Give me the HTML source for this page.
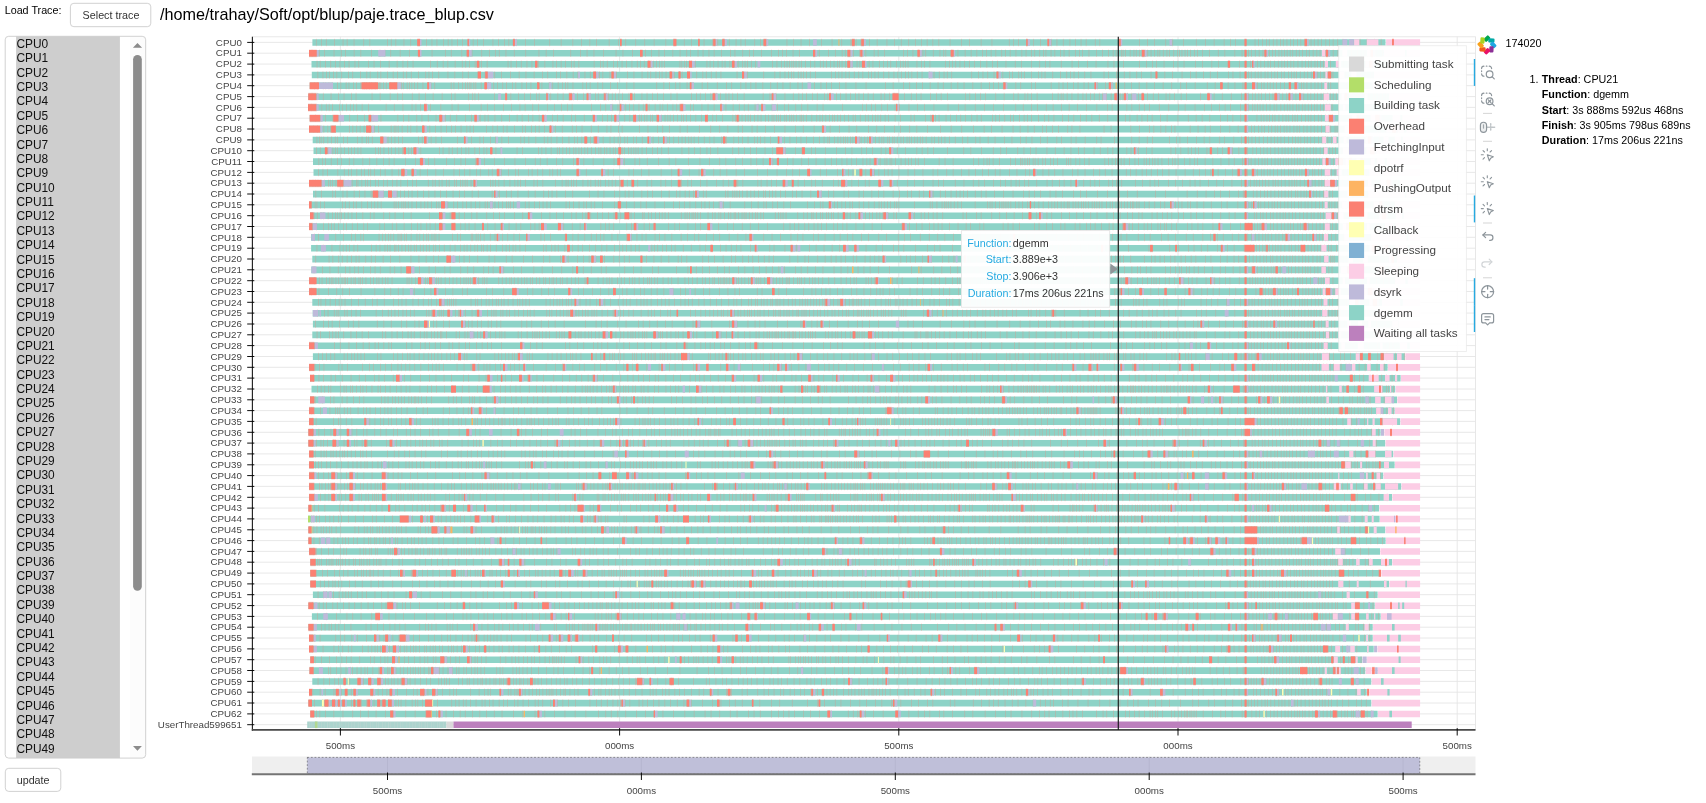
<!DOCTYPE html>
<html><head><meta charset="utf-8"><title>trace</title>
<style>html,body{margin:0;padding:0;background:#fff;width:1706px;height:803px;overflow:hidden}</style></head>
<body>
<svg width="1706" height="803" viewBox="0 0 1706 803" style="position:absolute;left:0;top:0;will-change:transform;font-family:'Liberation Sans',sans-serif">
<g stroke="#e5e5e5" stroke-width="0.9" fill="none">
<path d="M252.5 42.4H1475.5M252.5 53.2H1475.5M252.5 64.1H1475.5M252.5 74.9H1475.5M252.5 85.7H1475.5M252.5 96.6H1475.5M252.5 107.4H1475.5M252.5 118.2H1475.5M252.5 129H1475.5M252.5 139.9H1475.5M252.5 150.7H1475.5M252.5 161.5H1475.5M252.5 172.4H1475.5M252.5 183.2H1475.5M252.5 194H1475.5M252.5 204.8H1475.5M252.5 215.7H1475.5M252.5 226.5H1475.5M252.5 237.3H1475.5M252.5 248.2H1475.5M252.5 259H1475.5M252.5 269.8H1475.5M252.5 280.7H1475.5M252.5 291.5H1475.5M252.5 302.3H1475.5M252.5 313.1H1475.5M252.5 324H1475.5M252.5 334.8H1475.5M252.5 345.6H1475.5M252.5 356.5H1475.5M252.5 367.3H1475.5M252.5 378.1H1475.5M252.5 389H1475.5M252.5 399.8H1475.5M252.5 410.6H1475.5M252.5 421.4H1475.5M252.5 432.3H1475.5M252.5 443.1H1475.5M252.5 453.9H1475.5M252.5 464.8H1475.5M252.5 475.6H1475.5M252.5 486.4H1475.5M252.5 497.3H1475.5M252.5 508.1H1475.5M252.5 518.9H1475.5M252.5 529.8H1475.5M252.5 540.6H1475.5M252.5 551.4H1475.5M252.5 562.2H1475.5M252.5 573.1H1475.5M252.5 583.9H1475.5M252.5 594.7H1475.5M252.5 605.6H1475.5M252.5 616.4H1475.5M252.5 627.2H1475.5M252.5 638H1475.5M252.5 648.9H1475.5M252.5 659.7H1475.5M252.5 670.5H1475.5M252.5 681.4H1475.5M252.5 692.2H1475.5M252.5 703H1475.5M252.5 713.9H1475.5M252.5 724.7H1475.5M340.4 36.8V730M619.6 36.8V730M898.8 36.8V730M1178 36.8V730M1457.2 36.8V730"/>
<rect x="252.5" y="36.8" width="1223" height="693.2"/>
</g>
<path d="M312.4 42.5H1385.5M309 53.3H1383.9M311.5 64.2H1397.3M311.8 75H1374.2M309.7 85.8H1373.2M308.3 96.7H1389M308 107.5H1382.9M309.7 118.3H1392.7M309 129.1H1397.8M312.7 140H1394.9M313.5 150.8H1375.9M313 161.6H1377.4M313.5 172.5H1369.6M309 183.3H1399.9M313 194.1H1368.4M309 204.9H1395.1M310 215.8H1395.8M309.1 226.6H1385M311.1 237.4H1371.2M311.1 248.3H1395.3M312.3 259.1H1397.1M311.3 269.9H1391.4M309.1 280.8H1395.2M309.1 291.6H1370.9M312.3 302.4H1382.1M312.7 313.2H1379.4M312.9 324.1H1398.7M312.3 334.9H1377.1M309 345.7H1399.9M312.9 356.6H1404.9M309.1 367.4H1387.6M310 378.2H1400.6M311.5 389.1H1395.2M310 399.9H1397M309.1 410.7H1394.6M309.1 421.6H1400.2M308.4 432.4H1380.6M308.4 443.2H1385.2M309.1 454H1393.2M309.1 464.9H1394.6M309.1 475.7H1383.2M309.1 486.5H1401.2M309.1 497.4H1392M308.4 508.2H1379M308 519H1379.6M308.4 529.9H1385.2M308.4 540.7H1385.6M309.1 551.5H1380M310.3 562.3H1392M310.3 573.2H1381M310.3 584H1389M312.9 594.8H1377.6M308.4 605.7H1374.7M311.9 616.5H1380.6M308.4 627.3H1372.7M309 638.1H1372.7M309 649H1373.7M310.3 659.8H1362.1M309.5 670.6H1365.3M312.3 681.5H1371.3M309 692.3H1366.7M308.4 703.1H1371.3M310.3 714H1377.6" stroke="#8dd3c7" stroke-width="6.6" fill="none"/>
<g transform="scale(.1)" fill="none" stroke="#fb8072" stroke-opacity=".36" stroke-width="76">
<path d="M3159 425H13854" stroke-dasharray="7 46 7 40 7 77 7 77 7 34 7 62 7 90 7 54 7 170 7 30 7 39 7 74 7 61 7 75 7 69 7 47 7 43 7 58 7 40 7 31 7 47 7 43 7 63 7 31 7 35 7 54 7 88 7 48 7 55 7 35 7 67 7 84 7 86 7 144 7 107 7 110 7 80 7 76 7 61 7 118 7 86 7 66 7 93 7 83 7 87 7 110 7 75 7 95 7 65 7 63 7 49 7 78 7 46 7 47 7 53 7 61 7 42 7 36 7 88 7 51 7 53 7 197 7 59 7 68 7 77 7 112 7 100 7 90 7 84 7 46 7 41 7 80 7 68 7 91 7 69 7 60 7 68 7 61 7 53 7 49 7 50 7 53 7 105 7 106 7 75 7 109 7 101 7 166 7 36 7 43 7 73 7 63 7 64 7 101 7 48 7 56 7 60 7 48 7 49 7 44 7 84 7 39 7 194 7 188 7 74 7 61 7 107 7 63 7 101 7 120 7 87 7 78 7 93 7 56 7 44 7 87 7 94 7 27 7 34 7 31 7 22 7 33 7 30 7 30 7 19 7 30 7 29 7 23 7 34 7 25 7 32 7 25 7 24 7 25 7 31 7 29 7 35 7 30 7 29 7 39 7 45 7 164 7 63 7 70 7 57 7 99999"/>
<path d="M3117 533H13838" stroke-dasharray="7 67 7 42 7 90 7 65 7 36 7 79 7 60 7 100 7 77 7 43 7 51 7 87 7 87 7 105 7 106 7 127 7 51 7 99 7 95 7 90 7 70 7 53 7 31 7 60 7 76 7 108 7 125 7 65 7 66 7 166 7 92 7 57 7 62 7 89 7 118 7 62 7 90 7 120 7 53 7 69 7 48 7 77 7 65 7 60 7 31 7 68 7 43 7 52 7 45 7 65 7 83 7 39 7 71 7 59 7 34 7 74 7 93 7 64 7 32 7 32 7 59 7 57 7 148 7 36 7 86 7 61 7 61 7 24 7 77 7 52 7 56 7 76 7 33 7 55 7 185 7 31 7 49 7 51 7 35 7 21 7 68 7 60 7 31 7 14 7 53 7 54 7 65 7 53 7 50 7 49 7 33 7 40 7 40 7 52 7 32 7 38 7 51 7 52 7 35 7 49 7 24 7 43 7 30 7 18 7 44 7 31 7 48 7 30 7 44 7 58 7 32 7 22 7 58 7 68 7 55 7 52 7 39 7 23 7 17 7 24 7 7 7 16 7 41 7 31 7 16 7 24 7 15 7 29 7 19 7 26 7 27 7 27 7 13 7 27 7 30 7 19 7 35 7 30 7 12 7 19 7 24 7 17 7 24 7 33 7 23 7 43 7 62 7 81 7 59 7 93 7 65 7 23 7 26 7 24 7 31 7 32 7 31 7 21 7 29 7 26 7 20 7 29 7 22 7 19 7 20 7 23 7 19 7 28 7 23 7 27 7 31 7 21 7 32 7 30 7 25 7 32 7 19 7 18 7 34 7 40 7 65 7 57 7 55 7 35 7 24 7 22 7 22 7 47 7 58 7 99999"/>
<path d="M3167 642H13972" stroke-dasharray="7 24 7 48 7 44 7 40 7 38 7 40 7 37 7 52 7 31 7 89 7 50 7 56 7 81 7 73 7 51 7 41 7 46 7 168 7 60 7 52 7 40 7 66 7 64 7 28 7 31 7 49 7 55 7 51 7 202 7 23 7 48 7 40 7 50 7 43 7 56 7 59 7 74 7 27 7 41 7 37 7 54 7 18 7 40 7 146 7 57 7 19 7 34 7 56 7 31 7 40 7 37 7 48 7 46 7 27 7 29 7 33 7 25 7 11 7 24 7 23 7 19 7 17 7 149 7 12 7 18 7 16 7 18 7 22 7 28 7 107 7 24 7 30 7 36 7 34 7 22 7 41 7 30 7 39 7 36 7 19 7 19 7 32 7 33 7 161 7 39 7 38 7 25 7 17 7 18 7 16 7 12 7 16 7 23 7 19 7 32 7 42 7 37 7 47 7 23 7 27 7 30 7 30 7 29 7 12 7 18 7 29 7 24 7 30 7 39 7 21 7 49 7 30 7 31 7 60 7 30 7 34 7 26 7 51 7 33 7 19 7 18 7 17 7 82 7 39 7 24 7 46 7 148 7 35 7 20 7 27 7 35 7 40 7 43 7 41 7 54 7 56 7 48 7 46 7 76 7 86 7 54 7 94 7 76 7 50 7 38 7 106 7 101 7 59 7 83 7 77 7 112 7 53 7 90 7 151 7 65 7 51 7 34 7 68 7 88 7 37 7 54 7 106 7 63 7 88 7 59 7 98 7 98 7 102 7 26 7 30 7 28 7 28 7 30 7 17 7 33 7 31 7 29 7 21 7 21 7 27 7 23 7 34 7 34 7 26 7 23 7 21 7 31 7 17 7 26 7 20 7 24 7 34 7 60 7 53 7 42 7 44 7 52 7 186 7 47 7 91 7 99999"/>
<path d="M3175 750H13742" stroke-dasharray="7 44 7 28 7 23 7 32 7 28 7 42 7 62 7 34 7 71 7 56 7 26 7 69 7 24 7 58 7 51 7 38 7 49 7 28 7 38 7 67 7 64 7 25 7 30 7 54 7 85 7 62 7 72 7 48 7 88 7 66 7 90 7 62 7 82 7 79 7 61 7 75 7 77 7 45 7 81 7 31 7 58 7 56 7 40 7 64 7 46 7 85 7 27 7 64 7 59 7 103 7 57 7 74 7 51 7 22 7 45 7 30 7 17 7 33 7 35 7 32 7 44 7 22 7 139 7 54 7 27 7 43 7 42 7 41 7 154 7 48 7 43 7 155 7 104 7 45 7 42 7 30 7 22 7 16 7 37 7 21 7 18 7 23 7 30 7 46 7 153 7 32 7 27 7 24 7 32 7 26 7 44 7 38 7 34 7 49 7 25 7 26 7 26 7 48 7 44 7 44 7 32 7 29 7 35 7 21 7 27 7 47 7 41 7 66 7 40 7 45 7 41 7 25 7 38 7 193 7 59 7 39 7 41 7 56 7 81 7 59 7 25 7 54 7 22 7 21 7 63 7 63 7 27 7 25 7 70 7 72 7 54 7 29 7 30 7 37 7 56 7 55 7 124 7 36 7 75 7 70 7 50 7 61 7 40 7 89 7 43 7 81 7 70 7 88 7 77 7 50 7 66 7 61 7 66 7 101 7 39 7 64 7 76 7 22 7 32 7 23 7 22 7 33 7 22 7 29 7 26 7 21 7 33 7 19 7 34 7 26 7 18 7 18 7 29 7 33 7 28 7 28 7 21 7 30 7 21 7 28 7 25 7 20 7 23 7 116 7 49 7 91 7 45 7 54 7 99999"/>
<path d="M3140 858H13732" stroke-dasharray="7 23 7 52 7 18 7 25 7 26 7 45 7 27 7 46 7 21 7 39 7 22 7 36 7 28 7 14 7 26 7 15 7 27 7 34 7 8 7 21 7 19 7 37 7 34 7 15 7 37 7 12 7 32 7 17 7 16 7 19 7 26 7 45 7 48 7 19 7 30 7 157 7 21 7 37 7 35 7 24 7 11 7 11 7 10 7 22 7 13 7 46 7 38 7 22 7 45 7 31 7 45 7 31 7 53 7 26 7 54 7 39 7 37 7 59 7 37 7 65 7 29 7 47 7 38 7 20 7 18 7 44 7 92 7 28 7 31 7 70 7 42 7 71 7 63 7 86 7 64 7 221 7 64 7 49 7 56 7 35 7 64 7 53 7 84 7 49 7 88 7 84 7 47 7 84 7 44 7 42 7 44 7 62 7 72 7 58 7 50 7 65 7 71 7 36 7 115 7 58 7 49 7 44 7 70 7 59 7 93 7 94 7 187 7 70 7 97 7 55 7 60 7 53 7 70 7 72 7 45 7 72 7 60 7 55 7 81 7 76 7 78 7 32 7 41 7 42 7 119 7 42 7 100 7 34 7 149 7 71 7 34 7 38 7 51 7 40 7 53 7 35 7 84 7 74 7 64 7 55 7 53 7 61 7 69 7 70 7 68 7 81 7 79 7 83 7 51 7 79 7 114 7 72 7 51 7 65 7 61 7 73 7 140 7 33 7 17 7 28 7 19 7 24 7 25 7 35 7 33 7 30 7 18 7 29 7 22 7 34 7 17 7 24 7 34 7 32 7 24 7 30 7 32 7 19 7 18 7 73 7 68 7 22 7 58 7 70 7 80 7 99999"/>
<path d="M3117 966H13890" stroke-dasharray="7 43 7 55 7 71 7 68 7 48 7 69 7 37 7 153 7 74 7 93 7 69 7 39 7 92 7 61 7 59 7 68 7 83 7 85 7 30 7 127 7 33 7 18 7 29 7 152 7 108 7 42 7 70 7 52 7 52 7 55 7 19 7 68 7 34 7 64 7 46 7 52 7 38 7 33 7 52 7 63 7 42 7 22 7 49 7 18 7 13 7 32 7 24 7 28 7 29 7 58 7 47 7 69 7 44 7 49 7 40 7 54 7 68 7 54 7 138 7 44 7 29 7 45 7 47 7 49 7 35 7 46 7 23 7 31 7 41 7 59 7 183 7 61 7 54 7 82 7 76 7 49 7 30 7 34 7 53 7 39 7 66 7 26 7 22 7 50 7 35 7 47 7 36 7 43 7 29 7 40 7 38 7 44 7 71 7 30 7 41 7 39 7 97 7 60 7 46 7 38 7 87 7 54 7 39 7 57 7 172 7 37 7 51 7 40 7 43 7 97 7 77 7 89 7 37 7 61 7 22 7 31 7 48 7 146 7 50 7 23 7 13 7 33 7 41 7 54 7 42 7 26 7 36 7 30 7 43 7 25 7 35 7 38 7 46 7 30 7 21 7 38 7 31 7 64 7 33 7 46 7 49 7 47 7 67 7 31 7 40 7 59 7 47 7 132 7 77 7 46 7 74 7 83 7 95 7 65 7 32 7 20 7 29 7 18 7 35 7 32 7 28 7 23 7 25 7 29 7 33 7 19 7 26 7 26 7 30 7 35 7 33 7 23 7 29 7 22 7 30 7 20 7 29 7 22 7 22 7 24 7 45 7 30 7 29 7 25 7 28 7 25 7 103 7 31 7 13 7 28 7 27 7 28 7 99999"/>
<path d="M3114 1075H13829" stroke-dasharray="7 39 7 48 7 37 7 22 7 28 7 60 7 23 7 33 7 32 7 24 7 27 7 47 7 56 7 170 7 74 7 80 7 84 7 32 7 40 7 93 7 95 7 105 7 54 7 105 7 111 7 55 7 63 7 83 7 75 7 77 7 45 7 69 7 51 7 83 7 64 7 62 7 52 7 40 7 185 7 84 7 46 7 63 7 45 7 71 7 32 7 34 7 45 7 36 7 52 7 53 7 42 7 21 7 38 7 49 7 31 7 21 7 35 7 60 7 24 7 77 7 54 7 54 7 64 7 40 7 65 7 54 7 43 7 33 7 61 7 24 7 51 7 74 7 48 7 62 7 32 7 67 7 53 7 54 7 86 7 52 7 186 7 193 7 34 7 45 7 30 7 57 7 52 7 67 7 39 7 86 7 77 7 66 7 86 7 134 7 99 7 58 7 94 7 85 7 83 7 94 7 115 7 68 7 76 7 54 7 79 7 62 7 75 7 71 7 75 7 85 7 96 7 98 7 41 7 140 7 43 7 67 7 45 7 44 7 90 7 88 7 89 7 61 7 92 7 89 7 62 7 73 7 49 7 48 7 93 7 70 7 34 7 18 7 20 7 17 7 23 7 26 7 30 7 34 7 20 7 33 7 27 7 23 7 20 7 23 7 27 7 19 7 26 7 21 7 25 7 27 7 23 7 17 7 27 7 23 7 25 7 19 7 21 7 61 7 106 7 99 7 41 7 48 7 94 7 99999"/>
<path d="M3150 1183H13927" stroke-dasharray="7 58 7 30 7 66 7 70 7 85 7 72 7 62 7 78 7 72 7 162 7 49 7 47 7 72 7 45 7 56 7 71 7 38 7 42 7 41 7 58 7 81 7 54 7 78 7 41 7 25 7 61 7 61 7 72 7 68 7 43 7 57 7 36 7 56 7 56 7 64 7 42 7 50 7 76 7 33 7 81 7 77 7 93 7 40 7 34 7 32 7 26 7 54 7 44 7 27 7 14 7 35 7 10 7 24 7 19 7 29 7 14 7 33 7 41 7 29 7 21 7 16 7 28 7 31 7 34 7 14 7 20 7 35 7 46 7 50 7 53 7 45 7 30 7 54 7 96 7 19 7 28 7 24 7 28 7 19 7 18 7 33 7 26 7 24 7 39 7 22 7 28 7 12 7 20 7 11 7 14 7 35 7 10 7 26 7 13 7 13 7 19 7 30 7 9 7 9 7 25 7 47 7 42 7 25 7 19 7 26 7 28 7 26 7 12 7 25 7 22 7 31 7 35 7 38 7 16 7 41 7 44 7 22 7 37 7 23 7 16 7 21 7 37 7 26 7 60 7 45 7 99 7 26 7 107 7 44 7 42 7 27 7 63 7 37 7 53 7 36 7 40 7 56 7 46 7 35 7 107 7 24 7 32 7 44 7 52 7 21 7 55 7 38 7 25 7 35 7 64 7 52 7 35 7 45 7 77 7 54 7 47 7 58 7 52 7 49 7 67 7 78 7 93 7 71 7 37 7 65 7 41 7 50 7 38 7 77 7 59 7 101 7 96 7 72 7 53 7 70 7 100 7 64 7 45 7 72 7 155 7 35 7 21 7 23 7 18 7 22 7 19 7 33 7 32 7 25 7 20 7 30 7 19 7 18 7 31 7 34 7 21 7 20 7 28 7 31 7 23 7 34 7 25 7 31 7 85 7 77 7 102 7 103 7 114 7 99999"/>
<path d="M3134 1291H13977" stroke-dasharray="7 30 7 22 7 28 7 33 7 21 7 40 7 133 7 28 7 32 7 27 7 33 7 46 7 42 7 36 7 118 7 23 7 11 7 15 7 33 7 49 7 24 7 54 7 57 7 58 7 49 7 49 7 49 7 40 7 34 7 49 7 51 7 25 7 29 7 121 7 57 7 37 7 53 7 31 7 68 7 71 7 25 7 51 7 36 7 28 7 47 7 53 7 43 7 60 7 93 7 35 7 49 7 85 7 63 7 80 7 33 7 70 7 28 7 166 7 78 7 88 7 46 7 59 7 100 7 65 7 115 7 106 7 83 7 74 7 96 7 36 7 89 7 44 7 78 7 80 7 99 7 99 7 70 7 102 7 73 7 73 7 88 7 87 7 70 7 110 7 76 7 72 7 90 7 55 7 85 7 64 7 101 7 120 7 101 7 99 7 109 7 101 7 65 7 100 7 103 7 64 7 71 7 56 7 74 7 36 7 50 7 54 7 86 7 35 7 73 7 234 7 63 7 191 7 81 7 93 7 35 7 63 7 43 7 50 7 27 7 145 7 72 7 64 7 44 7 95 7 87 7 76 7 81 7 38 7 24 7 34 7 25 7 21 7 31 7 26 7 27 7 19 7 21 7 29 7 21 7 23 7 33 7 24 7 20 7 34 7 25 7 32 7 26 7 29 7 31 7 31 7 21 7 18 7 36 7 13 7 17 7 33 7 50 7 30 7 39 7 24 7 161 7 21 7 44 7 53 7 21 7 13 7 99999"/>
<path d="M3166 1400H13948" stroke-dasharray="7 17 7 11 7 19 7 34 7 31 7 29 7 17 7 51 7 34 7 92 7 39 7 38 7 12 7 31 7 151 7 27 7 28 7 30 7 30 7 156 7 29 7 37 7 38 7 41 7 49 7 151 7 62 7 66 7 77 7 30 7 62 7 43 7 56 7 59 7 117 7 27 7 39 7 63 7 77 7 29 7 26 7 51 7 50 7 56 7 50 7 22 7 36 7 26 7 45 7 25 7 30 7 52 7 62 7 34 7 33 7 15 7 37 7 19 7 55 7 22 7 51 7 71 7 23 7 48 7 40 7 29 7 20 7 35 7 41 7 28 7 25 7 28 7 17 7 23 7 36 7 51 7 49 7 35 7 67 7 42 7 68 7 40 7 34 7 47 7 56 7 25 7 24 7 35 7 48 7 63 7 64 7 48 7 58 7 38 7 50 7 62 7 54 7 37 7 31 7 11 7 41 7 28 7 22 7 21 7 11 7 16 7 21 7 16 7 26 7 27 7 9 7 29 7 20 7 38 7 28 7 30 7 20 7 13 7 32 7 11 7 25 7 8 7 23 7 30 7 18 7 29 7 15 7 15 7 26 7 18 7 23 7 18 7 27 7 50 7 18 7 37 7 21 7 27 7 38 7 51 7 67 7 45 7 72 7 36 7 74 7 62 7 86 7 69 7 79 7 49 7 51 7 78 7 61 7 89 7 41 7 88 7 42 7 84 7 109 7 36 7 126 7 167 7 67 7 74 7 46 7 161 7 64 7 28 7 70 7 81 7 70 7 50 7 92 7 39 7 88 7 71 7 60 7 29 7 28 7 30 7 35 7 33 7 30 7 29 7 24 7 25 7 30 7 33 7 33 7 20 7 21 7 20 7 31 7 19 7 28 7 30 7 33 7 29 7 26 7 18 7 29 7 39 7 39 7 66 7 56 7 59 7 49 7 46 7 69 7 52 7 99999"/>
<path d="M3161 1508H13759" stroke-dasharray="7 31 7 48 7 24 7 33 7 21 7 12 7 28 7 29 7 31 7 24 7 21 7 29 7 23 7 139 7 24 7 11 7 28 7 39 7 23 7 30 7 29 7 31 7 54 7 20 7 32 7 48 7 178 7 30 7 53 7 25 7 43 7 35 7 38 7 22 7 53 7 40 7 37 7 22 7 37 7 40 7 43 7 154 7 46 7 154 7 27 7 34 7 45 7 54 7 16 7 26 7 29 7 26 7 33 7 15 7 23 7 18 7 27 7 22 7 31 7 34 7 25 7 14 7 30 7 15 7 25 7 25 7 14 7 27 7 10 7 10 7 15 7 36 7 18 7 20 7 14 7 15 7 32 7 39 7 52 7 44 7 34 7 58 7 130 7 62 7 50 7 50 7 60 7 29 7 66 7 142 7 53 7 52 7 53 7 50 7 80 7 67 7 125 7 92 7 57 7 87 7 36 7 90 7 103 7 86 7 56 7 91 7 41 7 52 7 80 7 40 7 107 7 76 7 106 7 46 7 50 7 49 7 133 7 156 7 64 7 100 7 110 7 68 7 51 7 105 7 55 7 57 7 50 7 102 7 76 7 82 7 61 7 70 7 49 7 91 7 55 7 69 7 43 7 133 7 35 7 66 7 74 7 49 7 182 7 41 7 44 7 66 7 27 7 30 7 26 7 77 7 42 7 52 7 42 7 91 7 57 7 78 7 48 7 28 7 34 7 27 7 26 7 29 7 35 7 26 7 31 7 23 7 24 7 25 7 26 7 18 7 30 7 22 7 25 7 25 7 28 7 17 7 34 7 25 7 20 7 30 7 19 7 26 7 30 7 12 7 11 7 154 7 117 7 99999"/>
<path d="M3185 1616H13774" stroke-dasharray="7 29 7 25 7 49 7 57 7 31 7 71 7 39 7 83 7 62 7 64 7 58 7 51 7 43 7 106 7 95 7 50 7 66 7 54 7 112 7 72 7 57 7 40 7 94 7 82 7 91 7 92 7 99 7 99 7 90 7 43 7 62 7 87 7 55 7 101 7 96 7 86 7 100 7 95 7 95 7 100 7 41 7 68 7 105 7 100 7 60 7 118 7 109 7 87 7 97 7 54 7 92 7 61 7 77 7 51 7 57 7 90 7 52 7 82 7 47 7 80 7 59 7 70 7 84 7 56 7 44 7 47 7 43 7 41 7 39 7 59 7 32 7 25 7 33 7 22 7 25 7 41 7 13 7 24 7 11 7 29 7 49 7 35 7 26 7 21 7 34 7 21 7 57 7 138 7 52 7 74 7 197 7 45 7 44 7 25 7 15 7 32 7 58 7 102 7 42 7 42 7 11 7 21 7 20 7 11 7 30 7 13 7 23 7 39 7 22 7 41 7 24 7 33 7 81 7 16 7 15 7 43 7 33 7 38 7 40 7 151 7 28 7 31 7 26 7 15 7 28 7 23 7 48 7 46 7 29 7 49 7 15 7 24 7 23 7 18 7 24 7 32 7 57 7 33 7 20 7 24 7 55 7 49 7 39 7 21 7 71 7 70 7 74 7 73 7 46 7 77 7 49 7 22 7 32 7 26 7 30 7 22 7 19 7 31 7 30 7 24 7 17 7 20 7 22 7 18 7 25 7 19 7 23 7 19 7 26 7 26 7 28 7 28 7 20 7 26 7 22 7 33 7 29 7 25 7 23 7 16 7 25 7 29 7 11 7 30 7 39 7 51 7 26 7 50 7 21 7 27 7 99999"/>
<path d="M3180 1725H13696" stroke-dasharray="7 39 7 40 7 95 7 57 7 35 7 24 7 46 7 39 7 25 7 30 7 17 7 29 7 54 7 40 7 62 7 60 7 42 7 81 7 70 7 67 7 76 7 69 7 98 7 47 7 43 7 49 7 57 7 32 7 78 7 28 7 83 7 64 7 65 7 24 7 91 7 30 7 49 7 43 7 64 7 22 7 38 7 24 7 172 7 73 7 212 7 46 7 148 7 38 7 72 7 69 7 115 7 99 7 67 7 94 7 91 7 46 7 87 7 57 7 60 7 86 7 78 7 120 7 94 7 89 7 88 7 55 7 60 7 93 7 101 7 54 7 103 7 106 7 36 7 58 7 57 7 77 7 39 7 51 7 28 7 32 7 62 7 84 7 60 7 75 7 94 7 41 7 82 7 57 7 77 7 67 7 60 7 62 7 53 7 60 7 41 7 88 7 67 7 78 7 36 7 43 7 75 7 52 7 52 7 75 7 89 7 47 7 64 7 76 7 57 7 48 7 61 7 60 7 68 7 35 7 50 7 53 7 35 7 42 7 56 7 41 7 59 7 64 7 84 7 74 7 56 7 51 7 49 7 65 7 68 7 60 7 42 7 97 7 34 7 26 7 18 7 32 7 19 7 27 7 19 7 28 7 33 7 32 7 24 7 32 7 18 7 20 7 18 7 25 7 19 7 27 7 27 7 29 7 18 7 31 7 23 7 28 7 22 7 26 7 30 7 36 7 32 7 33 7 30 7 18 7 126 7 99999"/>
<path d="M3126 1833H13998" stroke-dasharray="7 17 7 19 7 24 7 27 7 34 7 10 7 14 7 29 7 36 7 31 7 34 7 33 7 35 7 9 7 32 7 31 7 14 7 22 7 43 7 21 7 42 7 32 7 44 7 39 7 32 7 58 7 43 7 34 7 111 7 39 7 17 7 32 7 22 7 38 7 19 7 46 7 15 7 32 7 16 7 16 7 13 7 32 7 19 7 24 7 130 7 18 7 17 7 28 7 46 7 51 7 42 7 24 7 20 7 43 7 76 7 26 7 49 7 118 7 61 7 32 7 14 7 28 7 14 7 22 7 56 7 43 7 22 7 37 7 23 7 18 7 42 7 25 7 26 7 29 7 32 7 33 7 29 7 34 7 57 7 86 7 40 7 85 7 41 7 51 7 91 7 58 7 30 7 83 7 57 7 89 7 59 7 49 7 84 7 43 7 143 7 26 7 52 7 37 7 43 7 143 7 60 7 55 7 67 7 31 7 60 7 104 7 42 7 77 7 45 7 60 7 60 7 32 7 98 7 90 7 72 7 98 7 61 7 80 7 91 7 49 7 41 7 111 7 80 7 86 7 49 7 48 7 85 7 63 7 41 7 50 7 43 7 25 7 44 7 37 7 73 7 96 7 45 7 67 7 38 7 61 7 48 7 66 7 58 7 39 7 40 7 85 7 29 7 33 7 47 7 129 7 63 7 70 7 41 7 28 7 93 7 63 7 63 7 70 7 43 7 43 7 79 7 74 7 61 7 77 7 88 7 84 7 29 7 19 7 21 7 21 7 23 7 28 7 35 7 18 7 19 7 27 7 29 7 32 7 22 7 17 7 18 7 26 7 35 7 33 7 30 7 24 7 31 7 22 7 18 7 26 7 27 7 48 7 55 7 42 7 99 7 40 7 39 7 56 7 59 7 67 7 81 7 99999"/>
<path d="M3155 1941H13683" stroke-dasharray="7 48 7 107 7 22 7 66 7 34 7 64 7 45 7 49 7 55 7 52 7 57 7 130 7 25 7 36 7 32 7 28 7 50 7 52 7 45 7 54 7 50 7 53 7 57 7 57 7 42 7 71 7 54 7 132 7 64 7 67 7 39 7 60 7 96 7 62 7 79 7 42 7 27 7 41 7 79 7 66 7 159 7 80 7 52 7 97 7 48 7 46 7 31 7 41 7 74 7 52 7 41 7 84 7 68 7 67 7 27 7 45 7 34 7 34 7 35 7 50 7 23 7 185 7 18 7 41 7 14 7 14 7 20 7 21 7 39 7 31 7 27 7 36 7 41 7 15 7 33 7 24 7 25 7 39 7 42 7 64 7 35 7 47 7 81 7 98 7 65 7 45 7 96 7 36 7 100 7 37 7 77 7 58 7 48 7 86 7 57 7 72 7 35 7 69 7 38 7 86 7 65 7 46 7 48 7 45 7 31 7 26 7 34 7 71 7 53 7 41 7 79 7 82 7 88 7 98 7 49 7 47 7 51 7 90 7 52 7 60 7 100 7 65 7 53 7 102 7 95 7 112 7 71 7 92 7 177 7 92 7 209 7 94 7 81 7 78 7 54 7 80 7 84 7 41 7 93 7 30 7 27 7 34 7 25 7 26 7 32 7 28 7 27 7 26 7 29 7 20 7 33 7 18 7 24 7 24 7 19 7 27 7 30 7 20 7 27 7 29 7 23 7 27 7 20 7 105 7 106 7 61 7 99999"/>
<path d="M3111 2050H13950" stroke-dasharray="7 30 7 11 7 27 7 33 7 173 7 25 7 30 7 35 7 21 7 48 7 51 7 32 7 26 7 24 7 26 7 123 7 12 7 17 7 27 7 13 7 12 7 18 7 30 7 37 7 39 7 31 7 24 7 31 7 42 7 17 7 35 7 40 7 52 7 32 7 45 7 28 7 40 7 39 7 35 7 46 7 18 7 19 7 16 7 17 7 29 7 31 7 36 7 14 7 11 7 22 7 111 7 31 7 48 7 41 7 30 7 32 7 29 7 148 7 29 7 33 7 47 7 41 7 19 7 40 7 29 7 71 7 114 7 55 7 49 7 71 7 59 7 47 7 80 7 88 7 82 7 53 7 43 7 49 7 51 7 50 7 28 7 36 7 37 7 48 7 36 7 60 7 139 7 61 7 59 7 50 7 17 7 58 7 39 7 58 7 58 7 165 7 63 7 50 7 20 7 48 7 52 7 25 7 36 7 29 7 38 7 20 7 58 7 39 7 44 7 47 7 41 7 17 7 21 7 26 7 22 7 34 7 15 7 14 7 151 7 148 7 14 7 40 7 44 7 16 7 11 7 14 7 20 7 26 7 29 7 31 7 128 7 117 7 18 7 13 7 29 7 31 7 18 7 12 7 14 7 15 7 20 7 39 7 28 7 30 7 40 7 22 7 37 7 35 7 36 7 45 7 28 7 22 7 19 7 31 7 23 7 24 7 11 7 33 7 21 7 17 7 27 7 13 7 15 7 20 7 29 7 15 7 18 7 17 7 20 7 40 7 28 7 17 7 27 7 27 7 14 7 23 7 21 7 24 7 13 7 8 7 23 7 15 7 47 7 40 7 49 7 50 7 36 7 65 7 28 7 24 7 27 7 52 7 21 7 57 7 61 7 67 7 94 7 51 7 100 7 95 7 30 7 29 7 23 7 18 7 32 7 29 7 30 7 19 7 21 7 26 7 33 7 25 7 27 7 23 7 34 7 20 7 32 7 23 7 31 7 32 7 31 7 21 7 28 7 26 7 20 7 24 7 23 7 12 7 14 7 11 7 12 7 20 7 10 7 15 7 108 7 31 7 19 7 31 7 11 7 35 7 15 7 34 7 30 7 36 7 99999"/>
<path d="M3138 2158H13957" stroke-dasharray="7 24 7 31 7 20 7 37 7 37 7 21 7 13 7 19 7 10 7 24 7 27 7 31 7 39 7 56 7 67 7 31 7 90 7 53 7 46 7 78 7 69 7 176 7 95 7 98 7 83 7 46 7 66 7 45 7 91 7 59 7 56 7 42 7 94 7 74 7 72 7 103 7 76 7 59 7 64 7 74 7 37 7 55 7 29 7 41 7 61 7 43 7 54 7 47 7 18 7 35 7 29 7 34 7 19 7 27 7 73 7 10 7 36 7 24 7 31 7 36 7 18 7 22 7 29 7 119 7 31 7 14 7 15 7 20 7 11 7 11 7 14 7 19 7 70 7 36 7 20 7 31 7 13 7 28 7 36 7 15 7 26 7 9 7 20 7 29 7 14 7 12 7 25 7 23 7 25 7 11 7 29 7 18 7 112 7 26 7 16 7 15 7 23 7 110 7 53 7 28 7 38 7 7 7 27 7 31 7 17 7 30 7 13 7 23 7 14 7 39 7 39 7 36 7 25 7 49 7 50 7 31 7 36 7 23 7 35 7 23 7 23 7 17 7 20 7 52 7 21 7 170 7 61 7 29 7 32 7 38 7 32 7 50 7 196 7 29 7 90 7 41 7 99 7 73 7 62 7 68 7 76 7 66 7 60 7 98 7 41 7 92 7 72 7 65 7 62 7 64 7 56 7 92 7 57 7 61 7 67 7 44 7 55 7 26 7 92 7 44 7 47 7 40 7 39 7 61 7 42 7 67 7 50 7 65 7 77 7 78 7 77 7 52 7 99 7 79 7 18 7 31 7 18 7 26 7 34 7 20 7 31 7 24 7 24 7 19 7 26 7 29 7 24 7 34 7 31 7 27 7 34 7 22 7 33 7 18 7 22 7 26 7 30 7 66 7 30 7 24 7 66 7 53 7 39 7 44 7 59 7 27 7 99999"/>
<path d="M3123 2266H13850" stroke-dasharray="7 31 7 62 7 46 7 21 7 21 7 36 7 41 7 26 7 49 7 45 7 56 7 32 7 115 7 38 7 72 7 38 7 67 7 67 7 51 7 29 7 51 7 26 7 45 7 44 7 138 7 52 7 37 7 32 7 53 7 65 7 48 7 66 7 70 7 56 7 64 7 40 7 92 7 35 7 35 7 183 7 49 7 78 7 72 7 200 7 39 7 30 7 39 7 123 7 42 7 45 7 66 7 48 7 180 7 58 7 39 7 78 7 70 7 42 7 89 7 75 7 84 7 52 7 82 7 73 7 77 7 81 7 156 7 56 7 39 7 34 7 53 7 33 7 46 7 32 7 28 7 44 7 65 7 29 7 48 7 34 7 83 7 73 7 75 7 89 7 195 7 68 7 64 7 48 7 67 7 38 7 35 7 32 7 66 7 80 7 74 7 37 7 86 7 33 7 186 7 42 7 43 7 58 7 144 7 37 7 67 7 55 7 75 7 34 7 95 7 41 7 59 7 32 7 40 7 55 7 71 7 32 7 46 7 35 7 59 7 28 7 51 7 50 7 29 7 29 7 59 7 17 7 33 7 15 7 45 7 40 7 103 7 38 7 53 7 42 7 94 7 64 7 98 7 92 7 42 7 26 7 24 7 23 7 19 7 20 7 23 7 30 7 32 7 23 7 28 7 34 7 28 7 26 7 17 7 25 7 35 7 20 7 18 7 18 7 25 7 29 7 32 7 31 7 30 7 27 7 22 7 17 7 29 7 26 7 62 7 41 7 33 7 29 7 71 7 28 7 58 7 47 7 99999"/>
<path d="M3143 2374H13712" stroke-dasharray="7 32 7 165 7 70 7 72 7 34 7 47 7 19 7 149 7 28 7 23 7 22 7 17 7 22 7 36 7 13 7 10 7 21 7 12 7 40 7 51 7 22 7 31 7 24 7 11 7 27 7 15 7 11 7 24 7 127 7 42 7 25 7 100 7 8 7 27 7 13 7 17 7 29 7 54 7 41 7 32 7 29 7 45 7 55 7 47 7 66 7 136 7 28 7 53 7 140 7 70 7 46 7 59 7 58 7 47 7 30 7 29 7 73 7 52 7 81 7 40 7 49 7 44 7 33 7 83 7 39 7 46 7 62 7 86 7 56 7 62 7 37 7 71 7 62 7 56 7 87 7 80 7 74 7 171 7 76 7 77 7 98 7 61 7 45 7 100 7 39 7 61 7 84 7 53 7 65 7 48 7 80 7 64 7 94 7 72 7 109 7 56 7 52 7 91 7 83 7 78 7 64 7 80 7 87 7 85 7 73 7 46 7 68 7 66 7 92 7 156 7 73 7 126 7 83 7 113 7 82 7 49 7 80 7 66 7 60 7 58 7 79 7 51 7 107 7 54 7 51 7 105 7 61 7 66 7 101 7 63 7 89 7 68 7 63 7 52 7 83 7 58 7 83 7 32 7 32 7 27 7 31 7 21 7 19 7 29 7 34 7 24 7 31 7 17 7 25 7 21 7 30 7 30 7 33 7 32 7 28 7 31 7 22 7 24 7 21 7 21 7 20 7 26 7 38 7 68 7 92 7 93 7 40 7 99999"/>
<path d="M3166 2483H13953" stroke-dasharray="7 56 7 80 7 73 7 25 7 24 7 24 7 39 7 31 7 130 7 40 7 31 7 43 7 17 7 20 7 37 7 8 7 19 7 27 7 27 7 24 7 18 7 26 7 17 7 29 7 23 7 25 7 21 7 35 7 16 7 31 7 40 7 52 7 42 7 46 7 31 7 22 7 30 7 34 7 20 7 32 7 12 7 31 7 28 7 49 7 55 7 30 7 28 7 27 7 21 7 34 7 48 7 172 7 21 7 49 7 26 7 25 7 59 7 24 7 39 7 49 7 35 7 64 7 55 7 55 7 43 7 69 7 46 7 23 7 31 7 38 7 36 7 31 7 120 7 20 7 25 7 41 7 34 7 41 7 30 7 74 7 73 7 80 7 48 7 54 7 81 7 50 7 45 7 46 7 37 7 87 7 188 7 35 7 102 7 111 7 119 7 61 7 72 7 74 7 67 7 77 7 67 7 100 7 94 7 56 7 105 7 43 7 45 7 109 7 114 7 62 7 49 7 118 7 110 7 66 7 107 7 42 7 74 7 68 7 109 7 65 7 37 7 63 7 51 7 78 7 37 7 54 7 43 7 62 7 92 7 72 7 81 7 105 7 83 7 108 7 196 7 201 7 81 7 94 7 47 7 65 7 58 7 91 7 92 7 60 7 93 7 57 7 24 7 21 7 23 7 26 7 18 7 33 7 28 7 21 7 18 7 22 7 32 7 35 7 18 7 30 7 24 7 19 7 29 7 28 7 25 7 28 7 23 7 24 7 29 7 33 7 20 7 48 7 74 7 71 7 53 7 42 7 31 7 70 7 44 7 73 7 48 7 99999"/>
<path d="M3154 2591H13971" stroke-dasharray="7 126 7 31 7 52 7 28 7 42 7 38 7 37 7 23 7 60 7 48 7 36 7 69 7 68 7 85 7 104 7 73 7 65 7 69 7 40 7 84 7 51 7 53 7 40 7 48 7 75 7 106 7 51 7 107 7 52 7 105 7 83 7 103 7 58 7 99 7 70 7 86 7 53 7 50 7 59 7 81 7 86 7 47 7 43 7 43 7 165 7 68 7 65 7 70 7 86 7 25 7 48 7 152 7 52 7 53 7 78 7 76 7 33 7 66 7 52 7 34 7 52 7 49 7 41 7 36 7 158 7 73 7 64 7 30 7 84 7 67 7 53 7 42 7 43 7 39 7 69 7 28 7 76 7 44 7 39 7 35 7 212 7 48 7 32 7 46 7 64 7 81 7 102 7 58 7 44 7 104 7 44 7 56 7 66 7 42 7 83 7 103 7 106 7 82 7 44 7 50 7 83 7 57 7 40 7 47 7 66 7 86 7 161 7 75 7 39 7 37 7 37 7 26 7 66 7 131 7 64 7 27 7 43 7 39 7 54 7 35 7 54 7 38 7 49 7 40 7 89 7 48 7 89 7 59 7 62 7 40 7 100 7 30 7 25 7 30 7 31 7 21 7 31 7 17 7 34 7 27 7 27 7 23 7 25 7 17 7 21 7 31 7 28 7 26 7 23 7 35 7 34 7 23 7 34 7 27 7 23 7 9 7 13 7 39 7 16 7 21 7 17 7 125 7 58 7 47 7 34 7 40 7 40 7 26 7 28 7 99999"/>
<path d="M3137 2699H13913" stroke-dasharray="7 77 7 68 7 76 7 67 7 36 7 41 7 28 7 44 7 66 7 37 7 45 7 92 7 39 7 56 7 65 7 105 7 89 7 58 7 86 7 46 7 99 7 63 7 53 7 93 7 42 7 38 7 99 7 91 7 71 7 118 7 76 7 98 7 84 7 104 7 97 7 73 7 93 7 42 7 179 7 79 7 71 7 105 7 52 7 176 7 107 7 76 7 54 7 63 7 76 7 63 7 39 7 86 7 56 7 76 7 55 7 61 7 56 7 57 7 51 7 102 7 49 7 59 7 71 7 67 7 104 7 63 7 61 7 95 7 52 7 55 7 75 7 103 7 213 7 91 7 119 7 74 7 80 7 65 7 87 7 61 7 53 7 116 7 81 7 87 7 56 7 50 7 35 7 78 7 46 7 72 7 50 7 112 7 72 7 78 7 74 7 82 7 46 7 57 7 47 7 72 7 68 7 49 7 23 7 51 7 40 7 139 7 44 7 41 7 31 7 16 7 41 7 22 7 42 7 34 7 57 7 69 7 73 7 45 7 70 7 61 7 55 7 50 7 25 7 17 7 30 7 25 7 28 7 26 7 20 7 26 7 24 7 33 7 35 7 23 7 33 7 27 7 31 7 22 7 17 7 21 7 33 7 25 7 34 7 30 7 24 7 25 7 116 7 55 7 54 7 27 7 42 7 60 7 45 7 47 7 64 7 99999"/>
<path d="M3141 2808H13952" stroke-dasharray="7 41 7 21 7 36 7 22 7 13 7 10 7 23 7 21 7 26 7 14 7 8 7 11 7 30 7 21 7 9 7 27 7 9 7 12 7 28 7 38 7 23 7 27 7 14 7 26 7 25 7 18 7 34 7 143 7 13 7 21 7 29 7 94 7 15 7 14 7 20 7 9 7 16 7 13 7 19 7 34 7 35 7 30 7 31 7 31 7 26 7 15 7 14 7 17 7 14 7 30 7 14 7 36 7 10 7 17 7 111 7 28 7 32 7 30 7 10 7 20 7 31 7 30 7 21 7 17 7 26 7 17 7 31 7 26 7 31 7 15 7 32 7 17 7 10 7 20 7 31 7 14 7 40 7 36 7 32 7 24 7 60 7 123 7 44 7 31 7 16 7 20 7 47 7 32 7 25 7 44 7 20 7 19 7 36 7 35 7 33 7 13 7 15 7 25 7 21 7 48 7 44 7 29 7 56 7 62 7 29 7 32 7 40 7 48 7 19 7 36 7 26 7 9 7 33 7 17 7 16 7 9 7 14 7 17 7 31 7 25 7 14 7 27 7 24 7 31 7 22 7 23 7 15 7 13 7 14 7 29 7 26 7 14 7 26 7 28 7 25 7 18 7 32 7 10 7 9 7 32 7 35 7 14 7 12 7 24 7 39 7 24 7 19 7 27 7 36 7 53 7 53 7 56 7 45 7 36 7 28 7 17 7 89 7 18 7 20 7 29 7 133 7 28 7 41 7 43 7 148 7 49 7 73 7 31 7 37 7 56 7 62 7 40 7 19 7 30 7 17 7 36 7 16 7 30 7 32 7 19 7 26 7 13 7 122 7 43 7 28 7 28 7 38 7 13 7 28 7 33 7 36 7 21 7 28 7 49 7 29 7 57 7 41 7 164 7 51 7 19 7 12 7 14 7 38 7 9 7 37 7 20 7 14 7 28 7 141 7 21 7 26 7 32 7 58 7 41 7 45 7 31 7 18 7 15 7 28 7 49 7 33 7 45 7 52 7 28 7 41 7 28 7 41 7 84 7 80 7 43 7 49 7 39 7 86 7 100 7 19 7 21 7 18 7 23 7 18 7 24 7 25 7 18 7 23 7 31 7 28 7 25 7 26 7 35 7 34 7 20 7 18 7 34 7 34 7 30 7 34 7 20 7 19 7 25 7 19 7 27 7 94 7 97 7 86 7 63 7 63 7 63 7 45 7 99999"/>
<path d="M3111 2916H13708" stroke-dasharray="7 68 7 87 7 77 7 53 7 61 7 108 7 131 7 92 7 53 7 68 7 41 7 105 7 97 7 56 7 44 7 89 7 65 7 90 7 40 7 184 7 56 7 104 7 113 7 110 7 47 7 82 7 59 7 53 7 136 7 92 7 41 7 84 7 73 7 77 7 39 7 84 7 37 7 66 7 57 7 29 7 63 7 52 7 60 7 85 7 67 7 44 7 89 7 78 7 54 7 89 7 79 7 63 7 37 7 172 7 41 7 161 7 71 7 162 7 77 7 32 7 51 7 36 7 34 7 69 7 45 7 80 7 46 7 64 7 61 7 53 7 26 7 23 7 60 7 41 7 148 7 63 7 47 7 86 7 70 7 33 7 56 7 83 7 76 7 36 7 43 7 75 7 60 7 67 7 87 7 46 7 73 7 69 7 114 7 71 7 91 7 50 7 73 7 100 7 106 7 95 7 96 7 38 7 85 7 61 7 46 7 95 7 68 7 71 7 84 7 92 7 80 7 72 7 48 7 52 7 54 7 94 7 57 7 87 7 101 7 33 7 24 7 17 7 24 7 18 7 25 7 23 7 25 7 23 7 18 7 19 7 32 7 27 7 23 7 33 7 24 7 21 7 27 7 18 7 22 7 22 7 26 7 24 7 27 7 30 7 42 7 87 7 82 7 76 7 99999"/>
<path d="M3182 3024H13821" stroke-dasharray="7 17 7 41 7 37 7 46 7 30 7 20 7 25 7 58 7 63 7 60 7 67 7 38 7 64 7 84 7 43 7 29 7 34 7 62 7 46 7 43 7 45 7 22 7 43 7 48 7 16 7 24 7 16 7 12 7 15 7 16 7 144 7 39 7 14 7 30 7 40 7 22 7 28 7 30 7 15 7 24 7 18 7 34 7 42 7 38 7 16 7 22 7 25 7 26 7 161 7 34 7 27 7 28 7 21 7 21 7 29 7 16 7 25 7 21 7 48 7 53 7 33 7 57 7 77 7 50 7 70 7 42 7 28 7 28 7 60 7 34 7 23 7 24 7 34 7 57 7 35 7 28 7 31 7 48 7 56 7 35 7 29 7 29 7 59 7 46 7 54 7 57 7 43 7 64 7 44 7 23 7 41 7 60 7 26 7 31 7 12 7 32 7 20 7 25 7 30 7 8 7 30 7 11 7 14 7 32 7 37 7 33 7 23 7 39 7 17 7 23 7 18 7 23 7 23 7 20 7 22 7 27 7 11 7 25 7 16 7 29 7 36 7 14 7 23 7 19 7 29 7 23 7 8 7 24 7 12 7 18 7 29 7 41 7 55 7 46 7 40 7 21 7 12 7 40 7 10 7 23 7 24 7 34 7 42 7 37 7 64 7 57 7 34 7 48 7 63 7 24 7 25 7 56 7 43 7 22 7 28 7 59 7 25 7 42 7 65 7 56 7 35 7 67 7 47 7 17 7 35 7 21 7 21 7 38 7 15 7 23 7 29 7 49 7 50 7 43 7 44 7 55 7 48 7 52 7 49 7 23 7 34 7 48 7 17 7 20 7 54 7 52 7 49 7 117 7 18 7 23 7 39 7 26 7 121 7 33 7 25 7 106 7 28 7 21 7 158 7 46 7 44 7 57 7 80 7 71 7 55 7 35 7 35 7 24 7 20 7 28 7 29 7 29 7 30 7 19 7 24 7 19 7 24 7 26 7 31 7 29 7 33 7 34 7 21 7 20 7 19 7 32 7 32 7 28 7 21 7 29 7 35 7 26 7 46 7 76 7 25 7 76 7 36 7 36 7 46 7 99999"/>
<path d="M3170 3132H13794" stroke-dasharray="7 66 7 27 7 55 7 20 7 12 7 52 7 17 7 36 7 39 7 38 7 149 7 56 7 51 7 26 7 27 7 27 7 39 7 30 7 31 7 31 7 114 7 19 7 22 7 28 7 31 7 14 7 17 7 46 7 57 7 26 7 61 7 59 7 34 7 105 7 37 7 15 7 14 7 41 7 14 7 32 7 21 7 45 7 29 7 42 7 36 7 18 7 33 7 119 7 19 7 18 7 41 7 28 7 25 7 29 7 12 7 11 7 10 7 9 7 14 7 21 7 31 7 23 7 17 7 32 7 15 7 20 7 45 7 50 7 47 7 29 7 29 7 23 7 48 7 37 7 72 7 63 7 26 7 23 7 53 7 66 7 21 7 194 7 42 7 46 7 39 7 37 7 30 7 35 7 28 7 16 7 36 7 18 7 11 7 15 7 30 7 21 7 27 7 24 7 13 7 15 7 23 7 26 7 15 7 33 7 38 7 42 7 16 7 25 7 10 7 26 7 23 7 15 7 30 7 34 7 8 7 28 7 14 7 13 7 29 7 34 7 31 7 20 7 35 7 27 7 35 7 22 7 31 7 30 7 31 7 18 7 39 7 32 7 10 7 18 7 16 7 24 7 12 7 10 7 24 7 30 7 33 7 14 7 13 7 27 7 24 7 87 7 16 7 17 7 169 7 40 7 36 7 40 7 47 7 33 7 54 7 38 7 47 7 35 7 28 7 62 7 49 7 23 7 36 7 36 7 30 7 40 7 32 7 52 7 29 7 115 7 19 7 47 7 27 7 52 7 52 7 35 7 77 7 151 7 73 7 67 7 45 7 79 7 81 7 47 7 50 7 71 7 46 7 60 7 29 7 38 7 63 7 41 7 62 7 46 7 148 7 43 7 40 7 88 7 101 7 76 7 87 7 34 7 20 7 31 7 25 7 32 7 29 7 21 7 32 7 21 7 25 7 17 7 31 7 19 7 19 7 19 7 18 7 33 7 19 7 29 7 28 7 19 7 24 7 18 7 27 7 19 7 22 7 25 7 26 7 23 7 18 7 23 7 26 7 36 7 118 7 27 7 11 7 19 7 25 7 18 7 31 7 99999"/>
<path d="M3150 3241H13986" stroke-dasharray="7 74 7 45 7 28 7 67 7 81 7 42 7 49 7 177 7 59 7 67 7 96 7 45 7 74 7 35 7 53 7 77 7 26 7 59 7 52 7 153 7 26 7 28 7 49 7 32 7 59 7 28 7 45 7 33 7 202 7 44 7 42 7 88 7 65 7 60 7 83 7 207 7 98 7 48 7 49 7 99 7 76 7 116 7 41 7 59 7 68 7 75 7 60 7 121 7 74 7 64 7 110 7 171 7 67 7 102 7 64 7 41 7 45 7 119 7 90 7 129 7 102 7 46 7 118 7 73 7 98 7 88 7 39 7 67 7 82 7 188 7 92 7 46 7 87 7 168 7 105 7 118 7 52 7 46 7 94 7 112 7 120 7 97 7 91 7 80 7 70 7 33 7 90 7 41 7 74 7 93 7 55 7 49 7 92 7 83 7 62 7 101 7 40 7 56 7 36 7 36 7 91 7 73 7 78 7 72 7 77 7 37 7 45 7 48 7 103 7 54 7 69 7 87 7 35 7 23 7 31 7 27 7 33 7 19 7 26 7 30 7 25 7 20 7 19 7 20 7 30 7 19 7 28 7 23 7 28 7 28 7 18 7 31 7 22 7 30 7 35 7 18 7 30 7 19 7 33 7 25 7 47 7 33 7 48 7 52 7 31 7 38 7 50 7 64 7 76 7 54 7 44 7 99999"/>
<path d="M3167 3349H13771" stroke-dasharray="7 29 7 80 7 27 7 25 7 19 7 45 7 65 7 47 7 51 7 55 7 136 7 24 7 55 7 45 7 45 7 50 7 24 7 24 7 53 7 33 7 20 7 39 7 21 7 27 7 19 7 8 7 38 7 91 7 27 7 47 7 22 7 17 7 30 7 28 7 26 7 47 7 38 7 44 7 34 7 13 7 24 7 125 7 27 7 49 7 46 7 18 7 14 7 17 7 24 7 28 7 29 7 59 7 26 7 17 7 16 7 39 7 15 7 35 7 29 7 15 7 33 7 30 7 19 7 35 7 28 7 26 7 24 7 50 7 41 7 41 7 24 7 34 7 23 7 13 7 17 7 28 7 31 7 10 7 18 7 69 7 28 7 19 7 14 7 36 7 33 7 42 7 19 7 39 7 46 7 46 7 25 7 76 7 70 7 75 7 49 7 48 7 52 7 58 7 47 7 54 7 23 7 41 7 26 7 17 7 19 7 22 7 11 7 9 7 26 7 23 7 25 7 11 7 18 7 8 7 13 7 31 7 18 7 29 7 23 7 11 7 13 7 25 7 91 7 24 7 28 7 27 7 17 7 31 7 33 7 39 7 23 7 32 7 13 7 22 7 14 7 40 7 26 7 26 7 23 7 36 7 48 7 33 7 102 7 112 7 12 7 31 7 46 7 12 7 28 7 32 7 37 7 37 7 51 7 60 7 59 7 46 7 20 7 53 7 33 7 37 7 138 7 61 7 79 7 67 7 55 7 63 7 91 7 84 7 53 7 48 7 39 7 66 7 98 7 36 7 69 7 73 7 30 7 59 7 39 7 113 7 36 7 39 7 27 7 40 7 14 7 11 7 30 7 26 7 24 7 23 7 34 7 21 7 25 7 25 7 31 7 24 7 36 7 12 7 97 7 79 7 91 7 42 7 82 7 57 7 8 7 31 7 28 7 31 7 31 7 18 7 34 7 18 7 19 7 24 7 23 7 30 7 24 7 22 7 17 7 23 7 21 7 29 7 19 7 28 7 20 7 24 7 21 7 31 7 34 7 18 7 27 7 26 7 26 7 27 7 21 7 29 7 26 7 17 7 10 7 13 7 25 7 16 7 33 7 40 7 35 7 15 7 99999"/>
<path d="M3141 3457H13999" stroke-dasharray="7 193 7 51 7 80 7 67 7 61 7 53 7 52 7 27 7 47 7 43 7 21 7 143 7 46 7 77 7 41 7 37 7 50 7 45 7 79 7 30 7 56 7 59 7 31 7 64 7 49 7 47 7 34 7 90 7 192 7 84 7 58 7 47 7 226 7 36 7 68 7 57 7 89 7 38 7 33 7 52 7 85 7 62 7 50 7 71 7 68 7 60 7 86 7 45 7 101 7 94 7 73 7 52 7 38 7 41 7 35 7 57 7 31 7 54 7 77 7 59 7 39 7 71 7 44 7 86 7 92 7 98 7 99 7 80 7 106 7 65 7 64 7 38 7 212 7 51 7 48 7 79 7 128 7 46 7 78 7 106 7 47 7 76 7 105 7 59 7 110 7 44 7 99 7 78 7 111 7 118 7 40 7 153 7 95 7 82 7 111 7 41 7 54 7 61 7 73 7 182 7 100 7 47 7 51 7 113 7 47 7 41 7 60 7 47 7 116 7 52 7 43 7 55 7 38 7 72 7 71 7 69 7 82 7 46 7 97 7 20 7 23 7 22 7 29 7 22 7 32 7 29 7 33 7 27 7 28 7 24 7 25 7 24 7 30 7 30 7 24 7 35 7 21 7 19 7 34 7 21 7 27 7 20 7 24 7 28 7 100 7 104 7 79 7 63 7 84 7 66 7 37 7 30 7 99999"/>
<path d="M3182 3566H14049" stroke-dasharray="7 31 7 35 7 35 7 33 7 87 7 26 7 36 7 20 7 26 7 25 7 30 7 122 7 27 7 117 7 37 7 40 7 42 7 20 7 34 7 43 7 41 7 36 7 24 7 26 7 26 7 31 7 44 7 29 7 33 7 33 7 14 7 32 7 18 7 91 7 26 7 141 7 31 7 24 7 32 7 25 7 27 7 15 7 21 7 19 7 18 7 41 7 14 7 23 7 150 7 35 7 42 7 33 7 46 7 33 7 17 7 27 7 41 7 145 7 39 7 38 7 39 7 21 7 10 7 33 7 16 7 26 7 78 7 13 7 16 7 40 7 32 7 24 7 20 7 22 7 8 7 39 7 19 7 12 7 24 7 23 7 36 7 31 7 18 7 17 7 50 7 21 7 158 7 10 7 41 7 31 7 25 7 31 7 17 7 15 7 20 7 43 7 38 7 22 7 50 7 40 7 34 7 22 7 71 7 28 7 35 7 57 7 46 7 30 7 27 7 44 7 71 7 61 7 59 7 33 7 55 7 71 7 76 7 31 7 27 7 69 7 57 7 64 7 80 7 50 7 59 7 73 7 43 7 59 7 53 7 49 7 159 7 38 7 48 7 22 7 50 7 61 7 36 7 28 7 156 7 92 7 27 7 46 7 25 7 39 7 57 7 48 7 45 7 66 7 36 7 33 7 25 7 43 7 29 7 51 7 60 7 40 7 55 7 16 7 20 7 25 7 40 7 26 7 17 7 40 7 15 7 18 7 37 7 18 7 44 7 25 7 51 7 29 7 25 7 189 7 49 7 24 7 41 7 50 7 23 7 22 7 38 7 90 7 58 7 98 7 51 7 66 7 46 7 23 7 24 7 11 7 22 7 26 7 25 7 17 7 26 7 31 7 18 7 23 7 31 7 19 7 35 7 27 7 34 7 21 7 35 7 17 7 21 7 26 7 19 7 32 7 34 7 18 7 31 7 26 7 18 7 33 7 63 7 31 7 55 7 54 7 51 7 75 7 63 7 84 7 78 7 82 7 99999"/>
<path d="M3146 3674H13876" stroke-dasharray="7 39 7 37 7 142 7 25 7 49 7 140 7 63 7 35 7 62 7 43 7 53 7 58 7 26 7 38 7 34 7 42 7 54 7 70 7 31 7 31 7 23 7 38 7 127 7 63 7 63 7 70 7 45 7 23 7 23 7 49 7 45 7 89 7 35 7 40 7 49 7 80 7 119 7 85 7 63 7 98 7 62 7 38 7 98 7 49 7 58 7 87 7 68 7 80 7 45 7 84 7 117 7 96 7 50 7 69 7 102 7 47 7 89 7 114 7 47 7 72 7 57 7 114 7 102 7 52 7 38 7 69 7 91 7 69 7 63 7 35 7 77 7 54 7 38 7 40 7 43 7 73 7 72 7 80 7 86 7 105 7 89 7 61 7 82 7 38 7 46 7 58 7 75 7 69 7 101 7 45 7 53 7 35 7 168 7 40 7 84 7 53 7 64 7 43 7 78 7 82 7 30 7 79 7 96 7 47 7 93 7 101 7 82 7 216 7 56 7 114 7 106 7 76 7 64 7 98 7 76 7 102 7 97 7 102 7 88 7 41 7 86 7 102 7 97 7 22 7 33 7 32 7 22 7 30 7 34 7 32 7 32 7 23 7 32 7 35 7 22 7 30 7 28 7 23 7 34 7 26 7 26 7 35 7 25 7 27 7 25 7 69 7 43 7 24 7 40 7 46 7 53 7 44 7 61 7 65 7 99999"/>
<path d="M3131 3782H14005" stroke-dasharray="7 48 7 37 7 70 7 38 7 60 7 81 7 75 7 55 7 84 7 37 7 47 7 82 7 55 7 42 7 57 7 89 7 84 7 58 7 74 7 69 7 112 7 41 7 100 7 63 7 109 7 70 7 53 7 157 7 85 7 60 7 94 7 80 7 66 7 58 7 48 7 57 7 34 7 47 7 50 7 88 7 72 7 64 7 46 7 48 7 40 7 54 7 51 7 26 7 66 7 68 7 64 7 90 7 46 7 36 7 37 7 56 7 71 7 65 7 55 7 111 7 99 7 90 7 85 7 29 7 69 7 71 7 33 7 49 7 67 7 43 7 42 7 42 7 84 7 101 7 86 7 48 7 80 7 60 7 44 7 70 7 49 7 55 7 34 7 61 7 39 7 31 7 40 7 32 7 45 7 51 7 29 7 23 7 32 7 50 7 58 7 34 7 54 7 37 7 53 7 61 7 45 7 49 7 74 7 72 7 79 7 50 7 28 7 72 7 135 7 65 7 79 7 55 7 32 7 73 7 52 7 39 7 50 7 62 7 48 7 119 7 53 7 30 7 63 7 52 7 39 7 84 7 76 7 83 7 39 7 57 7 62 7 82 7 83 7 58 7 74 7 49 7 97 7 21 7 20 7 35 7 31 7 17 7 23 7 19 7 22 7 31 7 20 7 23 7 23 7 25 7 17 7 32 7 23 7 26 7 30 7 30 7 20 7 23 7 25 7 21 7 27 7 22 7 19 7 24 7 180 7 22 7 43 7 34 7 57 7 24 7 31 7 40 7 42 7 47 7 26 7 99999"/>
<path d="M3173 3891H13951" stroke-dasharray="7 28 7 29 7 29 7 18 7 88 7 30 7 15 7 34 7 15 7 31 7 33 7 19 7 29 7 47 7 54 7 19 7 42 7 39 7 55 7 40 7 44 7 31 7 93 7 68 7 32 7 43 7 75 7 74 7 89 7 60 7 77 7 77 7 35 7 34 7 59 7 39 7 43 7 50 7 35 7 84 7 67 7 51 7 26 7 46 7 45 7 56 7 47 7 68 7 60 7 29 7 13 7 17 7 23 7 32 7 37 7 42 7 27 7 15 7 16 7 11 7 34 7 27 7 16 7 18 7 38 7 21 7 48 7 21 7 34 7 59 7 32 7 67 7 37 7 46 7 24 7 46 7 49 7 60 7 48 7 40 7 57 7 63 7 33 7 58 7 42 7 59 7 23 7 60 7 35 7 25 7 23 7 26 7 31 7 20 7 16 7 34 7 36 7 119 7 32 7 19 7 30 7 15 7 35 7 18 7 21 7 28 7 32 7 16 7 47 7 33 7 34 7 41 7 15 7 45 7 21 7 25 7 46 7 36 7 13 7 26 7 58 7 50 7 53 7 47 7 58 7 29 7 31 7 175 7 52 7 54 7 60 7 52 7 23 7 40 7 46 7 143 7 46 7 21 7 32 7 34 7 48 7 50 7 41 7 36 7 23 7 19 7 17 7 9 7 15 7 11 7 9 7 8 7 12 7 18 7 33 7 20 7 32 7 58 7 28 7 21 7 39 7 23 7 16 7 42 7 23 7 27 7 36 7 24 7 16 7 22 7 34 7 46 7 24 7 14 7 30 7 21 7 13 7 27 7 41 7 22 7 8 7 8 7 13 7 27 7 20 7 25 7 27 7 32 7 36 7 40 7 22 7 17 7 8 7 16 7 31 7 31 7 20 7 19 7 26 7 20 7 26 7 29 7 77 7 84 7 99 7 92 7 85 7 40 7 23 7 21 7 27 7 27 7 34 7 26 7 34 7 31 7 23 7 28 7 20 7 20 7 32 7 25 7 27 7 18 7 34 7 28 7 25 7 35 7 30 7 30 7 35 7 29 7 116 7 45 7 53 7 49 7 25 7 157 7 18 7 36 7 15 7 16 7 19 7 99999"/>
<path d="M3148 3999H13969" stroke-dasharray="7 65 7 76 7 26 7 75 7 42 7 59 7 51 7 37 7 169 7 28 7 24 7 37 7 21 7 26 7 23 7 21 7 38 7 21 7 19 7 9 7 17 7 26 7 42 7 44 7 165 7 38 7 26 7 43 7 73 7 20 7 17 7 46 7 56 7 61 7 39 7 21 7 41 7 54 7 40 7 48 7 51 7 57 7 32 7 46 7 43 7 116 7 58 7 40 7 29 7 43 7 57 7 42 7 34 7 60 7 58 7 21 7 40 7 28 7 29 7 23 7 46 7 56 7 40 7 21 7 31 7 36 7 175 7 42 7 54 7 77 7 41 7 59 7 44 7 61 7 67 7 78 7 77 7 47 7 66 7 37 7 53 7 86 7 70 7 50 7 100 7 68 7 72 7 70 7 33 7 72 7 178 7 67 7 61 7 38 7 26 7 44 7 38 7 29 7 18 7 30 7 52 7 18 7 28 7 47 7 27 7 63 7 34 7 57 7 36 7 29 7 51 7 84 7 81 7 62 7 37 7 86 7 32 7 45 7 43 7 69 7 73 7 36 7 87 7 74 7 69 7 72 7 155 7 75 7 42 7 214 7 62 7 50 7 44 7 76 7 60 7 42 7 39 7 52 7 79 7 58 7 77 7 219 7 97 7 47 7 64 7 65 7 79 7 61 7 77 7 89 7 33 7 30 7 33 7 23 7 18 7 33 7 22 7 21 7 17 7 32 7 28 7 30 7 19 7 22 7 34 7 31 7 33 7 22 7 31 7 24 7 23 7 35 7 64 7 41 7 59 7 17 7 44 7 21 7 21 7 29 7 12 7 10 7 133 7 99999"/>
<path d="M3112 4107H13945" stroke-dasharray="7 24 7 52 7 87 7 47 7 17 7 14 7 37 7 24 7 27 7 66 7 49 7 23 7 27 7 48 7 42 7 37 7 24 7 25 7 45 7 44 7 49 7 87 7 60 7 38 7 149 7 56 7 67 7 56 7 43 7 93 7 74 7 86 7 77 7 88 7 41 7 55 7 58 7 52 7 101 7 91 7 97 7 47 7 71 7 70 7 75 7 41 7 175 7 62 7 95 7 104 7 38 7 108 7 107 7 75 7 65 7 44 7 86 7 102 7 81 7 67 7 60 7 70 7 82 7 39 7 96 7 73 7 40 7 38 7 37 7 99 7 77 7 90 7 91 7 75 7 78 7 47 7 56 7 35 7 63 7 146 7 20 7 38 7 37 7 48 7 23 7 67 7 53 7 153 7 16 7 49 7 43 7 31 7 37 7 53 7 51 7 32 7 20 7 36 7 29 7 26 7 22 7 37 7 47 7 31 7 37 7 21 7 20 7 19 7 17 7 20 7 29 7 21 7 66 7 31 7 21 7 32 7 13 7 16 7 23 7 19 7 15 7 31 7 9 7 40 7 38 7 23 7 24 7 37 7 28 7 23 7 15 7 11 7 8 7 9 7 11 7 26 7 151 7 27 7 30 7 29 7 32 7 39 7 48 7 30 7 21 7 15 7 30 7 44 7 31 7 51 7 24 7 52 7 16 7 17 7 31 7 27 7 33 7 34 7 94 7 67 7 44 7 98 7 69 7 100 7 18 7 33 7 24 7 18 7 34 7 24 7 33 7 23 7 28 7 21 7 25 7 22 7 19 7 23 7 28 7 29 7 23 7 20 7 28 7 29 7 17 7 29 7 22 7 24 7 26 7 18 7 24 7 49 7 20 7 34 7 34 7 10 7 22 7 31 7 20 7 31 7 11 7 19 7 17 7 44 7 31 7 20 7 31 7 19 7 34 7 99999"/>
<path d="M3125 4216H14001" stroke-dasharray="7 26 7 165 7 44 7 17 7 47 7 49 7 124 7 42 7 44 7 48 7 26 7 40 7 25 7 41 7 43 7 37 7 53 7 38 7 32 7 117 7 18 7 22 7 43 7 47 7 39 7 50 7 19 7 37 7 56 7 23 7 16 7 36 7 33 7 34 7 34 7 40 7 20 7 8 7 15 7 42 7 31 7 24 7 43 7 46 7 22 7 11 7 19 7 37 7 40 7 47 7 29 7 28 7 20 7 69 7 20 7 41 7 41 7 54 7 31 7 31 7 67 7 34 7 31 7 24 7 22 7 32 7 28 7 134 7 37 7 28 7 14 7 23 7 18 7 30 7 45 7 51 7 50 7 23 7 32 7 46 7 52 7 50 7 31 7 35 7 79 7 41 7 37 7 51 7 24 7 48 7 50 7 55 7 62 7 62 7 69 7 70 7 79 7 25 7 47 7 69 7 24 7 43 7 46 7 81 7 61 7 52 7 59 7 38 7 47 7 25 7 19 7 20 7 15 7 19 7 91 7 16 7 17 7 11 7 16 7 20 7 30 7 36 7 53 7 18 7 19 7 30 7 32 7 85 7 22 7 25 7 24 7 18 7 26 7 20 7 21 7 32 7 23 7 36 7 113 7 21 7 19 7 40 7 55 7 47 7 21 7 36 7 32 7 192 7 23 7 46 7 72 7 55 7 55 7 55 7 161 7 48 7 28 7 51 7 47 7 23 7 57 7 47 7 62 7 62 7 31 7 56 7 60 7 49 7 54 7 24 7 73 7 60 7 51 7 45 7 129 7 62 7 54 7 81 7 50 7 96 7 68 7 40 7 49 7 35 7 30 7 31 7 24 7 34 7 25 7 30 7 28 7 25 7 30 7 22 7 18 7 31 7 22 7 24 7 33 7 29 7 22 7 22 7 32 7 35 7 20 7 32 7 34 7 26 7 29 7 59 7 81 7 41 7 73 7 84 7 84 7 90 7 99999"/>
<path d="M3120 4324H13806" stroke-dasharray="7 58 7 48 7 59 7 33 7 52 7 57 7 40 7 42 7 60 7 27 7 71 7 53 7 47 7 65 7 36 7 79 7 37 7 37 7 49 7 80 7 29 7 46 7 100 7 95 7 112 7 38 7 38 7 203 7 93 7 98 7 36 7 60 7 84 7 52 7 143 7 79 7 32 7 46 7 57 7 105 7 69 7 61 7 30 7 57 7 52 7 33 7 68 7 60 7 41 7 24 7 42 7 54 7 56 7 25 7 19 7 19 7 28 7 34 7 32 7 38 7 31 7 49 7 27 7 12 7 27 7 10 7 18 7 9 7 113 7 37 7 41 7 32 7 37 7 36 7 39 7 31 7 31 7 30 7 13 7 16 7 37 7 47 7 47 7 46 7 57 7 39 7 42 7 28 7 44 7 49 7 16 7 116 7 14 7 19 7 10 7 31 7 24 7 19 7 18 7 18 7 54 7 24 7 37 7 23 7 64 7 25 7 179 7 44 7 69 7 68 7 22 7 24 7 43 7 21 7 51 7 32 7 26 7 48 7 27 7 27 7 18 7 129 7 16 7 14 7 17 7 11 7 19 7 16 7 119 7 18 7 41 7 46 7 46 7 33 7 59 7 35 7 17 7 34 7 23 7 43 7 32 7 23 7 37 7 42 7 52 7 38 7 42 7 45 7 29 7 36 7 37 7 19 7 44 7 43 7 20 7 18 7 19 7 57 7 47 7 18 7 41 7 25 7 36 7 19 7 25 7 28 7 19 7 160 7 30 7 19 7 9 7 13 7 28 7 28 7 41 7 73 7 79 7 91 7 74 7 54 7 18 7 26 7 36 7 18 7 34 7 24 7 31 7 32 7 29 7 26 7 29 7 29 7 29 7 18 7 30 7 34 7 26 7 26 7 22 7 33 7 30 7 32 7 29 7 33 7 31 7 24 7 30 7 77 7 49 7 41 7 27 7 25 7 47 7 40 7 61 7 99999"/>
<path d="M3118 4432H13852" stroke-dasharray="7 35 7 39 7 18 7 35 7 53 7 36 7 54 7 31 7 59 7 18 7 45 7 23 7 15 7 32 7 146 7 52 7 32 7 33 7 60 7 31 7 38 7 38 7 22 7 30 7 37 7 23 7 48 7 20 7 50 7 136 7 54 7 46 7 24 7 25 7 25 7 72 7 58 7 41 7 78 7 51 7 67 7 54 7 58 7 37 7 61 7 66 7 70 7 63 7 48 7 40 7 67 7 60 7 53 7 25 7 69 7 54 7 59 7 63 7 25 7 39 7 37 7 55 7 70 7 42 7 40 7 34 7 129 7 43 7 47 7 49 7 27 7 42 7 88 7 61 7 49 7 72 7 65 7 38 7 30 7 29 7 26 7 34 7 27 7 14 7 15 7 22 7 12 7 20 7 45 7 39 7 30 7 15 7 43 7 18 7 26 7 66 7 48 7 41 7 30 7 55 7 36 7 59 7 38 7 75 7 45 7 62 7 53 7 50 7 46 7 44 7 55 7 27 7 26 7 39 7 55 7 55 7 48 7 25 7 39 7 78 7 53 7 68 7 39 7 45 7 53 7 41 7 47 7 83 7 104 7 46 7 39 7 55 7 45 7 71 7 179 7 102 7 54 7 97 7 81 7 114 7 99 7 88 7 74 7 91 7 51 7 40 7 62 7 97 7 75 7 59 7 79 7 117 7 74 7 51 7 68 7 80 7 72 7 48 7 77 7 22 7 27 7 31 7 20 7 29 7 33 7 31 7 34 7 24 7 21 7 30 7 33 7 25 7 25 7 18 7 29 7 27 7 29 7 25 7 24 7 27 7 23 7 31 7 34 7 51 7 76 7 86 7 45 7 63 7 59 7 99999"/>
<path d="M3149 4540H13931" stroke-dasharray="7 51 7 23 7 16 7 39 7 15 7 24 7 29 7 22 7 11 7 24 7 29 7 37 7 43 7 16 7 27 7 45 7 153 7 60 7 39 7 52 7 40 7 49 7 59 7 35 7 150 7 53 7 96 7 26 7 55 7 32 7 57 7 33 7 64 7 37 7 39 7 29 7 28 7 162 7 27 7 40 7 27 7 21 7 58 7 34 7 61 7 45 7 27 7 52 7 56 7 98 7 88 7 76 7 99 7 39 7 75 7 108 7 51 7 79 7 70 7 67 7 80 7 102 7 63 7 46 7 53 7 95 7 71 7 66 7 39 7 53 7 50 7 114 7 74 7 79 7 49 7 80 7 72 7 48 7 96 7 77 7 47 7 116 7 51 7 88 7 38 7 47 7 68 7 37 7 144 7 77 7 100 7 47 7 114 7 93 7 97 7 152 7 111 7 80 7 75 7 39 7 44 7 80 7 86 7 51 7 54 7 119 7 57 7 116 7 99 7 40 7 34 7 72 7 84 7 45 7 54 7 49 7 51 7 96 7 87 7 65 7 70 7 55 7 42 7 45 7 21 7 50 7 34 7 57 7 50 7 82 7 88 7 64 7 87 7 54 7 86 7 33 7 29 7 18 7 33 7 33 7 31 7 32 7 21 7 28 7 22 7 20 7 20 7 25 7 33 7 28 7 32 7 35 7 28 7 19 7 21 7 25 7 19 7 28 7 32 7 58 7 70 7 100 7 51 7 71 7 58 7 109 7 99999"/>
<path d="M3151 4649H13945" stroke-dasharray="7 22 7 23 7 47 7 32 7 55 7 39 7 60 7 41 7 34 7 32 7 32 7 16 7 44 7 50 7 30 7 22 7 36 7 33 7 50 7 67 7 25 7 23 7 36 7 33 7 27 7 59 7 43 7 29 7 65 7 53 7 52 7 26 7 41 7 17 7 31 7 30 7 27 7 15 7 40 7 19 7 19 7 42 7 45 7 169 7 53 7 22 7 58 7 54 7 45 7 46 7 51 7 66 7 21 7 52 7 56 7 59 7 40 7 72 7 64 7 49 7 23 7 56 7 41 7 41 7 24 7 26 7 24 7 19 7 46 7 27 7 18 7 23 7 57 7 31 7 38 7 48 7 44 7 149 7 21 7 111 7 25 7 25 7 40 7 39 7 44 7 41 7 37 7 24 7 13 7 23 7 26 7 139 7 22 7 10 7 23 7 23 7 24 7 45 7 25 7 24 7 29 7 22 7 27 7 37 7 30 7 19 7 27 7 29 7 29 7 20 7 35 7 29 7 19 7 18 7 34 7 18 7 19 7 17 7 20 7 17 7 9 7 14 7 30 7 16 7 18 7 31 7 39 7 26 7 28 7 13 7 13 7 119 7 23 7 13 7 92 7 26 7 32 7 10 7 26 7 16 7 29 7 18 7 36 7 19 7 20 7 17 7 126 7 29 7 7 7 12 7 27 7 11 7 18 7 110 7 25 7 37 7 20 7 29 7 24 7 29 7 32 7 11 7 7 7 16 7 31 7 21 7 26 7 19 7 16 7 9 7 29 7 36 7 30 7 27 7 18 7 18 7 57 7 28 7 64 7 64 7 49 7 36 7 71 7 24 7 77 7 30 7 154 7 161 7 69 7 18 7 57 7 62 7 25 7 67 7 21 7 24 7 56 7 53 7 52 7 83 7 38 7 40 7 59 7 48 7 81 7 81 7 27 7 31 7 26 7 20 7 24 7 18 7 28 7 18 7 31 7 35 7 21 7 24 7 26 7 22 7 26 7 19 7 31 7 18 7 32 7 26 7 28 7 29 7 35 7 20 7 29 7 28 7 24 7 35 7 14 7 15 7 38 7 26 7 20 7 35 7 37 7 20 7 33 7 22 7 15 7 99999"/>
<path d="M3136 4757H13832" stroke-dasharray="7 39 7 45 7 41 7 79 7 32 7 49 7 57 7 35 7 59 7 75 7 87 7 59 7 44 7 43 7 31 7 79 7 61 7 93 7 77 7 160 7 66 7 52 7 65 7 84 7 72 7 67 7 89 7 54 7 66 7 60 7 113 7 92 7 184 7 105 7 66 7 59 7 60 7 91 7 79 7 75 7 52 7 92 7 50 7 36 7 62 7 61 7 191 7 102 7 40 7 60 7 62 7 109 7 117 7 111 7 93 7 80 7 58 7 105 7 49 7 73 7 65 7 101 7 58 7 111 7 45 7 97 7 77 7 57 7 104 7 100 7 61 7 97 7 106 7 75 7 49 7 100 7 172 7 77 7 48 7 83 7 36 7 52 7 71 7 79 7 58 7 135 7 64 7 63 7 80 7 94 7 69 7 190 7 63 7 66 7 35 7 73 7 59 7 45 7 61 7 30 7 44 7 70 7 33 7 49 7 64 7 77 7 66 7 36 7 36 7 73 7 71 7 83 7 72 7 85 7 50 7 55 7 69 7 21 7 34 7 33 7 25 7 24 7 24 7 20 7 31 7 19 7 31 7 26 7 17 7 22 7 33 7 23 7 21 7 29 7 22 7 26 7 22 7 20 7 33 7 31 7 22 7 107 7 41 7 25 7 114 7 36 7 42 7 23 7 38 7 99999"/>
<path d="M3143 4865H14011" stroke-dasharray="7 43 7 16 7 29 7 23 7 11 7 37 7 24 7 24 7 27 7 26 7 28 7 36 7 45 7 19 7 33 7 31 7 34 7 20 7 21 7 29 7 139 7 11 7 42 7 35 7 19 7 19 7 25 7 42 7 41 7 57 7 66 7 57 7 29 7 24 7 59 7 46 7 39 7 21 7 27 7 21 7 17 7 40 7 31 7 19 7 15 7 22 7 17 7 25 7 27 7 31 7 21 7 9 7 20 7 18 7 87 7 22 7 35 7 41 7 19 7 102 7 13 7 20 7 151 7 14 7 27 7 23 7 14 7 31 7 24 7 33 7 42 7 23 7 9 7 19 7 11 7 25 7 18 7 19 7 13 7 30 7 25 7 14 7 24 7 31 7 11 7 24 7 15 7 34 7 31 7 26 7 28 7 27 7 21 7 31 7 33 7 20 7 37 7 53 7 168 7 72 7 43 7 53 7 57 7 36 7 68 7 45 7 69 7 36 7 31 7 19 7 26 7 42 7 36 7 14 7 23 7 16 7 21 7 32 7 29 7 20 7 25 7 27 7 23 7 131 7 26 7 16 7 37 7 30 7 29 7 20 7 26 7 24 7 24 7 24 7 11 7 10 7 22 7 12 7 19 7 49 7 23 7 26 7 10 7 11 7 14 7 19 7 22 7 22 7 20 7 30 7 28 7 17 7 11 7 36 7 13 7 15 7 39 7 19 7 27 7 27 7 45 7 46 7 21 7 24 7 37 7 16 7 25 7 44 7 62 7 145 7 48 7 62 7 30 7 51 7 27 7 53 7 27 7 67 7 25 7 19 7 32 7 22 7 49 7 64 7 24 7 61 7 31 7 35 7 61 7 29 7 39 7 37 7 60 7 28 7 68 7 36 7 31 7 35 7 107 7 31 7 59 7 45 7 82 7 108 7 34 7 36 7 37 7 56 7 65 7 84 7 93 7 52 7 100 7 43 7 96 7 67 7 34 7 21 7 28 7 20 7 29 7 25 7 19 7 25 7 26 7 20 7 27 7 26 7 18 7 30 7 34 7 20 7 34 7 22 7 22 7 24 7 33 7 29 7 24 7 20 7 33 7 30 7 89 7 42 7 33 7 43 7 64 7 66 7 84 7 63 7 80 7 99999"/>
<path d="M3140 4974H13919" stroke-dasharray="7 56 7 37 7 31 7 40 7 23 7 19 7 18 7 34 7 39 7 20 7 53 7 18 7 37 7 18 7 35 7 10 7 12 7 17 7 28 7 34 7 43 7 44 7 13 7 20 7 16 7 40 7 23 7 18 7 40 7 22 7 27 7 26 7 17 7 39 7 103 7 28 7 43 7 40 7 24 7 38 7 25 7 25 7 65 7 58 7 83 7 75 7 192 7 65 7 66 7 37 7 56 7 60 7 19 7 134 7 24 7 37 7 23 7 135 7 10 7 35 7 13 7 28 7 22 7 22 7 20 7 35 7 13 7 13 7 28 7 40 7 19 7 17 7 35 7 25 7 18 7 18 7 32 7 19 7 25 7 23 7 13 7 24 7 45 7 18 7 34 7 25 7 43 7 26 7 49 7 24 7 157 7 30 7 25 7 50 7 22 7 28 7 35 7 25 7 10 7 9 7 24 7 19 7 26 7 107 7 16 7 18 7 14 7 25 7 32 7 41 7 99 7 11 7 14 7 10 7 13 7 109 7 40 7 10 7 43 7 28 7 23 7 18 7 20 7 110 7 28 7 11 7 12 7 44 7 31 7 25 7 9 7 13 7 33 7 14 7 9 7 12 7 9 7 26 7 18 7 35 7 30 7 13 7 23 7 23 7 29 7 22 7 28 7 20 7 24 7 52 7 33 7 33 7 24 7 27 7 47 7 28 7 24 7 14 7 20 7 22 7 32 7 29 7 13 7 11 7 12 7 39 7 30 7 16 7 28 7 32 7 29 7 20 7 16 7 135 7 25 7 24 7 36 7 27 7 16 7 44 7 29 7 27 7 15 7 38 7 16 7 27 7 36 7 30 7 53 7 44 7 24 7 26 7 12 7 33 7 22 7 25 7 33 7 35 7 30 7 54 7 37 7 52 7 61 7 47 7 27 7 59 7 52 7 23 7 32 7 45 7 39 7 50 7 28 7 53 7 27 7 68 7 40 7 50 7 85 7 87 7 93 7 93 7 84 7 34 7 29 7 25 7 31 7 24 7 27 7 29 7 18 7 18 7 31 7 27 7 34 7 30 7 33 7 20 7 22 7 28 7 32 7 21 7 31 7 19 7 28 7 26 7 32 7 102 7 121 7 76 7 46 7 74 7 75 7 99999"/>
<path d="M3139 5082H13790" stroke-dasharray="7 37 7 55 7 142 7 27 7 43 7 33 7 52 7 61 7 46 7 54 7 51 7 77 7 46 7 27 7 50 7 71 7 38 7 42 7 28 7 33 7 46 7 51 7 42 7 30 7 50 7 78 7 76 7 41 7 191 7 67 7 62 7 46 7 73 7 60 7 70 7 74 7 127 7 53 7 38 7 39 7 62 7 75 7 28 7 63 7 92 7 65 7 29 7 86 7 53 7 32 7 72 7 40 7 58 7 65 7 80 7 72 7 44 7 75 7 81 7 61 7 72 7 61 7 132 7 31 7 41 7 26 7 50 7 70 7 45 7 28 7 25 7 27 7 27 7 26 7 27 7 23 7 18 7 27 7 13 7 15 7 18 7 29 7 22 7 34 7 33 7 29 7 15 7 28 7 23 7 31 7 8 7 75 7 33 7 24 7 26 7 12 7 11 7 29 7 39 7 34 7 39 7 41 7 24 7 23 7 43 7 28 7 44 7 50 7 53 7 58 7 57 7 56 7 108 7 39 7 35 7 30 7 30 7 32 7 34 7 19 7 144 7 11 7 25 7 20 7 30 7 38 7 29 7 20 7 29 7 31 7 30 7 98 7 22 7 183 7 47 7 109 7 17 7 8 7 18 7 21 7 29 7 103 7 10 7 10 7 31 7 31 7 9 7 11 7 30 7 39 7 19 7 28 7 16 7 24 7 34 7 28 7 13 7 15 7 22 7 17 7 25 7 23 7 32 7 33 7 29 7 16 7 24 7 22 7 34 7 57 7 43 7 66 7 56 7 68 7 96 7 87 7 62 7 41 7 103 7 31 7 18 7 18 7 29 7 24 7 26 7 26 7 27 7 31 7 33 7 27 7 28 7 24 7 33 7 31 7 28 7 35 7 34 7 24 7 20 7 26 7 27 7 18 7 30 7 32 7 47 7 58 7 24 7 38 7 63 7 58 7 49 7 99999"/>
<path d="M3111 5190H13796" stroke-dasharray="7 16 7 19 7 23 7 53 7 38 7 32 7 39 7 23 7 63 7 64 7 74 7 83 7 30 7 77 7 73 7 60 7 83 7 36 7 81 7 55 7 54 7 37 7 24 7 42 7 39 7 33 7 23 7 22 7 33 7 55 7 46 7 25 7 77 7 38 7 57 7 71 7 25 7 51 7 53 7 58 7 44 7 40 7 56 7 63 7 41 7 45 7 24 7 44 7 37 7 130 7 21 7 27 7 14 7 18 7 22 7 37 7 17 7 155 7 18 7 166 7 46 7 60 7 30 7 36 7 27 7 56 7 38 7 51 7 39 7 60 7 45 7 23 7 153 7 49 7 36 7 76 7 50 7 43 7 56 7 50 7 30 7 65 7 34 7 54 7 59 7 52 7 15 7 39 7 51 7 41 7 20 7 52 7 11 7 30 7 9 7 9 7 13 7 14 7 24 7 10 7 20 7 29 7 21 7 27 7 29 7 22 7 12 7 35 7 92 7 28 7 25 7 72 7 14 7 17 7 23 7 35 7 37 7 19 7 43 7 36 7 30 7 40 7 46 7 11 7 20 7 36 7 14 7 39 7 41 7 40 7 28 7 17 7 31 7 86 7 16 7 41 7 25 7 18 7 36 7 22 7 43 7 26 7 34 7 33 7 9 7 19 7 29 7 18 7 28 7 24 7 11 7 10 7 9 7 19 7 31 7 32 7 20 7 12 7 29 7 25 7 22 7 15 7 10 7 28 7 11 7 26 7 8 7 16 7 36 7 45 7 44 7 12 7 13 7 22 7 25 7 42 7 35 7 30 7 28 7 22 7 31 7 9 7 25 7 26 7 30 7 23 7 7 7 15 7 28 7 35 7 18 7 32 7 47 7 22 7 33 7 35 7 48 7 28 7 139 7 72 7 93 7 64 7 48 7 85 7 86 7 48 7 28 7 22 7 28 7 19 7 28 7 24 7 21 7 26 7 21 7 35 7 22 7 24 7 25 7 32 7 17 7 29 7 35 7 17 7 29 7 19 7 23 7 18 7 19 7 26 7 24 7 29 7 17 7 47 7 81 7 29 7 50 7 66 7 34 7 54 7 99999"/>
<path d="M3135 5298H13852" stroke-dasharray="7 24 7 35 7 18 7 19 7 24 7 17 7 37 7 39 7 135 7 31 7 48 7 22 7 27 7 15 7 36 7 18 7 24 7 27 7 24 7 30 7 29 7 18 7 20 7 37 7 114 7 16 7 43 7 22 7 33 7 54 7 57 7 39 7 139 7 21 7 40 7 38 7 47 7 139 7 44 7 26 7 18 7 35 7 31 7 28 7 32 7 26 7 12 7 29 7 11 7 17 7 32 7 16 7 22 7 16 7 34 7 35 7 61 7 29 7 24 7 65 7 58 7 29 7 52 7 52 7 44 7 24 7 52 7 22 7 23 7 45 7 24 7 46 7 24 7 59 7 66 7 57 7 27 7 54 7 54 7 60 7 66 7 64 7 58 7 45 7 65 7 70 7 58 7 62 7 53 7 24 7 51 7 36 7 56 7 67 7 34 7 64 7 79 7 36 7 79 7 48 7 60 7 113 7 92 7 71 7 110 7 84 7 72 7 47 7 43 7 101 7 114 7 64 7 112 7 44 7 93 7 65 7 56 7 44 7 69 7 66 7 57 7 136 7 110 7 166 7 63 7 43 7 102 7 51 7 112 7 76 7 98 7 97 7 119 7 86 7 50 7 96 7 46 7 65 7 72 7 38 7 44 7 92 7 87 7 72 7 36 7 70 7 56 7 61 7 62 7 76 7 101 7 58 7 46 7 49 7 23 7 25 7 20 7 20 7 22 7 33 7 19 7 31 7 29 7 26 7 18 7 30 7 21 7 26 7 32 7 32 7 33 7 18 7 24 7 32 7 31 7 30 7 26 7 32 7 45 7 28 7 36 7 30 7 54 7 49 7 43 7 98 7 99999"/>
<path d="M3136 5407H13856" stroke-dasharray="7 46 7 68 7 65 7 32 7 42 7 22 7 20 7 43 7 32 7 61 7 39 7 15 7 29 7 10 7 30 7 27 7 17 7 34 7 18 7 24 7 17 7 36 7 48 7 34 7 19 7 36 7 28 7 34 7 60 7 54 7 39 7 89 7 41 7 78 7 85 7 35 7 41 7 55 7 63 7 72 7 74 7 51 7 63 7 77 7 105 7 92 7 92 7 47 7 48 7 81 7 81 7 80 7 97 7 102 7 79 7 76 7 108 7 75 7 103 7 61 7 67 7 111 7 81 7 95 7 73 7 78 7 61 7 61 7 103 7 42 7 39 7 33 7 28 7 38 7 41 7 60 7 66 7 51 7 30 7 31 7 55 7 52 7 183 7 42 7 44 7 59 7 34 7 69 7 76 7 74 7 46 7 60 7 23 7 23 7 45 7 129 7 25 7 25 7 33 7 24 7 23 7 23 7 26 7 15 7 17 7 40 7 31 7 49 7 36 7 43 7 29 7 43 7 16 7 37 7 13 7 23 7 31 7 44 7 45 7 28 7 30 7 21 7 17 7 28 7 18 7 28 7 30 7 17 7 25 7 31 7 29 7 9 7 12 7 28 7 24 7 26 7 13 7 16 7 45 7 32 7 31 7 37 7 11 7 19 7 35 7 32 7 23 7 31 7 66 7 31 7 64 7 73 7 145 7 55 7 141 7 36 7 63 7 125 7 73 7 73 7 54 7 41 7 60 7 92 7 65 7 102 7 18 7 20 7 18 7 32 7 30 7 24 7 31 7 25 7 27 7 33 7 30 7 27 7 20 7 20 7 32 7 27 7 25 7 20 7 17 7 28 7 24 7 28 7 21 7 18 7 19 7 20 7 47 7 29 7 41 7 41 7 38 7 29 7 65 7 36 7 62 7 42 7 99999"/>
<path d="M3134 5515H13800" stroke-dasharray="7 21 7 44 7 60 7 45 7 62 7 27 7 18 7 130 7 26 7 18 7 32 7 12 7 32 7 10 7 102 7 19 7 9 7 15 7 8 7 14 7 28 7 23 7 35 7 25 7 25 7 11 7 25 7 28 7 34 7 12 7 18 7 20 7 41 7 12 7 27 7 10 7 98 7 34 7 20 7 19 7 18 7 19 7 38 7 23 7 25 7 22 7 35 7 56 7 52 7 51 7 45 7 31 7 38 7 23 7 46 7 30 7 33 7 46 7 40 7 33 7 19 7 25 7 150 7 22 7 46 7 31 7 48 7 24 7 29 7 58 7 42 7 86 7 123 7 48 7 30 7 66 7 50 7 63 7 28 7 32 7 35 7 70 7 45 7 58 7 25 7 67 7 70 7 55 7 79 7 66 7 40 7 72 7 189 7 83 7 57 7 33 7 69 7 51 7 65 7 48 7 176 7 62 7 33 7 42 7 65 7 36 7 36 7 47 7 38 7 37 7 45 7 38 7 36 7 58 7 67 7 57 7 49 7 80 7 68 7 115 7 81 7 43 7 79 7 72 7 44 7 77 7 85 7 47 7 51 7 44 7 99 7 41 7 52 7 135 7 146 7 97 7 120 7 46 7 90 7 73 7 101 7 61 7 90 7 89 7 53 7 105 7 51 7 81 7 79 7 68 7 63 7 103 7 83 7 60 7 40 7 77 7 91 7 19 7 24 7 23 7 20 7 31 7 30 7 29 7 20 7 34 7 29 7 26 7 32 7 19 7 31 7 22 7 31 7 34 7 29 7 31 7 33 7 21 7 33 7 33 7 35 7 36 7 75 7 55 7 85 7 76 7 99999"/>
<path d="M3153 5623H13919" stroke-dasharray="7 14 7 8 7 14 7 44 7 19 7 14 7 11 7 28 7 13 7 16 7 13 7 20 7 29 7 39 7 11 7 32 7 12 7 19 7 25 7 20 7 33 7 22 7 17 7 12 7 44 7 58 7 58 7 27 7 120 7 39 7 50 7 55 7 50 7 47 7 48 7 66 7 27 7 69 7 60 7 81 7 87 7 67 7 49 7 90 7 100 7 88 7 115 7 47 7 79 7 48 7 185 7 37 7 76 7 51 7 42 7 64 7 64 7 28 7 51 7 129 7 35 7 52 7 40 7 59 7 28 7 68 7 80 7 69 7 41 7 65 7 25 7 44 7 48 7 35 7 36 7 14 7 35 7 32 7 24 7 38 7 17 7 47 7 54 7 44 7 51 7 29 7 37 7 54 7 34 7 46 7 29 7 62 7 61 7 43 7 41 7 22 7 43 7 21 7 22 7 17 7 25 7 39 7 18 7 39 7 19 7 30 7 146 7 9 7 40 7 23 7 27 7 35 7 36 7 102 7 18 7 17 7 17 7 148 7 10 7 18 7 19 7 27 7 26 7 8 7 22 7 14 7 24 7 16 7 11 7 14 7 31 7 11 7 17 7 9 7 35 7 25 7 25 7 28 7 38 7 41 7 37 7 25 7 40 7 13 7 34 7 33 7 35 7 18 7 46 7 29 7 27 7 20 7 43 7 119 7 41 7 45 7 44 7 22 7 25 7 24 7 43 7 28 7 36 7 58 7 60 7 55 7 195 7 74 7 82 7 74 7 35 7 76 7 46 7 82 7 82 7 172 7 72 7 49 7 41 7 58 7 60 7 49 7 32 7 30 7 19 7 18 7 28 7 27 7 30 7 21 7 33 7 26 7 28 7 29 7 24 7 32 7 24 7 20 7 19 7 31 7 21 7 17 7 19 7 34 7 22 7 33 7 19 7 32 7 14 7 16 7 15 7 10 7 26 7 10 7 14 7 24 7 30 7 37 7 72 7 27 7 12 7 106 7 42 7 99999"/>
<path d="M3160 5732H13810" stroke-dasharray="7 53 7 43 7 66 7 40 7 34 7 38 7 59 7 21 7 33 7 13 7 23 7 22 7 8 7 18 7 42 7 44 7 63 7 75 7 47 7 67 7 107 7 41 7 48 7 57 7 62 7 76 7 25 7 27 7 20 7 28 7 26 7 39 7 20 7 18 7 35 7 46 7 14 7 39 7 33 7 41 7 20 7 52 7 44 7 46 7 43 7 53 7 19 7 34 7 30 7 35 7 35 7 45 7 28 7 21 7 22 7 29 7 24 7 18 7 38 7 39 7 45 7 46 7 39 7 15 7 40 7 16 7 19 7 21 7 29 7 17 7 13 7 11 7 36 7 40 7 33 7 49 7 21 7 29 7 25 7 15 7 22 7 14 7 30 7 9 7 124 7 25 7 14 7 24 7 16 7 17 7 33 7 14 7 18 7 22 7 29 7 34 7 44 7 28 7 40 7 26 7 37 7 74 7 89 7 64 7 27 7 54 7 51 7 37 7 70 7 45 7 56 7 26 7 31 7 33 7 58 7 21 7 24 7 65 7 32 7 67 7 43 7 78 7 40 7 46 7 27 7 44 7 37 7 50 7 39 7 37 7 20 7 34 7 39 7 64 7 59 7 34 7 43 7 57 7 53 7 17 7 36 7 21 7 36 7 45 7 29 7 21 7 19 7 24 7 72 7 11 7 16 7 16 7 24 7 38 7 170 7 40 7 68 7 45 7 53 7 57 7 66 7 62 7 69 7 84 7 101 7 97 7 69 7 138 7 79 7 81 7 78 7 82 7 70 7 101 7 58 7 58 7 79 7 61 7 46 7 46 7 89 7 74 7 67 7 45 7 57 7 78 7 32 7 29 7 23 7 18 7 33 7 33 7 30 7 28 7 19 7 30 7 30 7 25 7 29 7 18 7 22 7 25 7 23 7 18 7 21 7 21 7 26 7 30 7 19 7 17 7 24 7 22 7 27 7 42 7 75 7 46 7 38 7 76 7 56 7 50 7 99999"/>
<path d="M3148 5840H13890" stroke-dasharray="7 44 7 37 7 34 7 34 7 16 7 26 7 27 7 71 7 49 7 63 7 81 7 67 7 38 7 91 7 78 7 105 7 63 7 68 7 67 7 50 7 72 7 54 7 66 7 96 7 79 7 72 7 68 7 188 7 103 7 40 7 101 7 39 7 86 7 36 7 71 7 96 7 35 7 64 7 85 7 70 7 66 7 76 7 55 7 18 7 48 7 25 7 44 7 19 7 16 7 33 7 24 7 18 7 17 7 27 7 20 7 35 7 50 7 48 7 47 7 16 7 13 7 32 7 28 7 50 7 46 7 46 7 36 7 33 7 33 7 43 7 36 7 19 7 9 7 21 7 82 7 22 7 21 7 18 7 19 7 28 7 23 7 15 7 29 7 68 7 45 7 20 7 30 7 60 7 44 7 51 7 40 7 36 7 32 7 54 7 48 7 45 7 180 7 29 7 145 7 52 7 49 7 82 7 45 7 30 7 60 7 54 7 62 7 68 7 81 7 82 7 62 7 66 7 46 7 76 7 69 7 219 7 59 7 51 7 106 7 99 7 78 7 47 7 99 7 109 7 107 7 57 7 119 7 66 7 98 7 55 7 103 7 55 7 68 7 89 7 50 7 108 7 61 7 78 7 66 7 81 7 89 7 68 7 92 7 21 7 23 7 21 7 26 7 30 7 20 7 29 7 22 7 34 7 27 7 21 7 32 7 32 7 33 7 23 7 33 7 19 7 30 7 31 7 23 7 22 7 21 7 24 7 27 7 20 7 23 7 67 7 88 7 79 7 117 7 136 7 99999"/>
<path d="M3177 5948H13776" stroke-dasharray="7 49 7 21 7 35 7 23 7 48 7 30 7 23 7 19 7 21 7 56 7 39 7 38 7 76 7 59 7 58 7 53 7 113 7 98 7 39 7 83 7 115 7 77 7 97 7 90 7 44 7 65 7 38 7 55 7 93 7 57 7 105 7 79 7 61 7 84 7 102 7 40 7 79 7 105 7 90 7 65 7 56 7 80 7 79 7 83 7 78 7 77 7 35 7 79 7 71 7 33 7 28 7 37 7 56 7 62 7 56 7 39 7 89 7 49 7 82 7 72 7 27 7 43 7 38 7 41 7 65 7 61 7 56 7 39 7 21 7 33 7 26 7 52 7 43 7 57 7 102 7 41 7 49 7 29 7 47 7 59 7 31 7 19 7 36 7 29 7 33 7 47 7 35 7 14 7 22 7 38 7 43 7 46 7 67 7 54 7 44 7 17 7 22 7 30 7 30 7 29 7 28 7 15 7 47 7 177 7 52 7 61 7 41 7 64 7 24 7 52 7 27 7 36 7 43 7 47 7 43 7 187 7 22 7 56 7 55 7 36 7 56 7 24 7 60 7 30 7 20 7 54 7 48 7 70 7 134 7 45 7 55 7 57 7 50 7 32 7 34 7 45 7 27 7 17 7 23 7 31 7 25 7 37 7 22 7 29 7 29 7 32 7 66 7 21 7 38 7 45 7 45 7 71 7 43 7 83 7 97 7 83 7 24 7 32 7 25 7 24 7 29 7 18 7 17 7 31 7 17 7 18 7 33 7 34 7 18 7 31 7 21 7 24 7 21 7 18 7 27 7 28 7 30 7 34 7 31 7 26 7 29 7 20 7 20 7 30 7 69 7 43 7 63 7 130 7 55 7 99999"/>
<path d="M3122 6057H13746" stroke-dasharray="7 59 7 34 7 24 7 58 7 37 7 57 7 47 7 50 7 57 7 62 7 49 7 74 7 36 7 24 7 72 7 48 7 24 7 43 7 83 7 169 7 64 7 57 7 57 7 47 7 66 7 62 7 45 7 167 7 65 7 40 7 31 7 68 7 88 7 59 7 43 7 49 7 48 7 39 7 50 7 31 7 48 7 43 7 42 7 38 7 34 7 34 7 25 7 13 7 34 7 12 7 29 7 25 7 34 7 23 7 46 7 41 7 25 7 28 7 51 7 58 7 18 7 42 7 26 7 25 7 47 7 37 7 36 7 64 7 72 7 48 7 60 7 47 7 29 7 45 7 48 7 26 7 159 7 26 7 31 7 18 7 17 7 30 7 30 7 38 7 48 7 90 7 17 7 45 7 28 7 37 7 43 7 37 7 34 7 52 7 55 7 33 7 34 7 61 7 84 7 85 7 87 7 76 7 96 7 40 7 96 7 77 7 162 7 92 7 85 7 81 7 53 7 70 7 87 7 62 7 46 7 103 7 41 7 66 7 113 7 81 7 85 7 40 7 101 7 42 7 58 7 90 7 75 7 84 7 31 7 53 7 44 7 48 7 34 7 59 7 86 7 51 7 49 7 53 7 31 7 54 7 63 7 43 7 49 7 55 7 35 7 33 7 78 7 99 7 82 7 67 7 40 7 102 7 26 7 30 7 35 7 23 7 29 7 24 7 28 7 19 7 30 7 32 7 33 7 22 7 25 7 31 7 19 7 34 7 18 7 20 7 32 7 34 7 18 7 21 7 20 7 25 7 32 7 27 7 15 7 49 7 21 7 171 7 48 7 30 7 99999"/>
<path d="M3172 6165H13806" stroke-dasharray="7 84 7 93 7 96 7 51 7 76 7 100 7 64 7 94 7 62 7 68 7 103 7 116 7 74 7 112 7 61 7 89 7 31 7 34 7 67 7 50 7 30 7 49 7 73 7 49 7 45 7 92 7 39 7 54 7 62 7 55 7 57 7 30 7 45 7 43 7 23 7 46 7 200 7 23 7 30 7 36 7 19 7 18 7 40 7 48 7 51 7 54 7 48 7 40 7 73 7 52 7 48 7 72 7 53 7 19 7 42 7 50 7 53 7 56 7 27 7 40 7 34 7 63 7 57 7 36 7 85 7 84 7 51 7 75 7 95 7 90 7 92 7 51 7 85 7 81 7 61 7 76 7 104 7 117 7 50 7 99 7 77 7 73 7 86 7 44 7 61 7 57 7 68 7 51 7 44 7 46 7 44 7 69 7 97 7 78 7 85 7 45 7 90 7 97 7 63 7 52 7 44 7 67 7 103 7 108 7 75 7 62 7 80 7 58 7 87 7 152 7 88 7 58 7 82 7 57 7 97 7 98 7 44 7 104 7 93 7 108 7 94 7 39 7 87 7 65 7 81 7 78 7 34 7 29 7 22 7 33 7 26 7 30 7 27 7 18 7 19 7 30 7 24 7 21 7 28 7 33 7 19 7 19 7 27 7 21 7 33 7 25 7 22 7 21 7 17 7 25 7 27 7 21 7 22 7 53 7 77 7 83 7 85 7 35 7 59 7 99999"/>
<path d="M3136 6273H13726" stroke-dasharray="7 13 7 49 7 28 7 33 7 18 7 30 7 29 7 51 7 56 7 144 7 43 7 58 7 53 7 57 7 43 7 42 7 46 7 139 7 49 7 26 7 25 7 35 7 104 7 22 7 21 7 37 7 128 7 21 7 33 7 37 7 53 7 58 7 38 7 32 7 61 7 29 7 41 7 49 7 49 7 23 7 40 7 31 7 128 7 16 7 90 7 25 7 21 7 13 7 36 7 36 7 13 7 16 7 10 7 13 7 12 7 35 7 23 7 22 7 16 7 13 7 31 7 18 7 20 7 30 7 20 7 19 7 12 7 24 7 9 7 25 7 24 7 23 7 26 7 26 7 20 7 18 7 10 7 30 7 16 7 21 7 29 7 23 7 26 7 12 7 21 7 8 7 37 7 27 7 28 7 35 7 9 7 37 7 37 7 40 7 41 7 37 7 23 7 49 7 58 7 124 7 46 7 72 7 90 7 36 7 65 7 83 7 56 7 31 7 27 7 42 7 28 7 73 7 56 7 57 7 74 7 37 7 87 7 58 7 116 7 101 7 63 7 93 7 86 7 95 7 154 7 101 7 78 7 75 7 104 7 83 7 102 7 74 7 58 7 69 7 56 7 64 7 82 7 72 7 58 7 87 7 84 7 53 7 60 7 59 7 62 7 55 7 58 7 53 7 50 7 61 7 32 7 43 7 81 7 62 7 48 7 55 7 45 7 40 7 35 7 36 7 65 7 39 7 75 7 49 7 100 7 72 7 52 7 56 7 40 7 67 7 19 7 34 7 24 7 26 7 27 7 27 7 31 7 33 7 21 7 34 7 34 7 24 7 33 7 26 7 18 7 27 7 19 7 26 7 34 7 28 7 33 7 32 7 44 7 34 7 36 7 36 7 68 7 19 7 46 7 51 7 99999"/>
<path d="M3141 6382H13726" stroke-dasharray="7 49 7 150 7 39 7 37 7 64 7 49 7 85 7 73 7 44 7 35 7 35 7 40 7 54 7 68 7 64 7 54 7 82 7 52 7 66 7 49 7 25 7 47 7 57 7 50 7 32 7 18 7 37 7 46 7 28 7 24 7 25 7 24 7 33 7 53 7 37 7 138 7 39 7 64 7 44 7 56 7 65 7 51 7 57 7 21 7 30 7 26 7 38 7 66 7 36 7 36 7 71 7 52 7 57 7 47 7 69 7 139 7 43 7 66 7 51 7 87 7 41 7 32 7 61 7 52 7 41 7 95 7 220 7 79 7 51 7 104 7 96 7 63 7 78 7 42 7 48 7 84 7 49 7 68 7 76 7 47 7 97 7 73 7 92 7 87 7 109 7 82 7 85 7 95 7 73 7 92 7 54 7 70 7 69 7 77 7 105 7 44 7 48 7 62 7 66 7 71 7 101 7 114 7 73 7 48 7 72 7 75 7 50 7 44 7 81 7 56 7 101 7 53 7 57 7 77 7 41 7 41 7 69 7 62 7 93 7 31 7 66 7 50 7 62 7 94 7 48 7 52 7 72 7 68 7 39 7 74 7 49 7 48 7 46 7 76 7 71 7 30 7 17 7 31 7 18 7 21 7 29 7 30 7 33 7 20 7 20 7 32 7 24 7 20 7 19 7 19 7 30 7 33 7 18 7 32 7 27 7 18 7 31 7 26 7 19 7 21 7 34 7 62 7 47 7 77 7 47 7 49 7 44 7 99999"/>
<path d="M3124 6490H13736" stroke-dasharray="7 96 7 102 7 39 7 35 7 48 7 29 7 101 7 48 7 30 7 25 7 17 7 23 7 17 7 24 7 9 7 14 7 20 7 30 7 18 7 12 7 31 7 19 7 30 7 21 7 19 7 27 7 45 7 13 7 29 7 23 7 18 7 32 7 23 7 50 7 26 7 11 7 31 7 38 7 47 7 18 7 53 7 32 7 53 7 30 7 41 7 44 7 25 7 61 7 35 7 50 7 58 7 81 7 49 7 53 7 47 7 75 7 60 7 46 7 204 7 42 7 77 7 81 7 57 7 67 7 67 7 161 7 78 7 38 7 66 7 179 7 88 7 56 7 49 7 97 7 38 7 140 7 73 7 47 7 33 7 79 7 29 7 60 7 60 7 32 7 98 7 69 7 68 7 91 7 74 7 52 7 69 7 92 7 43 7 61 7 80 7 58 7 66 7 61 7 66 7 70 7 93 7 55 7 69 7 102 7 57 7 67 7 61 7 164 7 60 7 106 7 88 7 103 7 102 7 47 7 43 7 53 7 70 7 176 7 74 7 79 7 50 7 93 7 68 7 64 7 110 7 62 7 43 7 69 7 74 7 38 7 63 7 30 7 41 7 66 7 63 7 59 7 97 7 66 7 45 7 66 7 43 7 71 7 34 7 19 7 27 7 23 7 29 7 27 7 20 7 33 7 21 7 25 7 33 7 18 7 32 7 33 7 23 7 33 7 22 7 34 7 23 7 25 7 26 7 25 7 28 7 35 7 22 7 106 7 42 7 86 7 101 7 99999"/>
<path d="M3148 6598H13621" stroke-dasharray="7 57 7 72 7 63 7 47 7 41 7 38 7 79 7 101 7 30 7 58 7 35 7 22 7 39 7 11 7 41 7 46 7 35 7 51 7 50 7 40 7 24 7 47 7 20 7 39 7 56 7 30 7 46 7 28 7 99 7 9 7 28 7 16 7 34 7 39 7 135 7 49 7 54 7 29 7 26 7 38 7 35 7 35 7 19 7 47 7 46 7 38 7 22 7 9 7 15 7 18 7 18 7 24 7 110 7 24 7 33 7 50 7 39 7 57 7 29 7 26 7 33 7 77 7 73 7 45 7 41 7 20 7 49 7 76 7 43 7 54 7 38 7 59 7 35 7 37 7 32 7 46 7 17 7 19 7 37 7 40 7 37 7 136 7 18 7 31 7 23 7 37 7 22 7 34 7 44 7 46 7 36 7 58 7 41 7 149 7 11 7 40 7 26 7 10 7 23 7 16 7 22 7 24 7 41 7 12 7 38 7 22 7 40 7 48 7 20 7 30 7 55 7 66 7 66 7 31 7 70 7 30 7 48 7 63 7 24 7 55 7 62 7 82 7 38 7 124 7 80 7 46 7 67 7 88 7 35 7 66 7 45 7 40 7 45 7 75 7 51 7 55 7 94 7 49 7 92 7 118 7 48 7 181 7 68 7 83 7 83 7 175 7 97 7 50 7 104 7 84 7 103 7 77 7 72 7 64 7 66 7 62 7 67 7 78 7 70 7 98 7 84 7 115 7 35 7 23 7 34 7 26 7 25 7 23 7 33 7 34 7 21 7 18 7 34 7 28 7 18 7 34 7 20 7 20 7 30 7 28 7 26 7 29 7 27 7 29 7 75 7 71 7 118 7 99999"/>
<path d="M3128 6706H13652" stroke-dasharray="7 145 7 17 7 49 7 39 7 44 7 36 7 14 7 39 7 33 7 32 7 17 7 48 7 53 7 32 7 39 7 10 7 20 7 18 7 10 7 36 7 28 7 31 7 23 7 19 7 15 7 22 7 17 7 28 7 35 7 9 7 16 7 28 7 32 7 27 7 42 7 37 7 35 7 17 7 42 7 18 7 44 7 28 7 17 7 29 7 27 7 117 7 26 7 21 7 94 7 28 7 21 7 30 7 35 7 35 7 66 7 71 7 67 7 35 7 49 7 103 7 77 7 56 7 95 7 89 7 64 7 55 7 58 7 106 7 64 7 72 7 114 7 119 7 164 7 107 7 52 7 70 7 85 7 85 7 54 7 83 7 78 7 65 7 60 7 108 7 76 7 43 7 79 7 48 7 76 7 88 7 72 7 52 7 52 7 55 7 108 7 101 7 39 7 62 7 39 7 27 7 28 7 58 7 41 7 27 7 81 7 41 7 75 7 43 7 78 7 32 7 92 7 78 7 75 7 80 7 91 7 85 7 38 7 56 7 72 7 62 7 18 7 35 7 53 7 37 7 33 7 32 7 32 7 28 7 38 7 41 7 55 7 29 7 43 7 26 7 27 7 44 7 32 7 38 7 27 7 43 7 63 7 42 7 60 7 35 7 27 7 27 7 24 7 51 7 19 7 47 7 47 7 50 7 32 7 23 7 24 7 19 7 145 7 60 7 57 7 58 7 66 7 54 7 173 7 26 7 19 7 31 7 22 7 24 7 22 7 23 7 28 7 24 7 28 7 24 7 18 7 35 7 30 7 26 7 24 7 32 7 22 7 28 7 23 7 22 7 34 7 24 7 33 7 43 7 23 7 30 7 46 7 26 7 28 7 99999"/>
<path d="M3177 6815H13712" stroke-dasharray="7 51 7 51 7 44 7 31 7 50 7 48 7 131 7 60 7 65 7 39 7 29 7 18 7 29 7 17 7 31 7 24 7 30 7 17 7 23 7 42 7 48 7 51 7 35 7 75 7 20 7 25 7 12 7 24 7 83 7 33 7 38 7 14 7 39 7 33 7 24 7 9 7 28 7 32 7 33 7 13 7 27 7 10 7 19 7 19 7 19 7 41 7 19 7 24 7 9 7 17 7 38 7 16 7 19 7 15 7 24 7 26 7 47 7 39 7 42 7 32 7 35 7 20 7 46 7 37 7 51 7 60 7 45 7 67 7 38 7 57 7 53 7 38 7 57 7 51 7 77 7 58 7 67 7 74 7 50 7 62 7 145 7 119 7 26 7 57 7 57 7 34 7 48 7 57 7 41 7 38 7 32 7 48 7 57 7 58 7 26 7 41 7 27 7 51 7 61 7 51 7 64 7 33 7 28 7 65 7 43 7 32 7 57 7 64 7 72 7 64 7 77 7 51 7 39 7 43 7 53 7 76 7 99 7 86 7 84 7 53 7 66 7 48 7 52 7 56 7 78 7 61 7 35 7 42 7 69 7 38 7 53 7 80 7 55 7 48 7 76 7 57 7 24 7 29 7 55 7 58 7 58 7 64 7 67 7 59 7 109 7 62 7 56 7 31 7 31 7 33 7 52 7 38 7 26 7 53 7 47 7 49 7 20 7 20 7 26 7 29 7 46 7 37 7 59 7 70 7 52 7 101 7 96 7 46 7 65 7 51 7 97 7 71 7 18 7 21 7 20 7 26 7 19 7 29 7 29 7 27 7 25 7 18 7 33 7 28 7 29 7 20 7 28 7 28 7 26 7 31 7 33 7 33 7 30 7 31 7 33 7 23 7 21 7 81 7 115 7 41 7 56 7 99999"/>
<path d="M3124 6923H13666" stroke-dasharray="7 67 7 43 7 81 7 69 7 48 7 35 7 218 7 37 7 35 7 39 7 34 7 57 7 85 7 62 7 29 7 56 7 38 7 88 7 42 7 68 7 29 7 25 7 130 7 81 7 46 7 29 7 17 7 171 7 20 7 32 7 15 7 14 7 23 7 23 7 32 7 27 7 35 7 23 7 25 7 32 7 17 7 13 7 11 7 29 7 34 7 26 7 9 7 37 7 37 7 30 7 123 7 29 7 35 7 14 7 39 7 29 7 19 7 26 7 32 7 41 7 48 7 58 7 56 7 74 7 22 7 24 7 56 7 26 7 26 7 51 7 38 7 44 7 64 7 69 7 39 7 59 7 70 7 79 7 40 7 101 7 44 7 98 7 56 7 37 7 49 7 59 7 24 7 57 7 36 7 54 7 33 7 57 7 59 7 58 7 22 7 25 7 27 7 26 7 61 7 44 7 23 7 25 7 33 7 21 7 18 7 40 7 24 7 11 7 17 7 25 7 25 7 21 7 40 7 68 7 67 7 25 7 53 7 59 7 35 7 56 7 33 7 46 7 33 7 73 7 76 7 50 7 84 7 31 7 65 7 30 7 39 7 31 7 43 7 29 7 33 7 13 7 26 7 44 7 34 7 43 7 20 7 30 7 50 7 42 7 39 7 76 7 67 7 37 7 77 7 73 7 32 7 65 7 121 7 95 7 81 7 175 7 116 7 100 7 114 7 66 7 51 7 41 7 101 7 70 7 39 7 71 7 43 7 68 7 63 7 24 7 32 7 35 7 28 7 34 7 23 7 27 7 27 7 28 7 17 7 27 7 34 7 25 7 24 7 23 7 26 7 34 7 32 7 32 7 19 7 30 7 18 7 22 7 74 7 74 7 74 7 76 7 99999"/>
<path d="M3141 7031H13712" stroke-dasharray="7 72 7 47 7 63 7 36 7 50 7 62 7 50 7 35 7 44 7 42 7 18 7 26 7 30 7 31 7 32 7 21 7 37 7 19 7 18 7 41 7 56 7 28 7 15 7 39 7 95 7 40 7 137 7 33 7 26 7 35 7 22 7 37 7 48 7 53 7 23 7 37 7 29 7 54 7 35 7 35 7 63 7 27 7 44 7 46 7 61 7 24 7 38 7 73 7 61 7 46 7 48 7 63 7 139 7 60 7 39 7 53 7 50 7 42 7 21 7 37 7 41 7 85 7 31 7 41 7 53 7 46 7 52 7 49 7 61 7 60 7 69 7 102 7 92 7 79 7 80 7 49 7 63 7 99 7 63 7 110 7 75 7 118 7 146 7 92 7 65 7 99 7 50 7 88 7 87 7 61 7 82 7 56 7 89 7 87 7 99 7 63 7 83 7 47 7 167 7 39 7 177 7 74 7 71 7 37 7 40 7 61 7 65 7 51 7 71 7 66 7 64 7 44 7 42 7 26 7 83 7 48 7 92 7 94 7 110 7 95 7 93 7 72 7 48 7 40 7 96 7 65 7 55 7 71 7 103 7 115 7 50 7 96 7 51 7 100 7 68 7 79 7 61 7 27 7 24 7 24 7 34 7 25 7 18 7 26 7 32 7 34 7 24 7 23 7 33 7 17 7 28 7 20 7 28 7 34 7 33 7 24 7 31 7 27 7 21 7 21 7 29 7 20 7 51 7 46 7 56 7 69 7 44 7 41 7 99999"/>
<path d="M3160 7140H13776" stroke-dasharray="7 28 7 49 7 77 7 84 7 91 7 69 7 72 7 71 7 86 7 72 7 118 7 87 7 96 7 52 7 46 7 87 7 66 7 61 7 44 7 64 7 68 7 59 7 71 7 71 7 109 7 85 7 115 7 91 7 88 7 99 7 95 7 100 7 118 7 67 7 48 7 59 7 72 7 100 7 85 7 83 7 76 7 99 7 106 7 86 7 102 7 53 7 80 7 98 7 61 7 109 7 47 7 55 7 106 7 62 7 42 7 49 7 48 7 84 7 61 7 85 7 109 7 164 7 43 7 39 7 70 7 72 7 90 7 145 7 98 7 87 7 57 7 45 7 88 7 38 7 78 7 117 7 74 7 116 7 96 7 93 7 49 7 102 7 91 7 71 7 45 7 36 7 59 7 65 7 61 7 26 7 32 7 48 7 136 7 57 7 30 7 60 7 114 7 33 7 44 7 38 7 46 7 49 7 17 7 25 7 14 7 39 7 84 7 26 7 28 7 27 7 22 7 9 7 8 7 16 7 12 7 15 7 15 7 62 7 86 7 77 7 40 7 59 7 93 7 28 7 55 7 35 7 28 7 32 7 23 7 34 7 28 7 25 7 35 7 29 7 24 7 27 7 25 7 18 7 18 7 21 7 18 7 33 7 30 7 30 7 27 7 26 7 32 7 28 7 20 7 35 7 35 7 26 7 17 7 37 7 10 7 19 7 18 7 23 7 26 7 16 7 36 7 99999"/>
</g>
<path d="M1354.1 42.5h5.2M1366.8 42.5h11.6M1386.1 42.5h34M1321.8 53.3h3.6M1342.4 53.3h4.8M1366.9 53.3h3.5M1383.9 53.3h36.3M1324.8 64.2h3.2M1335.8 64.2h5.4M1365.4 64.2h3.4M1387.5 64.2h4.5M1397.3 64.2h22.9M1325.4 75h2.1M1340 75h4.2M1351.4 75h5M1374.2 75h46M1324.3 85.8h2.9M1353.1 85.8h3.6M1373.2 85.8h47M1323.7 96.7h5.6M1341.4 96.7h2.9M1364.9 96.7h2.6M1389 96.7h31.2M1324.8 107.5h6M1343 107.5h2.3M1357.2 107.5h2.3M1382.9 107.5h37.3M1324.9 118.3h3.7M1352.2 118.3h4.2M1370.6 118.3h4.5M1392.7 118.3h27.5M1325.6 129.1h4.1M1344.7 129.1h5.1M1358 129.1h5.3M1386.3 129.1h5.6M1397.8 129.1h22.4M1322.2 140h4.1M1332.9 140h3.6M1343.7 140h2.8M1365.4 140h2.3M1383.6 140h4.8M1394.9 140h25.3M1324.1 150.8h3.6M1343 150.8h5.2M1366.4 150.8h3.5M1375.9 150.8h44.3M1322.4 161.6h3.1M1335.2 161.6h2.9M1345.4 161.6h3M1356.4 161.6h3.9M1370.9 161.6h3.8M1377.4 161.6h42.8M1324.7 172.5h5.5M1336.6 172.5h5.1M1360.6 172.5h3.6M1369.6 172.5h50.6M1324.7 183.3h5.3M1355.1 183.3h5.7M1368 183.3h3.4M1380.6 183.3h5.6M1399.9 183.3h20.3M1324.2 194.1h4.2M1347.4 194.1h3.8M1368.4 194.1h51.8M1324.6 204.9h3.1M1342.3 204.9h5.2M1358.8 204.9h4.6M1373.7 204.9h5.5M1395.1 204.9h25.1M1325.6 215.8h5.8M1338 215.8h5.4M1362.1 215.8h5.3M1379.2 215.8h2.4M1395.8 215.8h24.4M1324.8 226.6h5M1342.8 226.6h3.3M1366.9 226.6h2.7M1385 226.6h35.2M1323.9 237.4h4.2M1344.3 237.4h4.6M1371.2 237.4h49M1321.3 248.3h5.3M1348.3 248.3h2.6M1369.5 248.3h2.1M1382.6 248.3h2.4M1395.3 248.3h24.9M1324.1 259.1h4.5M1348.5 259.1h4.4M1363.1 259.1h4.7M1389 259.1h2.4M1397.1 259.1h23.1M1321.4 269.9h4.5M1341.1 269.9h5.7M1353.1 269.9h2.1M1377.5 269.9h2.3M1391.4 269.9h28.8M1325 280.8h4.7M1342.7 280.8h2.3M1367 280.8h2.8M1395.2 280.8h25M1322.6 291.6h2.9M1335.2 291.6h5.4M1351.3 291.6h4.9M1363.3 291.6h4.2M1370.9 291.6h49.3M1323.5 302.4h4M1349.4 302.4h5.8M1369.3 302.4h3.1M1382.1 302.4h38.1M1322.2 313.2h5.3M1349.1 313.2h5.5M1379.4 313.2h40.8M1325.7 324.1h3M1347.3 324.1h3.5M1358.2 324.1h3.7M1368.3 324.1h2.6M1392.4 324.1h5.7M1398.7 324.1h21.5M1325.9 334.9h3.2M1338.3 334.9h2.3M1355.4 334.9h2.2M1377.1 334.9h43.1M1323.6 345.7h4.1M1341.4 345.7h3.4M1357.9 345.7h5.8M1380.2 345.7h2.4M1399.9 345.7h20.3M1321.9 356.6h7M1355.7 356.6h4M1384 356.6h9.6M1397 356.6h4.6M1405.3 356.6h14.7M1321.5 367.4h7.4M1333.8 367.4h6M1351.8 367.4h3.6M1367.1 367.4h3.6M1380 367.4h3.6M1388 367.4h32.1M1368.7 378.2h10M1385 378.2h4.6M1395 378.2h2.2M1401 378.2h19.1M1325.9 389.1h1.4M1339.2 389.1h2.6M1374.1 389.1h8.2M1390 389.1h1.2M1395.6 389.1h24.5M1326.3 399.9h2.6M1375.1 399.9h5.6M1385 399.9h6.6M1397.4 399.9h22.7M1376.1 410.7h4.6M1388 410.7h3.6M1395 410.7h25.1M1347.2 421.6h3.6M1367.1 421.6h1.2M1372.5 421.6h2.2M1382.6 421.6h14.5M1400.6 421.6h19.5M1372.1 432.4h3.6M1384.4 432.4h35.7M1372.7 443.2h3M1385.6 443.2h34.5M1349.2 454h4.2M1368.5 454h6.8M1385 454h6.6M1393.6 454h26.5M1345.2 464.9h5.6M1360.1 464.9h2M1384 464.9h5M1395 464.9h25.1M1338.2 475.7h1.2M1366.1 475.7h1.6M1376.5 475.7h3.6M1383.6 475.7h36.5M1333.8 486.5h7M1350.2 486.5h2.6M1364.1 486.5h3.6M1375.5 486.5h5.2M1385 486.5h13.1M1401.6 486.5h18.5M1383.6 497.4h5.4M1392.4 497.4h27.7M1379.4 508.2h40.6M1348.2 519h2.6M1364.7 519h3M1371.7 519h2M1380 519h40M1337.2 529.9h2.6M1373.7 529.9h3M1385.6 529.9h34.5M1386 540.7h34.1M1335.2 551.5h5.6M1380.4 551.5h39.6M1338.2 562.3h4.6M1356.1 562.3h3.6M1369.1 562.3h3.6M1381 562.3h8M1392.4 562.3h27.7M1381.4 573.2h38.6M1338.2 584h5.2M1356.7 584h2M1384 584h2.6M1389.4 584h30.7M1346.6 594.8h3.2M1378 594.8h42M1351.2 605.7h3.6M1375.1 605.7h45M1332.8 616.5h5M1351.2 616.5h3.6M1366.1 616.5h2.6M1374.1 616.5h1.2M1381 616.5h39M1345.8 627.3h3M1364.5 627.3h4.2M1373.1 627.3h47M1366.1 638.1h2M1373.1 638.1h47M1335.2 649h5M1350.2 649h4.6M1367.1 649h1.6M1377.5 649h42.6M1333.8 659.8h4M1355.5 659.8h2.2M1367.1 659.8h53M1324.7 670.6h2.2M1335.4 670.6h1.4M1338.8 670.6h2M1365.7 670.6h6M1378 670.6h42M1371.7 681.5h48.4M1357.1 692.3h3.6M1369.5 692.3h50.6M1371.7 703.1h48.4M1378 714h42" stroke="#fccde5" stroke-width="6.6" fill="none"/>
<path d="M1404.9 53.3h1.8M1404.4 64.2h2.1M1389.7 85.8h2M1400.3 118.3h2.1M1403.9 129.1h2.6M1400.9 140h1.9M1384.6 161.6h2.4M1380.7 172.5h1.7M1404.8 194.1h1.6M1401.9 215.8h1.9M1393.2 226.6h2.2M1406.4 237.4h1.8M1407.4 248.3h2.7M1398 269.9h2.1M1405.3 280.8h2.5M1400.1 302.4h2.7M1387.8 313.2h2.6M1407.1 345.7h2.8M1405.5 584h1.2M1398.2 605.7h1.4M1402.2 605.7h2M1392 627.3h2.6M1387 638.1h2.6M1398.2 638.1h2.6M1398.6 659.8h2M1392 670.6h2.6M1381 681.5h2.6M1387.4 692.3h2.2M1389.4 714h2.6" stroke="#8dd3c7" stroke-width="6.6" fill="none"/>
<path d="M417.2 42.5h2.8M1118.8 42.5h2M467.5 42.5h1.4M512.9 42.5h2M620 42.5h1.7M673.4 42.5h3M698.2 42.5h1.5M713.2 42.5h2.4M722.2 42.5h2.5M763.5 42.5h2.7M851.8 42.5h2.9M861.3 42.5h2.6M1026.3 42.5h1.4M1047.4 42.5h1.8M1304.7 42.5h2.3M1244.6 42.5h2M1392 42.5h1.9M309 53.3h7.8M417.9 53.3h2.1M1142 53.3h2.6M466.7 53.3h2.3M640 53.3h2.6M813 53.3h2.3M847.4 53.3h3M860.3 53.3h2.2M917.4 53.3h2.4M950.7 53.3h3M1264.4 53.3h2.1M1244.6 53.3h2M1325.8 53.3h2.3M1370.8 53.3h2.2M476.8 64.2h2.5M535.1 64.2h2.3M647.6 64.2h3M689 64.2h3M731.9 64.2h2.7M847.3 64.2h2.9M861.9 64.2h3M1227.8 64.2h2.3M1252 64.2h1.3M1244.6 64.2h2M1369.2 64.2h3.4M477.9 75h3.1M485.3 75h2.5M593.3 75h2.8M611.4 75h2.4M669.6 75h2.6M678.5 75h2.1M687 75h3M742 75h2.2M996.5 75h2M1155.6 75h1.8M1313 75h1.9M1244.6 75h2M1327.9 75h3.3M309.7 85.8h9.3M361.5 85.8h16.7M389.2 85.8h8.2M427.2 85.8h2M484.4 85.8h2.7M537.2 85.8h2.2M689.8 85.8h1.8M1003.4 85.8h2.2M1094.5 85.8h1.6M1108.8 85.8h2.3M1220.2 85.8h2.5M1252 85.8h2.9M1289 85.8h1.8M1294.7 85.8h2.2M1244.6 85.8h2M308.3 96.7h8M505.2 96.7h1.9M546.4 96.7h1.4M569.2 96.7h3M586.6 96.7h1.9M604.2 96.7h1.5M630 96.7h2.4M712.6 96.7h2.8M771.7 96.7h1.8M829 96.7h2M892.5 96.7h6.1M1114.4 96.7h2.4M1123.9 96.7h2.2M1141.5 96.7h2.6M1207.2 96.7h2.6M1274.4 96.7h2.8M1288.5 96.7h1.9M1299 96.7h2.1M1244.6 96.7h2M1344.7 96.7h2.5M308 107.5h8.3M424 107.5h2.8M619.7 107.5h1.7M645.6 107.5h1.9M680.2 107.5h2.9M720.2 107.5h1.5M761.2 107.5h1.7M896 107.5h1.4M1244.6 107.5h2M309.7 118.3h10.7M333.3 118.3h5.2M368.6 118.3h2.7M439.2 118.3h3.1M474.4 118.3h2.4M541.9 118.3h2.4M593 118.3h1.9M614.2 118.3h2.2M633.3 118.3h2.8M656.9 118.3h2.1M705 118.3h2.7M736.6 118.3h2M931.8 118.3h2M1244.6 118.3h2M1329 118.3h3.9M1356.8 118.3h2.2M1375.4 118.3h4.2M309 129.1h11M331.2 129.1h4.5M366.1 129.1h5.2M422 129.1h2.5M549.5 129.1h2M822.2 129.1h1.7M1244.6 129.1h2M1350.3 129.1h2.4M1392.3 129.1h3.9M380.2 140h3.2M424 140h2.4M464 140h1.6M584.4 140h2.8M594.2 140h2.9M647.5 140h1.6M663 140h1.6M722.9 140h2.5M778 140h1.4M855 140h1.9M869.2 140h1.6M1244.6 140h2M1368.1 140h3.1M324.9 150.8h2.6M403.6 150.8h2.4M413.5 150.8h3M490.1 150.8h2.3M618.5 150.8h2.6M776.3 150.8h6.8M802.1 150.8h2.8M889.2 150.8h2M1133.9 150.8h1.6M1209.8 150.8h2M1227.7 150.8h2.1M1244.6 150.8h2M1348.6 150.8h2.5M1370.2 150.8h4.4M419.9 161.6h3.2M476.5 161.6h2.2M576.4 161.6h2.4M617.3 161.6h3M769 161.6h2M776.9 161.6h2.1M874.3 161.6h2.2M1244.6 161.6h2M1325.9 161.6h2.7M1338.5 161.6h4.3M1348.8 161.6h3.3M1360.7 161.6h2M401.2 172.5h3.4M411.5 172.5h2.4M496.8 172.5h2.6M576.5 172.5h2.3M601.3 172.5h1.6M677.7 172.5h1.8M701 172.5h2.4M807.2 172.5h2.8M842.1 172.5h1.4M859.7 172.5h2.6M869.9 172.5h2.2M1033 172.5h2.4M1212 172.5h1.7M1237.7 172.5h2.1M1252 172.5h2.2M1304.9 172.5h2.2M1244.6 172.5h2M309 183.3h12.5M337.2 183.3h6.2M473.7 183.3h1.8M620.6 183.3h2.8M631.7 183.3h2.4M677.8 183.3h2.8M733.7 183.3h2.7M782.7 183.3h2.6M792 183.3h1.7M841.1 183.3h4.1M878.3 183.3h2.8M889.8 183.3h1.9M1075.4 183.3h1.6M1307.3 183.3h1.6M1244.6 183.3h2M1330.3 183.3h4.5M1361.1 183.3h4M1386.6 183.3h4M372.7 194.1h5.6M388 194.1h4M494.1 194.1h1.4M695.2 194.1h1.6M817.1 194.1h1.8M929.1 194.1h1.3M1309.1 194.1h1.7M1244.6 194.1h2M309 204.9h2.5M441 204.9h4M617.8 204.9h3M829 204.9h1.8M1029.8 204.9h1.3M1170.2 204.9h1.3M1253 204.9h1.4M1244.6 204.9h2M1379.6 204.9h2.7M310 215.8h3.5M439 215.8h3.4M451.4 215.8h4M527.9 215.8h1.8M587.6 215.8h2M615.2 215.8h2.2M624.7 215.8h4.6M843 215.8h2.1M858.5 215.8h1.9M883.4 215.8h2.5M908.6 215.8h2.5M1028.6 215.8h2.8M1039.1 215.8h1.7M1244.6 215.8h2M1331.7 215.8h2.5M1382 215.8h3.9M309.1 226.6h3.2M439 226.6h3.4M451.4 226.6h4M482.1 226.6h1.8M500.8 226.6h1.7M541 226.6h3M558 226.6h3M584.1 226.6h1.5M633.8 226.6h2.5M653.6 226.6h2M707.4 226.6h2.6M902.2 226.6h2.5M1123.3 226.6h2.4M1218.5 226.6h1.7M1261.6 226.6h2.9M1303.7 226.6h3M1244.6 226.6h8M1346.5 226.6h4.1M496.7 237.4h1.5M526.2 237.4h1.3M565.3 237.4h1.7M627.2 237.4h2.7M749.4 237.4h2.4M1012.9 237.4h2.4M1213.4 237.4h2.2M1285.6 237.4h2M1312.3 237.4h1.8M1244.6 237.4h2M567.2 248.3h2.6M710.4 248.3h2.6M754.8 248.3h1.7M790.6 248.3h2.1M843.1 248.3h2.7M854.2 248.3h2.4M992.7 248.3h3M1006.9 248.3h2.4M1101 248.3h2.2M1150.1 248.3h2.7M1175.2 248.3h1.8M1220.8 248.3h1.9M1266.3 248.3h1.4M1300.7 248.3h4.6M1244.6 248.3h10M1372 248.3h4.4M1385.4 248.3h2.6M446.4 259.1h4.6M562.3 259.1h2.3M591.3 259.1h2.4M600 259.1h2.7M640.4 259.1h2M882.6 259.1h2M927.6 259.1h1.3M963.9 259.1h1.7M1244.6 259.1h2M1391.8 259.1h2.1M406.2 269.9h4.9M499.4 269.9h1.5M576.1 269.9h2M690 269.9h1.8M1252.2 269.9h2.8M1275.5 269.9h2.3M1244.6 269.9h2M1347.3 269.9h4.4M1380.2 269.9h3.8M309.1 280.8h7.4M417.9 280.8h3.2M429 280.8h2.9M473.2 280.8h2.6M586.7 280.8h1.7M732.3 280.8h2.1M750.8 280.8h1.9M767.1 280.8h3M875.6 280.8h2.3M1125.3 280.8h2.9M1179.1 280.8h1.5M1210.1 280.8h1.4M1244.6 280.8h2M309.1 291.6h7.4M434 291.6h2.4M512.1 291.6h4.6M568.3 291.6h2.1M613.1 291.6h2.7M772 291.6h2.6M989.7 291.6h1.3M1120.6 291.6h1.5M1139.3 291.6h2.8M1164.4 291.6h2.3M1188.4 291.6h2.1M1259.6 291.6h2.9M1272.8 291.6h3M1297 291.6h2M1244.6 291.6h2M1325.9 291.6h4.3M1356.6 291.6h4.4M1368 291.6h4.3M439 302.4h2.4M574.7 302.4h1.6M599.3 302.4h1.3M825.4 302.4h1.9M840.3 302.4h2.6M1244.6 302.4h2M1355.5 302.4h2.9M1372.8 302.4h4.1M432.5 313.2h2.5M447.4 313.2h2.4M459.7 313.2h1.5M477.1 313.2h2.2M570.4 313.2h2.7M614.5 313.2h1.5M676.6 313.2h1.5M730.4 313.2h1.7M926.8 313.2h2.4M1052.3 313.2h1.9M1244.6 313.2h2M424 324.1h3.5M461.1 324.1h1.8M695.6 324.1h1.7M731.9 324.1h2.4M802.8 324.1h2.1M820.6 324.1h2M1200.5 324.1h1.6M1273.4 324.1h1.8M1313.3 324.1h1.3M1244.6 324.1h2M483.2 334.9h1.9M568.6 334.9h2.6M602.9 334.9h2.5M610 334.9h2.3M653.3 334.9h2.6M687.2 334.9h2.5M716 334.9h2.6M731.7 334.9h1.5M852.7 334.9h2.7M867.9 334.9h4.1M1244.6 334.9h2M309 345.7h5.3M520.1 345.7h2.4M683.7 345.7h1.8M754.4 345.7h2.8M1207.5 345.7h2.2M1287 345.7h1.9M1244.6 345.7h2M458.3 356.6h2.7M518.1 356.6h1.8M591.1 356.6h1.5M603.4 356.6h1.6M681 356.6h6.3M725.5 356.6h1.8M797.3 356.6h2.1M1178.8 356.6h1.4M1234.3 356.6h2.9M1256.6 356.6h2.5M1244.6 356.6h2M1360.1 356.6h2.6M1368.1 356.6h2.6M1380.6 356.6h3M309.1 367.4h5.2M472.3 367.4h3M503 367.4h2M523.3 367.4h1.6M563.2 367.4h1.6M626.3 367.4h2.1M635.9 367.4h2.5M661.3 367.4h1.5M695.8 367.4h1.7M706.2 367.4h2.2M726.1 367.4h2.3M777.2 367.4h2.3M785.2 367.4h1.7M927.6 367.4h2.5M1072.5 367.4h1.7M1088.5 367.4h2.9M1096.6 367.4h1.6M1120.5 367.4h1.6M1133.8 367.4h2.5M1179.2 367.4h1.4M1190.9 367.4h2.6M1231.3 367.4h2.5M1252 367.4h2.9M1244.6 367.4h2M1396 367.4h2M310 378.2h4.3M396 378.2h3.6M487.3 378.2h2.5M500.9 378.2h1.4M519 378.2h2.9M528.3 378.2h2M593.2 378.2h1.7M732.1 378.2h1.8M757.6 378.2h2.2M808.3 378.2h2.6M836.1 378.2h1.4M870.5 378.2h1.9M890.1 378.2h3M1244.6 378.2h2M1349.8 378.2h3M1372.1 378.2h1.6M451 389.1h5M482.8 389.1h6.8M612.9 389.1h1.7M696 389.1h2.7M780.3 389.1h1.9M801 389.1h2.2M817.2 389.1h2.3M1000 389.1h1.6M1207.8 389.1h2.1M1233.2 389.1h6.5M1244.6 389.1h2M1346.4 389.1h2.4M1357.7 389.1h3M1379 389.1h2M310 399.9h4.3M494 399.9h1.9M617 399.9h1.8M633.1 399.9h1.9M925.3 399.9h2.7M1002.2 399.9h2.9M1112.7 399.9h2.1M1187.7 399.9h2.2M1219.1 399.9h1.7M1258.1 399.9h2.2M1267 399.9h2.8M1244.6 399.9h2M309.1 410.7h4.8M470.9 410.7h1.5M479 410.7h2.5M769.6 410.7h1.5M886.8 410.7h4.8M1076.4 410.7h2.1M1120.7 410.7h1.4M1183.3 410.7h3M1220.9 410.7h1.7M1244.6 410.7h2M1339.4 410.7h3.4M1344.8 410.7h3.4M309.1 421.6h4.4M364.3 421.6h2M409.1 421.6h2.4M615.2 421.6h1.9M697.5 421.6h1.6M733.2 421.6h2.7M782.5 421.6h1.9M828.3 421.6h1.6M857 421.6h1.3M1138.2 421.6h2M1158.8 421.6h2.3M1253.4 421.6h1.6M1244.6 421.6h9.5M1380 421.6h2.2M308.4 432.4h5.1M333.3 432.4h2.9M346.8 432.4h2.4M466.3 432.4h2.9M516.9 432.4h2.4M876.9 432.4h1.6M992.5 432.4h2.9M1063.1 432.4h2.4M1244.6 432.4h5.5M1390 432.4h2M308.4 443.2h5.1M332.5 443.2h3.7M346.8 443.2h2.4M364.3 443.2h2.4M389.6 443.2h2.6M556.4 443.2h1.6M600.4 443.2h1.3M619 443.2h1.5M625.6 443.2h2.7M643.5 443.2h1.3M726.7 443.2h2.1M747.7 443.2h2.6M834.8 443.2h1.8M895.1 443.2h2.2M966.2 443.2h2.8M1103.5 443.2h2.4M1173.5 443.2h2.2M1202.7 443.2h1.7M1244.6 443.2h2M1318.5 443.2h2.8M309.1 454h4.4M625 454h1.6M769.1 454h2.2M854.4 454h2.9M923.7 454h6.4M1113.5 454h1.7M1147.6 454h2.8M1163.5 454h1.9M1244.6 454h2M1365.7 454h2.4M309.1 464.9h4.8M530.8 464.9h2.1M750.5 464.9h2.9M773.6 464.9h2.1M821.3 464.9h1.9M863.9 464.9h1.5M1067.4 464.9h2.8M1244.6 464.9h2M1341.2 464.9h3.6M1379 464.9h1.6M309.1 475.7h5.2M331.3 475.7h3.9M349.4 475.7h3.4M382 475.7h3.6M484.5 475.7h2.2M598.4 475.7h2.9M612 475.7h4.8M626.3 475.7h2.6M633.9 475.7h1.8M686.8 475.7h2M824.5 475.7h1.7M868.5 475.7h3M1006.8 475.7h2.5M1093 475.7h2.1M1133.7 475.7h2.2M1192.1 475.7h2.4M1222.5 475.7h2.3M1252 475.7h1.6M1244.6 475.7h2M1371.7 475.7h2M309.1 486.5h4.8M331.3 486.5h3.9M349.4 486.5h3.4M382 486.5h3.6M582.7 486.5h1.9M608.9 486.5h1.8M671.1 486.5h1.6M714 486.5h2.4M734.9 486.5h1.3M806.2 486.5h2.2M992.2 486.5h2.6M1008.1 486.5h2.9M1174.4 486.5h2.8M1281.8 486.5h2.3M1244.6 486.5h2M1318.5 486.5h3.4M1336.2 486.5h2.6M1373.1 486.5h2M309.1 497.4h5.2M331.3 497.4h3.9M349.4 497.4h3.4M382 497.4h3.6M463.9 497.4h1.3M573.9 497.4h1.9M654.8 497.4h1.3M667.9 497.4h2.7M707.2 497.4h2.7M752.8 497.4h1.6M787.8 497.4h2M880.9 497.4h1.8M1011.5 497.4h1.5M1189.7 497.4h1.5M1234.6 497.4h4.2M1244.6 497.4h2M1350.8 497.4h4.6M308.4 508.2h3.1M388 508.2h2M441.4 508.2h3M453 508.2h3M467.4 508.2h3M484 508.2h1.6M577.5 508.2h6.2M597.3 508.2h2.6M666 508.2h2.2M673.5 508.2h2.7M775.8 508.2h2.6M831.7 508.2h1.8M958.5 508.2h1.7M1021 508.2h2.5M1094.5 508.2h1.4M1170.6 508.2h1.4M1267.1 508.2h2.3M1244.6 508.2h2M1324.9 508.2h4.4M400 519h8.5M420.1 519h2.8M430 519h3M474.7 519h4.6M491.6 519h2.1M580.4 519h2.5M594.4 519h1.4M655.3 519h2.7M683 519h5.9M707.9 519h1.5M749.3 519h1.7M894.2 519h2.2M1141.3 519h1.7M1204.9 519h1.7M1244.6 519h2M1396 519h1.6M308.4 529.9h3.1M431.5 529.9h5.9M444.4 529.9h2M470.5 529.9h2.6M601.1 529.9h2.7M635.5 529.9h1.7M660.2 529.9h1.6M943.2 529.9h2.1M1244.6 529.9h12.5M1365.3 529.9h2.4M308.4 540.7h3.1M499.6 540.7h1.9M540.6 540.7h1.5M622.1 540.7h2.7M686.3 540.7h2.8M834.8 540.7h1.7M860.1 540.7h2.1M932.4 540.7h2.6M1168.8 540.7h1.4M1183.3 540.7h2.7M1190.2 540.7h2.7M1207.5 540.7h1.9M1215.3 540.7h2.5M1225.5 540.7h1.4M1244.6 540.7h12.5M1301.6 540.7h5.4M1350.8 540.7h5.4M1404.1 540.7h1.4M309.1 551.5h6.4M394 551.5h3.2M822 551.5h2.7M939.9 551.5h1.9M1113.7 551.5h2.9M1210.5 551.5h2.9M1252 551.5h2.5M1244.6 551.5h2M310.3 562.3h5.2M499.3 562.3h2.6M507.8 562.3h1.5M519.3 562.3h2.3M577.7 562.3h2.6M777.4 562.3h2.7M847.2 562.3h1.8M933.2 562.3h1.5M972.5 562.3h1.6M1252 562.3h1.8M1244.6 562.3h2M1385 562.3h2M310.3 573.2h5.6M400 573.2h2.6M412.5 573.2h3.6M451.4 573.2h4.6M482 573.2h2.4M507.8 573.2h2M517 573.2h1.3M559.3 573.2h3M568.4 573.2h2.7M583 573.2h2.5M664.2 573.2h2.7M752 573.2h1.5M771.8 573.2h2.5M812 573.2h2M935.4 573.2h1.4M1016.8 573.2h2.4M1226.3 573.2h2.3M1252 573.2h2.3M1281 573.2h2.9M1244.6 573.2h2M1338.8 573.2h5.4M1379 573.2h2M310.3 584h5.6M500.8 584h2.2M651.4 584h1.7M691.4 584h2.6M700.8 584h2.5M749.1 584h2.8M907.6 584h3M1028.2 584h2.5M1131.4 584h1.6M1145.1 584h1.6M1244.6 584h2M409.1 594.8h3M533.8 594.8h1.4M615.3 594.8h1.7M902.7 594.8h1.4M1244.6 594.8h2M1366.3 594.8h2M308.4 605.7h5.1M387.2 605.7h6M463 605.7h2.1M514.3 605.7h2.7M542.1 605.7h6.7M670.9 605.7h2.5M730.4 605.7h1.3M760.1 605.7h2.8M831 605.7h1.7M862.6 605.7h1.6M1014.8 605.7h1.4M1081 605.7h2.5M1118.1 605.7h2.8M1227.7 605.7h2M1255.6 605.7h1.4M1244.6 605.7h2M1355.1 605.7h4.6M1390 605.7h2M375.3 616.5h4.7M550.5 616.5h2.4M568 616.5h1.3M616.8 616.5h2.7M747.4 616.5h2.4M754.5 616.5h2.2M807.1 616.5h2.7M849.4 616.5h2M880.8 616.5h1.5M1145.7 616.5h1.9M1154.1 616.5h3M1163.5 616.5h2.3M1195.7 616.5h2.9M1274.7 616.5h2.7M1244.6 616.5h2M1313.3 616.5h4.6M1355.1 616.5h4M308.4 627.3h5.1M473.1 627.3h2.1M595.4 627.3h1.7M745.5 627.3h2.8M818.7 627.3h2.4M832.4 627.3h2.4M994.6 627.3h1.7M1000.3 627.3h2.5M1185.6 627.3h2.6M1192.4 627.3h1.7M1227.9 627.3h2.4M1235.8 627.3h1.3M1244.6 627.3h2M309 638.1h4.5M374 638.1h2.3M385.2 638.1h2.8M399.6 638.1h6M475.7 638.1h1.6M548.8 638.1h1.8M558.8 638.1h1.9M567.7 638.1h2.6M575.4 638.1h2.7M612.1 638.1h1.8M712.6 638.1h2.2M735.3 638.1h2.4M746.1 638.1h2.9M886.8 638.1h1.3M938.3 638.1h2.1M1017.2 638.1h2.9M1053 638.1h2.1M1098.2 638.1h1.7M1252 638.1h1.4M1277.3 638.1h1.5M1244.6 638.1h2M1290 638.1h2M309 649h4.5M382 649h3.6M393 649h3M463 649h2.6M483.9 649h2.4M538.5 649h1.4M595.1 649h1.9M617.9 649h2.8M625.6 649h2.5M717.3 649h2.9M867.6 649h2.1M1048.7 649h1.8M1164.9 649h1.6M1227.7 649h2.7M1268.8 649h2.2M1244.6 649h2M1322.9 649h5M1397 649h1.6M310.3 659.8h3.6M392 659.8h3M440.4 659.8h4M467 659.8h2.6M578.7 659.8h1.7M679.8 659.8h1.8M717.3 659.8h2.7M731.6 659.8h2.4M1103.1 659.8h1.9M1209.2 659.8h2.9M1274 659.8h2.5M1244.6 659.8h2M1331.2 659.8h2.2M1342.8 659.8h2M1350.8 659.8h4.4M309.5 670.6h4M379.7 670.6h2.3M391 670.6h2.6M431 670.6h2.4M591.2 670.6h1.9M885.3 670.6h2.4M949.6 670.6h1.4M974.2 670.6h2.9M1120.2 670.6h6M1244.6 670.6h2M1300 670.6h7.4M1333.2 670.6h2.2M1337.2 670.6h1.6M1372.1 670.6h2.6M343.4 681.5h2.4M357.4 681.5h3.3M368.1 681.5h3.2M377.3 681.5h3.4M401.6 681.5h3M507.4 681.5h2.9M530 681.5h2.7M636.8 681.5h5.6M649.5 681.5h1.6M669.5 681.5h4.3M848 681.5h1.9M885.6 681.5h1.4M1082.3 681.5h1.7M1140.8 681.5h2.9M1193.3 681.5h2.5M1261.4 681.5h2.3M1244.6 681.5h2M1319.5 681.5h2.4M1350.8 681.5h3M309 692.3h3M335.8 692.3h3M344.8 692.3h2.6M353.4 692.3h2.4M370.3 692.3h2.8M389.6 692.3h2.6M420.1 692.3h4.4M432 692.3h3.4M499.5 692.3h1.6M518.9 692.3h2M588.3 692.3h1.8M709.8 692.3h1.8M727.7 692.3h2.7M811.3 692.3h1.8M821.8 692.3h2.2M930.6 692.3h1.6M1026 692.3h2.2M1129 692.3h1.7M1160.1 692.3h2.6M1275.6 692.3h1.5M1244.6 692.3h2M1367.1 692.3h2M308.4 703.1h3.6M324.5 703.1h4M331.9 703.1h3.3M337.8 703.1h2M342.2 703.1h2.6M353.4 703.1h2M357.4 703.1h3.3M367.3 703.1h2.8M377.3 703.1h2.8M382.3 703.1h3.3M388 703.1h3.6M425.1 703.1h7M553 703.1h1.9M621.5 703.1h1.4M686.6 703.1h2.7M717 703.1h2.5M751.9 703.1h1.5M818.6 703.1h1.7M892.9 703.1h1.6M1244.6 703.1h2M310.3 714h4M390.2 714h3M426.1 714h4.8M438.4 714h2M537.5 714h1.9M653.7 714h1.3M827.4 714h2.7M859.7 714h1.9M895.3 714h2.8M1244.6 714h2M1314.9 714h3M1332.8 714h4M1360.7 714h4" stroke="#fb8072" stroke-width="6.6" fill="none"/>
<path d="M420 42.5h1.5M1120.8 42.5h1.4M469.1 42.5h1.1M515.1 42.5h1.7M715.8 42.5h1.1M724.9 42.5h1.9M766.4 42.5h1.9M813.1 42.5h3.7M864.2 42.5h1.6M1027.9 42.5h2.1M1049.4 42.5h1.7M1169.5 42.5h2.5M1307.2 42.5h1.5M1342.5 42.5h4.7M1349.1 42.5h4.7M316.8 53.3h1.8M378.2 53.3h7.1M420 53.3h1.5M1144.9 53.3h1.7M469.3 53.3h2.4M815.4 53.3h1.8M850.5 53.3h2M862.7 53.3h1.1M920 53.3h1.8M953.9 53.3h1.2M1266.7 53.3h1.3M1328.4 53.3h1.8M1373.3 53.3h1.8M650.7 64.2h1.8M692.1 64.2h2.5M734.8 64.2h2.1M757.5 64.2h2.8M850.4 64.2h2.2M865 64.2h1.7M1253.5 64.2h1.2M1372.7 64.2h1.8M487.8 75h5.5M578.1 75h1.9M596.2 75h2.2M613.9 75h2.1M672.4 75h1.3M690.2 75h1.4M744.3 75h2.4M928.4 75h4.2M998.7 75h2.1M1315.1 75h1.7M319 85.8h14M397.4 85.8h3.4M429.2 85.8h1.8M487.1 85.8h4.1M549.2 85.8h2.2M691.7 85.8h2.2M807.5 85.8h3.5M1005.8 85.8h1.5M1096.3 85.8h1M1111.4 85.8h1.2M1255.1 85.8h1.3M1297.1 85.8h1.4M316.8 96.7h1.8M498.1 96.7h2.8M547.9 96.7h1M572.4 96.7h2.4M588.7 96.7h2M605.8 96.7h1.9M715.6 96.7h2.2M773.7 96.7h2.3M831.2 96.7h2.5M1103.1 96.7h3.4M1117 96.7h1.7M1126.3 96.7h1.7M1132.2 96.7h4.2M1210 96.7h1.7M1277.5 96.7h2M1290.6 96.7h2M1301.4 96.7h1.3M1246.8 96.7h1.4M316.5 107.5h2.1M426.8 107.5h1.2M610.2 107.5h1.7M621.7 107.5h2M683.3 107.5h2.2M721.9 107.5h1.5M756.4 107.5h2.1M763.1 107.5h2.4M772.2 107.5h3.8M897.6 107.5h1.2M1246.8 107.5h1.4M320.4 118.3h2.3M338.7 118.3h5.3M371.6 118.3h6.6M442.6 118.3h2M477 118.3h1.8M544.5 118.3h2.3M595 118.3h1.9M616.7 118.3h2.3M636.3 118.3h1.3M659.3 118.3h2.1M1246.8 118.3h1.4M1333.1 118.3h1.8M1379.8 118.3h1.8M320.4 129.1h1.9M372 129.1h1.8M424.8 129.1h2M551.8 129.1h1.5M824.1 129.1h1.9M1246.8 129.1h1.4M1396.4 129.1h1.8M383.7 140h3M426.8 140h1.4M465.9 140h1.7M496.1 140h1.8M597.3 140h2M649.3 140h1.5M664.8 140h1.8M779.6 140h2.4M857.2 140h2.3M871.1 140h1.5M1371.4 140h1.8M328.3 150.8h3.2M416.5 150.8h2M500.5 150.8h1.8M783.3 150.8h2.1M891.3 150.8h2M1135.7 150.8h1.1M1229.9 150.8h1.9M1351.3 150.8h1.8M1374.8 150.8h1.8M423.1 161.6h1.9M478.8 161.6h2.2M578.9 161.6h1.1M620.5 161.6h2.5M771.2 161.6h1.1M876.7 161.6h1.4M1246.8 161.6h1.4M1328.7 161.6h1.8M1343 161.6h1.8M405.2 172.5h2M414.5 172.5h2M499.6 172.5h1.2M579 172.5h1.3M603.1 172.5h2.2M679.7 172.5h2.5M703.6 172.5h2.1M810.2 172.5h1.3M843.7 172.5h1.6M872.3 172.5h1.7M1035.6 172.5h1M1240.1 172.5h1.7M1254.4 172.5h1.1M1307.2 172.5h1.6M321.9 183.3h3M343.8 183.3h7.6M475.7 183.3h1.3M785.5 183.3h2.2M845.4 183.3h2M881.3 183.3h2M891.9 183.3h1.4M1077.2 183.3h1.2M1309.1 183.3h2.4M1246.8 183.3h1.4M1335 183.3h1.8M1390.8 183.3h1.8M378.7 194.1h4.9M392.6 194.1h4M495.7 194.1h1.9M697 194.1h2M819.1 194.1h2.4M930.6 194.1h1.7M1311 194.1h1.1M445.4 204.9h2M490.1 204.9h2.5M516.7 204.9h3.4M719.7 204.9h2.8M831 204.9h1.1M1171.8 204.9h2M1254.6 204.9h2.3M1246.8 204.9h1.4M1382.5 204.9h1.8M319.9 215.8h5.6M443 215.8h2.4M529.9 215.8h2.4M860.5 215.8h2.5M886.1 215.8h2M911.3 215.8h1.6M1041.1 215.8h1.6M1246.8 215.8h1.4M1334.5 215.8h1.8M1386.1 215.8h1.8M312.9 226.6h4M443 226.6h2.4M502.7 226.6h1.3M544.2 226.6h2.5M561.2 226.6h1.7M585.8 226.6h1.1M636.5 226.6h1.7M710.2 226.6h2.2M904.9 226.6h2M1125.9 226.6h2.3M1220.5 226.6h2M1264.7 226.6h2.2M1306.8 226.6h1.3M311.5 237.4h3.4M324.3 237.4h4.6M498.4 237.4h1.1M527.7 237.4h2.1M630 237.4h1.2M752 237.4h1.4M1252 237.4h2.3M1287.8 237.4h2.2M1314.3 237.4h2M320.9 248.3h5M648.2 248.3h2.1M756.7 248.3h1.1M793 248.3h2.4M797.5 248.3h2.9M846 248.3h2.5M856.8 248.3h2.1M995.8 248.3h2.4M1103.4 248.3h1.7M1222.9 248.3h1.9M451.4 259.1h4M564.7 259.1h1.7M593.9 259.1h1.9M884.8 259.1h1.3M929.1 259.1h2.5M955.7 259.1h1.9M965.8 259.1h1.1M311.5 269.9h5M411.5 269.9h3M501.1 269.9h2M780.8 269.9h2.5M1255.2 269.9h1M1282.3 269.9h3.9M1246.8 269.9h1.4M1384.3 269.9h1.8M421.5 280.8h2M432.4 280.8h2.4M476 280.8h1.1M734.6 280.8h1.3M752.9 280.8h1.8M770.3 280.8h2M878.2 280.8h1M1128.3 280.8h1.7M1180.8 280.8h2.6M1211.7 280.8h1.8M1313.3 280.8h4.1M409.9 291.6h3M436.6 291.6h1.8M516.9 291.6h1.9M570.6 291.6h1.6M669.4 291.6h3.9M689.3 291.6h1.7M1122.3 291.6h2.2M1142.3 291.6h1.7M1190.7 291.6h1.8M1276 291.6h1.4M1330.4 291.6h1.8M1372.5 291.6h1.8M441.8 302.4h2.6M576.5 302.4h2M600.8 302.4h2.3M827.5 302.4h2.5M843.1 302.4h1.4M1227 302.4h2.6M1246.8 302.4h1.4M1358.6 302.4h1.8M1377.1 302.4h1.8M312.9 313.2h5.4M319.5 313.2h1.4M435.4 313.2h1.6M450.4 313.2h2M461.4 313.2h2M479.5 313.2h2.5M573.4 313.2h1.4M616.1 313.2h1.7M732.3 313.2h1.6M929.4 313.2h2M1224.7 313.2h3.9M427.5 324.1h1.5M463.1 324.1h1.9M697.6 324.1h2.5M734.5 324.1h2.5M805.1 324.1h1.2M822.8 324.1h1.1M895.8 324.1h3.3M1202.4 324.1h1.9M1275.4 324.1h1.8M1246.8 324.1h1.4M469.7 334.9h3.7M485.3 334.9h2.4M605.6 334.9h2.4M656.1 334.9h1.6M690 334.9h1.9M718.8 334.9h1.7M733.4 334.9h1.1M872.3 334.9h1.8M314.9 345.7h3M522.6 345.7h1.8M1190.1 345.7h2.8M1209.9 345.7h1.3M1289.1 345.7h1.1M1246.8 345.7h1.4M461.2 356.6h1.3M520 356.6h2.6M687.5 356.6h2.1M799.6 356.6h2.4M872 356.6h2.8M1205.7 356.6h3.9M1259.3 356.6h2.4M1246.8 356.6h1.4M475.5 367.4h1.2M505.2 367.4h2.3M525.1 367.4h1.1M564.9 367.4h1.4M648 367.4h3M663 367.4h2.4M697.7 367.4h2.4M728.5 367.4h1.1M737.7 367.4h2.5M779.7 367.4h1.5M787.1 367.4h1.5M807 367.4h3.8M881.9 367.4h1.9M930.2 367.4h1.7M1074.4 367.4h2M1091.6 367.4h1.1M1098.4 367.4h1.1M1122.3 367.4h2.1M1136.5 367.4h2.3M1180.8 367.4h1.1M1234 367.4h2.3M1345.8 367.4h5.6M399.6 378.2h2.4M490 378.2h2.5M522.2 378.2h1.4M530.5 378.2h1.2M595.1 378.2h1.7M734.2 378.2h1.9M760 378.2h2.1M811.1 378.2h1.5M837.7 378.2h2.1M872.5 378.2h1.3M893.3 378.2h2.1M1246.8 378.2h1.4M1334.8 378.2h3M489.8 389.1h2M614.9 389.1h1M682.6 389.1h2.4M698.9 389.1h2.3M874.8 389.1h4.3M1001.8 389.1h1.1M1210.1 389.1h1.1M1246.8 389.1h1.4M318.3 399.9h6.6M496.1 399.9h2.3M619 399.9h1.6M756.2 399.9h4.4M928.2 399.9h2M1005.4 399.9h1.5M1092.5 399.9h1.6M1115 399.9h1.6M1190.1 399.9h1.2M1201 399.9h3.1M1210.9 399.9h2.3M1221.1 399.9h1.4M1260.5 399.9h1.7M1269.9 399.9h2.2M1365.3 399.9h3.4M1392 399.9h2M322.9 410.7h4M472.6 410.7h1.6M481.7 410.7h1.2M493.5 410.7h1.8M771.3 410.7h1.6M891.8 410.7h1.8M1078.8 410.7h1.6M1122.3 410.7h1.6M1381 410.7h2.2M366.7 421.6h2M411.9 421.6h2M617.3 421.6h2.4M699.3 421.6h1.6M830.1 421.6h1.9M858.5 421.6h1M1161.3 421.6h2.5M1255.3 421.6h1.2M1254.3 421.6h1.4M1357.7 421.6h2M313.9 432.4h2M336.6 432.4h2M349.4 432.4h2M469.5 432.4h2.4M489 432.4h3.6M559.7 432.4h3.9M878.8 432.4h1.6M995.6 432.4h2.2M1065.7 432.4h1.3M1250.3 432.4h1.4M1381 432.4h3M313.9 443.2h1.6M336.6 443.2h2M349.4 443.2h1.6M392.6 443.2h2M558.2 443.2h2.2M601.9 443.2h2.4M620.7 443.2h1.2M628.5 443.2h1M645 443.2h1.5M738.2 443.2h3.9M750.5 443.2h2.5M836.8 443.2h1.7M888.3 443.2h2M897.5 443.2h1.6M1106.1 443.2h1.1M1176 443.2h1.6M1204.6 443.2h2.3M1326.9 443.2h3M1336.8 443.2h3M1360.7 443.2h3.4M614.4 454h3.4M626.8 454h2M684.7 454h4.1M771.5 454h1.7M857.5 454h1.3M1150.6 454h2.1M1165.5 454h2.4M1259.8 454h2.3M1246.8 454h1.4M1307.9 454h7M1333.8 454h5M383 464.9h3.6M483.2 464.9h2M543.8 464.9h2.6M605.7 464.9h2M753.6 464.9h1.8M775.9 464.9h2M823.3 464.9h1.3M865.6 464.9h2.1M1070.4 464.9h2.5M1246.8 464.9h1.4M314.5 475.7h2M335.4 475.7h1.6M353.2 475.7h1.8M385.8 475.7h1.4M486.9 475.7h2.3M629.1 475.7h1.5M635.8 475.7h2.6M689 475.7h1.2M740.8 475.7h3.9M871.7 475.7h1.1M1009.5 475.7h2.1M1095.2 475.7h2M1180.7 475.7h2.6M1204.8 475.7h4.1M1225 475.7h2.2M1253.8 475.7h1.2M1359.7 475.7h4.4M335.4 486.5h1.6M353.2 486.5h1.8M385.8 486.5h1.4M518 486.5h2.5M548 486.5h2.8M584.9 486.5h1.8M610.9 486.5h1.2M672.9 486.5h1.2M736.4 486.5h1.5M784.4 486.5h2.3M808.6 486.5h1.2M995 486.5h1.6M1011.3 486.5h1.4M1076.4 486.5h1.9M1177.3 486.5h1.6M1205.1 486.5h3.4M1284.3 486.5h1.7M1246.8 486.5h1.4M1301.4 486.5h5.6M314.5 497.4h3.4M335.4 497.4h1.6M353.2 497.4h1.8M385.8 497.4h1.4M465.4 497.4h1.9M575.9 497.4h1.1M670.8 497.4h2.4M710.2 497.4h1.1M754.6 497.4h1.9M790 497.4h1.6M882.9 497.4h1.7M1013.2 497.4h2.5M1191.5 497.4h1.7M1246.8 497.4h1.4M444.4 508.2h1.4M470.5 508.2h2.2M485.8 508.2h1.2M583.8 508.2h1.3M600.1 508.2h1.3M668.4 508.2h1.1M676.4 508.2h1.7M764.6 508.2h1.9M833.7 508.2h1.3M960.4 508.2h1.2M1023.7 508.2h1.3M1096.1 508.2h1.3M1172.3 508.2h2.3M1252 508.2h2.1M1269.6 508.2h1.8M1368.7 508.2h3.4M310.9 519h4M409.1 519h2M424.1 519h1.8M433.4 519h1.6M479.5 519h1.5M493.9 519h1.2M583.2 519h1.2M596 519h1.7M658.2 519h2.2M709.6 519h1.4M751.2 519h1.4M1143.2 519h1.1M1206.8 519h1.3M1246.8 519h1.4M1338.8 519h9.4M1394 519h1.2M437.8 529.9h2M446.8 529.9h3M473.3 529.9h1.4M606.3 529.9h2.7M637.4 529.9h1.2M662 529.9h2.6M320.9 540.7h4M326.3 540.7h4M391.2 540.7h1.6M490.5 540.7h3.9M625 540.7h1.7M716.3 540.7h1.8M836.7 540.7h1.3M862.4 540.7h2.1M1186.2 540.7h1.8M1193.1 540.7h1.7M1209.6 540.7h1.5M1218 540.7h2.3M1227.1 540.7h1.4M1257.3 540.7h1.4M1307.3 540.7h4.2M398 551.5h2M512.7 551.5h2.7M557.6 551.5h3M824.9 551.5h1M838.9 551.5h2.9M942 551.5h2.4M1116.7 551.5h1.1M1213.6 551.5h2M1254.7 551.5h1.6M1341.2 551.5h3.6M502 562.3h2.2M521.7 562.3h2.2M580.5 562.3h1.7M780.3 562.3h2.5M849.2 562.3h2.3M974.3 562.3h1.5M1104.7 562.3h2.9M1188.1 562.3h2.7M1254 562.3h1.2M403.6 573.2h1.4M416.5 573.2h1.6M465.1 573.2h1.6M484.7 573.2h1.1M518.5 573.2h1.5M571.3 573.2h2.5M585.7 573.2h1.6M667.1 573.2h1.5M753.7 573.2h2.5M774.5 573.2h1M814.3 573.2h2.3M864.6 573.2h1.9M909.4 573.2h2.2M1019.4 573.2h2.4M1228.8 573.2h2.4M1254.5 573.2h1M1284.1 573.2h2.2M503.2 584h1.5M694.3 584h1.7M703.5 584h1.8M910.8 584h1.2M1030.9 584h1.3M1133.3 584h1.7M1146.9 584h2.1M323.3 594.8h4.2M328.5 594.8h3.4M412.9 594.8h4M535.4 594.8h2.4M617.2 594.8h2M904.2 594.8h2.4M1246.8 594.8h1.4M1318.3 594.8h2.6M314.3 605.7h3.2M393.6 605.7h2.6M517.2 605.7h1.9M549 605.7h2.5M731.9 605.7h1.6M735.6 605.7h3.9M763.1 605.7h1.5M795.6 605.7h3M832.9 605.7h1.2M864.4 605.7h2M1016.4 605.7h1.8M1083.7 605.7h2.1M1121.1 605.7h1.4M1246.8 605.7h1.4M1368.1 605.7h2M323.3 616.5h4.6M380.3 616.5h2.4M553.1 616.5h2.5M569.5 616.5h2.6M619.6 616.5h1.2M676.2 616.5h4.2M682.5 616.5h3.2M757 616.5h1M810 616.5h1.2M1157.3 616.5h1.1M1166.1 616.5h1.7M1268.2 616.5h3.7M1285 616.5h2.8M1246.8 616.5h1.4M1338.2 616.5h4.6M1387 616.5h4.6M313.9 627.3h3M475.4 627.3h2.5M535 627.3h4.5M597.3 627.3h1.4M684.3 627.3h2.5M748.5 627.3h1.2M821.3 627.3h2.5M857 627.3h3.6M1003.1 627.3h1.7M1188.4 627.3h1.4M1230.5 627.3h1.5M1237.3 627.3h1.2M1320.9 627.3h4.6M1326.9 627.3h4M313.9 638.1h2M353.8 638.1h2M376.7 638.1h2M388.6 638.1h2M406 638.1h3.5M550.8 638.1h2.3M560.9 638.1h2.4M570.6 638.1h1.4M578.3 638.1h1.1M715.1 638.1h2.2M749.2 638.1h2.4M804 638.1h2.2M888.3 638.1h1.6M940.6 638.1h1.8M1020.3 638.1h1.1M1055.2 638.1h1.1M1253.6 638.1h1.8M1279 638.1h2.5M1342.8 638.1h3.4M313.9 649h3M386 649h2M396.4 649h2.4M465.9 649h1.8M620.9 649h2.1M720.4 649h1M1050.7 649h2.6M1166.7 649h1.9M1271.2 649h1.9M1346.2 649h3.6M1374.1 649h3M395.2 659.8h2M444.8 659.8h2M469.8 659.8h1.1M580.7 659.8h1.2M674.9 659.8h1.8M720.3 659.8h1.8M1276.7 659.8h2.5M1362.5 659.8h4.2M318.9 670.6h4M348.2 670.6h2.6M382.4 670.6h1.6M394 670.6h1.6M433.8 670.6h5M449 670.6h3.4M800.9 670.6h2.2M888 670.6h1.4M951.2 670.6h1.7M977.3 670.6h2.1M1126.4 670.6h1.6M1353.7 670.6h5M1375.1 670.6h2.6M361.1 681.5h1.6M371.7 681.5h2M381.1 681.5h2M405 681.5h2M642.6 681.5h1.4M651.2 681.5h1.4M850.1 681.5h1.7M887.2 681.5h1.1M1084.3 681.5h1.5M1143.9 681.5h1.2M1263.9 681.5h2.3M1246.8 681.5h1.4M1338.8 681.5h3M1355.7 681.5h3M321.5 692.3h1.6M339.4 692.3h1.4M356.2 692.3h1.6M373.7 692.3h1.6M392.6 692.3h2.4M424.9 692.3h1.6M435.8 692.3h1.6M501.4 692.3h2M521.1 692.3h1M590.3 692.3h2M711.9 692.3h1.3M813.4 692.3h2M932.4 692.3h1.8M1028.4 692.3h1.1M1130.9 692.3h1.5M1162.9 692.3h2.5M1277.3 692.3h1.4M1246.8 692.3h1.4M1327.5 692.3h2.8M328.9 703.1h1.4M335.6 703.1h1.6M340.2 703.1h1.2M345.2 703.1h1.6M370.5 703.1h1.6M392 703.1h2M555.1 703.1h2.1M623.1 703.1h1.8M689.5 703.1h1.4M894.8 703.1h2.5M1033.2 703.1h3M1291 703.1h2.6M393.6 714h2M440.8 714h2M539.6 714h2.3M655.2 714h2.4M830.4 714h1.6M861.8 714h2.5M898.3 714h2.5M1318.3 714h1.6M1355.7 714h4M1370.7 714h3" stroke="#bebada" stroke-width="6.6" fill="none"/>
<path d="M854.3 172.5h1.5M429 324.1h1M1278.8 399.9h1.4M890.3 421.6h0.8M482.4 443.2h1.4M685.5 464.9h1M1278.8 519h1.1M519.3 529.9h0.8M1368.1 529.9h1M1311.9 540.7h1.2M1075.4 562.3h1.6M636.6 584h1.2M1358.3 638.1h1.4M1003.7 649h1.3M668.2 659.8h1.4M877.9 659.8h1M347.8 681.5h1M1282 692.3h1.5M1330.8 692.3h1.4M321.9 703.1h2M432.3 703.1h0.8M1263.4 714h1.4" stroke="#ffffb3" stroke-width="6.6" fill="none"/>
<path d="M838.5 42.5h0.9M1115.6 85.8h1.1M852 269.9h1.5M918.4 269.9h1M890 280.8h1.5M919.9 302.4h0.8M942.7 313.2h0.8M471.6 421.6h1.4M1192.1 454h1.4M1187 475.7h1M1167.9 486.5h1.5M311.5 508.2h0.8M311.5 529.9h0.8M450.4 529.9h2M1395.2 529.9h1.4M1261.3 627.3h1.4M646.5 649h1.5M398.6 659.8h0.8M600.7 670.6h1.2M431.1 714h0.8M523.7 714h1.3" stroke="#fdb462" stroke-width="6.6" fill="none"/>
<path d="M308 519h2.3" stroke="#b3de69" stroke-width="6.6" fill="none"/>
<path d="M417.2 42.5h2.8M1118.8 42.5h2M467.5 42.5h1.4M512.9 42.5h2M620 42.5h1.7M673.4 42.5h3M698.2 42.5h1.5M713.2 42.5h2.4M722.2 42.5h2.5M763.5 42.5h2.7M851.8 42.5h2.9M861.3 42.5h2.6M1026.3 42.5h1.4M1047.4 42.5h1.8M1304.7 42.5h2.3M1244.6 42.5h2M1392 42.5h1.9M309 53.3h7.8M417.9 53.3h2.1M1142 53.3h2.6M466.7 53.3h2.3M640 53.3h2.6M813 53.3h2.3M847.4 53.3h3M860.3 53.3h2.2M917.4 53.3h2.4M950.7 53.3h3M1264.4 53.3h2.1M1244.6 53.3h2M1325.8 53.3h2.3M1370.8 53.3h2.2M476.8 64.2h2.5M535.1 64.2h2.3M647.6 64.2h3M689 64.2h3M731.9 64.2h2.7M847.3 64.2h2.9M861.9 64.2h3M1227.8 64.2h2.3M1252 64.2h1.3M1244.6 64.2h2M1369.2 64.2h3.4M477.9 75h3.1M485.3 75h2.5M593.3 75h2.8M611.4 75h2.4M669.6 75h2.6M678.5 75h2.1M687 75h3M742 75h2.2M996.5 75h2M1155.6 75h1.8M1313 75h1.9M1244.6 75h2M1327.9 75h3.3M309.7 85.8h9.3M361.5 85.8h16.7M389.2 85.8h8.2M427.2 85.8h2M484.4 85.8h2.7M537.2 85.8h2.2M689.8 85.8h1.8M1003.4 85.8h2.2M1094.5 85.8h1.6M1108.8 85.8h2.3M1220.2 85.8h2.5M1252 85.8h2.9M1289 85.8h1.8M1294.7 85.8h2.2M1244.6 85.8h2M308.3 96.7h8M505.2 96.7h1.9M546.4 96.7h1.4M569.2 96.7h3M586.6 96.7h1.9M604.2 96.7h1.5M630 96.7h2.4M712.6 96.7h2.8M771.7 96.7h1.8M829 96.7h2M892.5 96.7h6.1M1114.4 96.7h2.4M1123.9 96.7h2.2M1141.5 96.7h2.6M1207.2 96.7h2.6M1274.4 96.7h2.8M1288.5 96.7h1.9M1299 96.7h2.1M1244.6 96.7h2M1344.7 96.7h2.5M308 107.5h8.3M424 107.5h2.8M619.7 107.5h1.7M645.6 107.5h1.9M680.2 107.5h2.9M720.2 107.5h1.5M761.2 107.5h1.7M896 107.5h1.4M1244.6 107.5h2M309.7 118.3h10.7M333.3 118.3h5.2M368.6 118.3h2.7M439.2 118.3h3.1M474.4 118.3h2.4M541.9 118.3h2.4M593 118.3h1.9M614.2 118.3h2.2M633.3 118.3h2.8M656.9 118.3h2.1M705 118.3h2.7M736.6 118.3h2M931.8 118.3h2M1244.6 118.3h2M1329 118.3h3.9M1356.8 118.3h2.2M1375.4 118.3h4.2M309 129.1h11M331.2 129.1h4.5M366.1 129.1h5.2M422 129.1h2.5M549.5 129.1h2M822.2 129.1h1.7M1244.6 129.1h2M1350.3 129.1h2.4M1392.3 129.1h3.9M380.2 140h3.2M424 140h2.4M464 140h1.6M584.4 140h2.8M594.2 140h2.9M647.5 140h1.6M663 140h1.6M722.9 140h2.5M778 140h1.4M855 140h1.9M869.2 140h1.6M1244.6 140h2M1368.1 140h3.1M324.9 150.8h2.6M403.6 150.8h2.4M413.5 150.8h3M490.1 150.8h2.3M618.5 150.8h2.6M776.3 150.8h6.8M802.1 150.8h2.8M889.2 150.8h2M1133.9 150.8h1.6M1209.8 150.8h2M1227.7 150.8h2.1M1244.6 150.8h2M1348.6 150.8h2.5M1370.2 150.8h4.4M419.9 161.6h3.2M476.5 161.6h2.2M576.4 161.6h2.4M617.3 161.6h3M769 161.6h2M776.9 161.6h2.1M874.3 161.6h2.2M1244.6 161.6h2M1325.9 161.6h2.7M1338.5 161.6h4.3M1348.8 161.6h3.3M1360.7 161.6h2M401.2 172.5h3.4M411.5 172.5h2.4M496.8 172.5h2.6M576.5 172.5h2.3M601.3 172.5h1.6M677.7 172.5h1.8M701 172.5h2.4M807.2 172.5h2.8M842.1 172.5h1.4M859.7 172.5h2.6M869.9 172.5h2.2M1033 172.5h2.4M1212 172.5h1.7M1237.7 172.5h2.1M1252 172.5h2.2M1304.9 172.5h2.2M1244.6 172.5h2M309 183.3h12.5M337.2 183.3h6.2M473.7 183.3h1.8M620.6 183.3h2.8M631.7 183.3h2.4M677.8 183.3h2.8M733.7 183.3h2.7M782.7 183.3h2.6M792 183.3h1.7M841.1 183.3h4.1M878.3 183.3h2.8M889.8 183.3h1.9M1075.4 183.3h1.6M1307.3 183.3h1.6M1244.6 183.3h2M1330.3 183.3h4.5M1361.1 183.3h4M1386.6 183.3h4M372.7 194.1h5.6M388 194.1h4M494.1 194.1h1.4M695.2 194.1h1.6M817.1 194.1h1.8M929.1 194.1h1.3M1309.1 194.1h1.7M1244.6 194.1h2M309 204.9h2.5M441 204.9h4M617.8 204.9h3M829 204.9h1.8M1029.8 204.9h1.3M1170.2 204.9h1.3M1253 204.9h1.4M1244.6 204.9h2M1379.6 204.9h2.7M310 215.8h3.5M439 215.8h3.4M451.4 215.8h4M527.9 215.8h1.8M587.6 215.8h2M615.2 215.8h2.2M624.7 215.8h4.6M843 215.8h2.1M858.5 215.8h1.9M883.4 215.8h2.5M908.6 215.8h2.5M1028.6 215.8h2.8M1039.1 215.8h1.7M1244.6 215.8h2M1331.7 215.8h2.5M1382 215.8h3.9M309.1 226.6h3.2M439 226.6h3.4M451.4 226.6h4M482.1 226.6h1.8M500.8 226.6h1.7M541 226.6h3M558 226.6h3M584.1 226.6h1.5M633.8 226.6h2.5M653.6 226.6h2M707.4 226.6h2.6M902.2 226.6h2.5M1123.3 226.6h2.4M1218.5 226.6h1.7M1261.6 226.6h2.9M1303.7 226.6h3M1244.6 226.6h8M1346.5 226.6h4.1M496.7 237.4h1.5M526.2 237.4h1.3M565.3 237.4h1.7M627.2 237.4h2.7M749.4 237.4h2.4M1012.9 237.4h2.4M1213.4 237.4h2.2M1285.6 237.4h2M1312.3 237.4h1.8M1244.6 237.4h2M567.2 248.3h2.6M710.4 248.3h2.6M754.8 248.3h1.7M790.6 248.3h2.1M843.1 248.3h2.7M854.2 248.3h2.4M992.7 248.3h3M1006.9 248.3h2.4M1101 248.3h2.2M1150.1 248.3h2.7M1175.2 248.3h1.8M1220.8 248.3h1.9M1266.3 248.3h1.4M1300.7 248.3h4.6M1244.6 248.3h10M1372 248.3h4.4M1385.4 248.3h2.6M446.4 259.1h4.6M562.3 259.1h2.3M591.3 259.1h2.4M600 259.1h2.7M640.4 259.1h2M882.6 259.1h2M927.6 259.1h1.3M963.9 259.1h1.7M1244.6 259.1h2M1391.8 259.1h2.1M406.2 269.9h4.9M499.4 269.9h1.5M576.1 269.9h2M690 269.9h1.8M1252.2 269.9h2.8M1275.5 269.9h2.3M1244.6 269.9h2M1347.3 269.9h4.4M1380.2 269.9h3.8M309.1 280.8h7.4M417.9 280.8h3.2M429 280.8h2.9M473.2 280.8h2.6M586.7 280.8h1.7M732.3 280.8h2.1M750.8 280.8h1.9M767.1 280.8h3M875.6 280.8h2.3M1125.3 280.8h2.9M1179.1 280.8h1.5M1210.1 280.8h1.4M1244.6 280.8h2M309.1 291.6h7.4M434 291.6h2.4M512.1 291.6h4.6M568.3 291.6h2.1M613.1 291.6h2.7M772 291.6h2.6M989.7 291.6h1.3M1120.6 291.6h1.5M1139.3 291.6h2.8M1164.4 291.6h2.3M1188.4 291.6h2.1M1259.6 291.6h2.9M1272.8 291.6h3M1297 291.6h2M1244.6 291.6h2M1325.9 291.6h4.3M1356.6 291.6h4.4M1368 291.6h4.3M439 302.4h2.4M574.7 302.4h1.6M599.3 302.4h1.3M825.4 302.4h1.9M840.3 302.4h2.6M1244.6 302.4h2M1355.5 302.4h2.9M1372.8 302.4h4.1M432.5 313.2h2.5M447.4 313.2h2.4M459.7 313.2h1.5M477.1 313.2h2.2M570.4 313.2h2.7M614.5 313.2h1.5M676.6 313.2h1.5M730.4 313.2h1.7M926.8 313.2h2.4M1052.3 313.2h1.9M1244.6 313.2h2M424 324.1h3.5M461.1 324.1h1.8M695.6 324.1h1.7M731.9 324.1h2.4M802.8 324.1h2.1M820.6 324.1h2M1200.5 324.1h1.6M1273.4 324.1h1.8M1313.3 324.1h1.3M1244.6 324.1h2M483.2 334.9h1.9M568.6 334.9h2.6M602.9 334.9h2.5M610 334.9h2.3M653.3 334.9h2.6M687.2 334.9h2.5M716 334.9h2.6M731.7 334.9h1.5M852.7 334.9h2.7M867.9 334.9h4.1M1244.6 334.9h2M309 345.7h5.3M520.1 345.7h2.4M683.7 345.7h1.8M754.4 345.7h2.8M1207.5 345.7h2.2M1287 345.7h1.9M1244.6 345.7h2M458.3 356.6h2.7M518.1 356.6h1.8M591.1 356.6h1.5M603.4 356.6h1.6M681 356.6h6.3M725.5 356.6h1.8M797.3 356.6h2.1M1178.8 356.6h1.4M1234.3 356.6h2.9M1256.6 356.6h2.5M1244.6 356.6h2M1360.1 356.6h2.6M1368.1 356.6h2.6M1380.6 356.6h3M309.1 367.4h5.2M472.3 367.4h3M503 367.4h2M523.3 367.4h1.6M563.2 367.4h1.6M626.3 367.4h2.1M635.9 367.4h2.5M661.3 367.4h1.5M695.8 367.4h1.7M706.2 367.4h2.2M726.1 367.4h2.3M777.2 367.4h2.3M785.2 367.4h1.7M927.6 367.4h2.5M1072.5 367.4h1.7M1088.5 367.4h2.9M1096.6 367.4h1.6M1120.5 367.4h1.6M1133.8 367.4h2.5M1179.2 367.4h1.4M1190.9 367.4h2.6M1231.3 367.4h2.5M1252 367.4h2.9M1244.6 367.4h2M1396 367.4h2M310 378.2h4.3M396 378.2h3.6M487.3 378.2h2.5M500.9 378.2h1.4M519 378.2h2.9M528.3 378.2h2M593.2 378.2h1.7M732.1 378.2h1.8M757.6 378.2h2.2M808.3 378.2h2.6M836.1 378.2h1.4M870.5 378.2h1.9M890.1 378.2h3M1244.6 378.2h2M1349.8 378.2h3M1372.1 378.2h1.6M451 389.1h5M482.8 389.1h6.8M612.9 389.1h1.7M696 389.1h2.7M780.3 389.1h1.9M801 389.1h2.2M817.2 389.1h2.3M1000 389.1h1.6M1207.8 389.1h2.1M1233.2 389.1h6.5M1244.6 389.1h2M1346.4 389.1h2.4M1357.7 389.1h3M1379 389.1h2M310 399.9h4.3M494 399.9h1.9M617 399.9h1.8M633.1 399.9h1.9M925.3 399.9h2.7M1002.2 399.9h2.9M1112.7 399.9h2.1M1187.7 399.9h2.2M1219.1 399.9h1.7M1258.1 399.9h2.2M1267 399.9h2.8M1244.6 399.9h2M309.1 410.7h4.8M470.9 410.7h1.5M479 410.7h2.5M769.6 410.7h1.5M886.8 410.7h4.8M1076.4 410.7h2.1M1120.7 410.7h1.4M1183.3 410.7h3M1220.9 410.7h1.7M1244.6 410.7h2M1339.4 410.7h3.4M1344.8 410.7h3.4M309.1 421.6h4.4M364.3 421.6h2M409.1 421.6h2.4M615.2 421.6h1.9M697.5 421.6h1.6M733.2 421.6h2.7M782.5 421.6h1.9M828.3 421.6h1.6M857 421.6h1.3M1138.2 421.6h2M1158.8 421.6h2.3M1253.4 421.6h1.6M1244.6 421.6h9.5M1380 421.6h2.2M308.4 432.4h5.1M333.3 432.4h2.9M346.8 432.4h2.4M466.3 432.4h2.9M516.9 432.4h2.4M876.9 432.4h1.6M992.5 432.4h2.9M1063.1 432.4h2.4M1244.6 432.4h5.5M1390 432.4h2M308.4 443.2h5.1M332.5 443.2h3.7M346.8 443.2h2.4M364.3 443.2h2.4M389.6 443.2h2.6M556.4 443.2h1.6M600.4 443.2h1.3M619 443.2h1.5M625.6 443.2h2.7M643.5 443.2h1.3M726.7 443.2h2.1M747.7 443.2h2.6M834.8 443.2h1.8M895.1 443.2h2.2M966.2 443.2h2.8M1103.5 443.2h2.4M1173.5 443.2h2.2M1202.7 443.2h1.7M1244.6 443.2h2M1318.5 443.2h2.8M309.1 454h4.4M625 454h1.6M769.1 454h2.2M854.4 454h2.9M923.7 454h6.4M1113.5 454h1.7M1147.6 454h2.8M1163.5 454h1.9M1244.6 454h2M1365.7 454h2.4M309.1 464.9h4.8M530.8 464.9h2.1M750.5 464.9h2.9M773.6 464.9h2.1M821.3 464.9h1.9M863.9 464.9h1.5M1067.4 464.9h2.8M1244.6 464.9h2M1341.2 464.9h3.6M1379 464.9h1.6M309.1 475.7h5.2M331.3 475.7h3.9M349.4 475.7h3.4M382 475.7h3.6M484.5 475.7h2.2M598.4 475.7h2.9M612 475.7h4.8M626.3 475.7h2.6M633.9 475.7h1.8M686.8 475.7h2M824.5 475.7h1.7M868.5 475.7h3M1006.8 475.7h2.5M1093 475.7h2.1M1133.7 475.7h2.2M1192.1 475.7h2.4M1222.5 475.7h2.3M1252 475.7h1.6M1244.6 475.7h2M1371.7 475.7h2M309.1 486.5h4.8M331.3 486.5h3.9M349.4 486.5h3.4M382 486.5h3.6M582.7 486.5h1.9M608.9 486.5h1.8M671.1 486.5h1.6M714 486.5h2.4M734.9 486.5h1.3M806.2 486.5h2.2M992.2 486.5h2.6M1008.1 486.5h2.9M1174.4 486.5h2.8M1281.8 486.5h2.3M1244.6 486.5h2M1318.5 486.5h3.4M1336.2 486.5h2.6M1373.1 486.5h2M309.1 497.4h5.2M331.3 497.4h3.9M349.4 497.4h3.4M382 497.4h3.6M463.9 497.4h1.3M573.9 497.4h1.9M654.8 497.4h1.3M667.9 497.4h2.7M707.2 497.4h2.7M752.8 497.4h1.6M787.8 497.4h2M880.9 497.4h1.8M1011.5 497.4h1.5M1189.7 497.4h1.5M1234.6 497.4h4.2M1244.6 497.4h2M1350.8 497.4h4.6M308.4 508.2h3.1M388 508.2h2M441.4 508.2h3M453 508.2h3M467.4 508.2h3M484 508.2h1.6M577.5 508.2h6.2M597.3 508.2h2.6M666 508.2h2.2M673.5 508.2h2.7M775.8 508.2h2.6M831.7 508.2h1.8M958.5 508.2h1.7M1021 508.2h2.5M1094.5 508.2h1.4M1170.6 508.2h1.4M1267.1 508.2h2.3M1244.6 508.2h2M1324.9 508.2h4.4M400 519h8.5M420.1 519h2.8M430 519h3M474.7 519h4.6M491.6 519h2.1M580.4 519h2.5M594.4 519h1.4M655.3 519h2.7M683 519h5.9M707.9 519h1.5M749.3 519h1.7M894.2 519h2.2M1141.3 519h1.7M1204.9 519h1.7M1244.6 519h2M1396 519h1.6M308.4 529.9h3.1M431.5 529.9h5.9M444.4 529.9h2M470.5 529.9h2.6M601.1 529.9h2.7M635.5 529.9h1.7M660.2 529.9h1.6M943.2 529.9h2.1M1244.6 529.9h12.5M1365.3 529.9h2.4M308.4 540.7h3.1M499.6 540.7h1.9M540.6 540.7h1.5M622.1 540.7h2.7M686.3 540.7h2.8M834.8 540.7h1.7M860.1 540.7h2.1M932.4 540.7h2.6M1168.8 540.7h1.4M1183.3 540.7h2.7M1190.2 540.7h2.7M1207.5 540.7h1.9M1215.3 540.7h2.5M1225.5 540.7h1.4M1244.6 540.7h12.5M1301.6 540.7h5.4M1350.8 540.7h5.4M1404.1 540.7h1.4M309.1 551.5h6.4M394 551.5h3.2M822 551.5h2.7M939.9 551.5h1.9M1113.7 551.5h2.9M1210.5 551.5h2.9M1252 551.5h2.5M1244.6 551.5h2M310.3 562.3h5.2M499.3 562.3h2.6M507.8 562.3h1.5M519.3 562.3h2.3M577.7 562.3h2.6M777.4 562.3h2.7M847.2 562.3h1.8M933.2 562.3h1.5M972.5 562.3h1.6M1252 562.3h1.8M1244.6 562.3h2M1385 562.3h2M310.3 573.2h5.6M400 573.2h2.6M412.5 573.2h3.6M451.4 573.2h4.6M482 573.2h2.4M507.8 573.2h2M517 573.2h1.3M559.3 573.2h3M568.4 573.2h2.7M583 573.2h2.5M664.2 573.2h2.7M752 573.2h1.5M771.8 573.2h2.5M812 573.2h2M935.4 573.2h1.4M1016.8 573.2h2.4M1226.3 573.2h2.3M1252 573.2h2.3M1281 573.2h2.9M1244.6 573.2h2M1338.8 573.2h5.4M1379 573.2h2M310.3 584h5.6M500.8 584h2.2M651.4 584h1.7M691.4 584h2.6M700.8 584h2.5M749.1 584h2.8M907.6 584h3M1028.2 584h2.5M1131.4 584h1.6M1145.1 584h1.6M1244.6 584h2M409.1 594.8h3M533.8 594.8h1.4M615.3 594.8h1.7M902.7 594.8h1.4M1244.6 594.8h2M1366.3 594.8h2M308.4 605.7h5.1M387.2 605.7h6M463 605.7h2.1M514.3 605.7h2.7M542.1 605.7h6.7M670.9 605.7h2.5M730.4 605.7h1.3M760.1 605.7h2.8M831 605.7h1.7M862.6 605.7h1.6M1014.8 605.7h1.4M1081 605.7h2.5M1118.1 605.7h2.8M1227.7 605.7h2M1255.6 605.7h1.4M1244.6 605.7h2M1355.1 605.7h4.6M1390 605.7h2M375.3 616.5h4.7M550.5 616.5h2.4M568 616.5h1.3M616.8 616.5h2.7M747.4 616.5h2.4M754.5 616.5h2.2M807.1 616.5h2.7M849.4 616.5h2M880.8 616.5h1.5M1145.7 616.5h1.9M1154.1 616.5h3M1163.5 616.5h2.3M1195.7 616.5h2.9M1274.7 616.5h2.7M1244.6 616.5h2M1313.3 616.5h4.6M1355.1 616.5h4M308.4 627.3h5.1M473.1 627.3h2.1M595.4 627.3h1.7M745.5 627.3h2.8M818.7 627.3h2.4M832.4 627.3h2.4M994.6 627.3h1.7M1000.3 627.3h2.5M1185.6 627.3h2.6M1192.4 627.3h1.7M1227.9 627.3h2.4M1235.8 627.3h1.3M1244.6 627.3h2M309 638.1h4.5M374 638.1h2.3M385.2 638.1h2.8M399.6 638.1h6M475.7 638.1h1.6M548.8 638.1h1.8M558.8 638.1h1.9M567.7 638.1h2.6M575.4 638.1h2.7M612.1 638.1h1.8M712.6 638.1h2.2M735.3 638.1h2.4M746.1 638.1h2.9M886.8 638.1h1.3M938.3 638.1h2.1M1017.2 638.1h2.9M1053 638.1h2.1M1098.2 638.1h1.7M1252 638.1h1.4M1277.3 638.1h1.5M1244.6 638.1h2M1290 638.1h2M309 649h4.5M382 649h3.6M393 649h3M463 649h2.6M483.9 649h2.4M538.5 649h1.4M595.1 649h1.9M617.9 649h2.8M625.6 649h2.5M717.3 649h2.9M867.6 649h2.1M1048.7 649h1.8M1164.9 649h1.6M1227.7 649h2.7M1268.8 649h2.2M1244.6 649h2M1322.9 649h5M1397 649h1.6M310.3 659.8h3.6M392 659.8h3M440.4 659.8h4M467 659.8h2.6M578.7 659.8h1.7M679.8 659.8h1.8M717.3 659.8h2.7M731.6 659.8h2.4M1103.1 659.8h1.9M1209.2 659.8h2.9M1274 659.8h2.5M1244.6 659.8h2M1331.2 659.8h2.2M1342.8 659.8h2M1350.8 659.8h4.4M309.5 670.6h4M379.7 670.6h2.3M391 670.6h2.6M431 670.6h2.4M591.2 670.6h1.9M885.3 670.6h2.4M949.6 670.6h1.4M974.2 670.6h2.9M1120.2 670.6h6M1244.6 670.6h2M1300 670.6h7.4M1333.2 670.6h2.2M1337.2 670.6h1.6M1372.1 670.6h2.6M343.4 681.5h2.4M357.4 681.5h3.3M368.1 681.5h3.2M377.3 681.5h3.4M401.6 681.5h3M507.4 681.5h2.9M530 681.5h2.7M636.8 681.5h5.6M649.5 681.5h1.6M669.5 681.5h4.3M848 681.5h1.9M885.6 681.5h1.4M1082.3 681.5h1.7M1140.8 681.5h2.9M1193.3 681.5h2.5M1261.4 681.5h2.3M1244.6 681.5h2M1319.5 681.5h2.4M1350.8 681.5h3M309 692.3h3M335.8 692.3h3M344.8 692.3h2.6M353.4 692.3h2.4M370.3 692.3h2.8M389.6 692.3h2.6M420.1 692.3h4.4M432 692.3h3.4M499.5 692.3h1.6M518.9 692.3h2M588.3 692.3h1.8M709.8 692.3h1.8M727.7 692.3h2.7M811.3 692.3h1.8M821.8 692.3h2.2M930.6 692.3h1.6M1026 692.3h2.2M1129 692.3h1.7M1160.1 692.3h2.6M1275.6 692.3h1.5M1244.6 692.3h2M1367.1 692.3h2M308.4 703.1h3.6M324.5 703.1h4M331.9 703.1h3.3M337.8 703.1h2M342.2 703.1h2.6M353.4 703.1h2M357.4 703.1h3.3M367.3 703.1h2.8M377.3 703.1h2.8M382.3 703.1h3.3M388 703.1h3.6M425.1 703.1h7M553 703.1h1.9M621.5 703.1h1.4M686.6 703.1h2.7M717 703.1h2.5M751.9 703.1h1.5M818.6 703.1h1.7M892.9 703.1h1.6M1244.6 703.1h2M310.3 714h4M390.2 714h3M426.1 714h4.8M438.4 714h2M537.5 714h1.9M653.7 714h1.3M827.4 714h2.7M859.7 714h1.9M895.3 714h2.8M1244.6 714h2M1314.9 714h3M1332.8 714h4M1360.7 714h4" stroke="#fb8072" stroke-opacity=".35" stroke-width="7.8" fill="none"/>
<path d="M307.2 724.8H446.5" stroke="#acd4ce" stroke-width="6.6"/>
<path d="M309 724.8H446" stroke="#d9d9d9" stroke-opacity=".3" stroke-width="6.6" stroke-dasharray="0.7 1.9 0.6 2.7 0.8 1.5 0.7 3.3"/>
<path d="M314.9 724.8h2.6" stroke="#b0d890" stroke-width="6.6"/>
<path d="M446.5 724.8H453.5" stroke="#d9d9d9" stroke-width="6.6"/>
<path d="M453.5 724.8H1411.7" stroke="#bc80bd" stroke-width="6.6"/>
<g stroke="#000" stroke-width="0.95" fill="none">
<path d="M252.4 36.8V730.7" stroke="#222" stroke-width="1.15"/>
<path d="M251.8 729.9H1475.5" stroke="#4a4a4a" stroke-width="1.7"/>
<path d="M247.2 42.4h7.1M247.2 53.2h7.1M247.2 64.1h7.1M247.2 74.9h7.1M247.2 85.7h7.1M247.2 96.6h7.1M247.2 107.4h7.1M247.2 118.2h7.1M247.2 129h7.1M247.2 139.9h7.1M247.2 150.7h7.1M247.2 161.5h7.1M247.2 172.4h7.1M247.2 183.2h7.1M247.2 194h7.1M247.2 204.8h7.1M247.2 215.7h7.1M247.2 226.5h7.1M247.2 237.3h7.1M247.2 248.2h7.1M247.2 259h7.1M247.2 269.8h7.1M247.2 280.7h7.1M247.2 291.5h7.1M247.2 302.3h7.1M247.2 313.1h7.1M247.2 324h7.1M247.2 334.8h7.1M247.2 345.6h7.1M247.2 356.5h7.1M247.2 367.3h7.1M247.2 378.1h7.1M247.2 389h7.1M247.2 399.8h7.1M247.2 410.6h7.1M247.2 421.4h7.1M247.2 432.3h7.1M247.2 443.1h7.1M247.2 453.9h7.1M247.2 464.8h7.1M247.2 475.6h7.1M247.2 486.4h7.1M247.2 497.3h7.1M247.2 508.1h7.1M247.2 518.9h7.1M247.2 529.8h7.1M247.2 540.6h7.1M247.2 551.4h7.1M247.2 562.2h7.1M247.2 573.1h7.1M247.2 583.9h7.1M247.2 594.7h7.1M247.2 605.6h7.1M247.2 616.4h7.1M247.2 627.2h7.1M247.2 638h7.1M247.2 648.9h7.1M247.2 659.7h7.1M247.2 670.5h7.1M247.2 681.4h7.1M247.2 692.2h7.1M247.2 703h7.1M247.2 713.9h7.1M247.2 724.7h7.1M340.4 728.1v7.4M619.6 728.1v7.4M898.8 728.1v7.4M1178 728.1v7.4M1457.2 728.1v7.4"/>
</g>
<g font-size="8.5" fill="#444" text-anchor="end">
<text transform="translate(241.9 45.6) scale(1.15 1)">CPU0</text>
<text transform="translate(241.9 56.4) scale(1.15 1)">CPU1</text>
<text transform="translate(241.9 67.3) scale(1.15 1)">CPU2</text>
<text transform="translate(241.9 78.1) scale(1.15 1)">CPU3</text>
<text transform="translate(241.9 88.9) scale(1.15 1)">CPU4</text>
<text transform="translate(241.9 99.8) scale(1.15 1)">CPU5</text>
<text transform="translate(241.9 110.6) scale(1.15 1)">CPU6</text>
<text transform="translate(241.9 121.4) scale(1.15 1)">CPU7</text>
<text transform="translate(241.9 132.2) scale(1.15 1)">CPU8</text>
<text transform="translate(241.9 143.1) scale(1.15 1)">CPU9</text>
<text transform="translate(241.9 153.9) scale(1.15 1)">CPU10</text>
<text transform="translate(241.9 164.7) scale(1.15 1)">CPU11</text>
<text transform="translate(241.9 175.6) scale(1.15 1)">CPU12</text>
<text transform="translate(241.9 186.4) scale(1.15 1)">CPU13</text>
<text transform="translate(241.9 197.2) scale(1.15 1)">CPU14</text>
<text transform="translate(241.9 208) scale(1.15 1)">CPU15</text>
<text transform="translate(241.9 218.9) scale(1.15 1)">CPU16</text>
<text transform="translate(241.9 229.7) scale(1.15 1)">CPU17</text>
<text transform="translate(241.9 240.5) scale(1.15 1)">CPU18</text>
<text transform="translate(241.9 251.4) scale(1.15 1)">CPU19</text>
<text transform="translate(241.9 262.2) scale(1.15 1)">CPU20</text>
<text transform="translate(241.9 273) scale(1.15 1)">CPU21</text>
<text transform="translate(241.9 283.9) scale(1.15 1)">CPU22</text>
<text transform="translate(241.9 294.7) scale(1.15 1)">CPU23</text>
<text transform="translate(241.9 305.5) scale(1.15 1)">CPU24</text>
<text transform="translate(241.9 316.4) scale(1.15 1)">CPU25</text>
<text transform="translate(241.9 327.2) scale(1.15 1)">CPU26</text>
<text transform="translate(241.9 338) scale(1.15 1)">CPU27</text>
<text transform="translate(241.9 348.8) scale(1.15 1)">CPU28</text>
<text transform="translate(241.9 359.7) scale(1.15 1)">CPU29</text>
<text transform="translate(241.9 370.5) scale(1.15 1)">CPU30</text>
<text transform="translate(241.9 381.3) scale(1.15 1)">CPU31</text>
<text transform="translate(241.9 392.2) scale(1.15 1)">CPU32</text>
<text transform="translate(241.9 403) scale(1.15 1)">CPU33</text>
<text transform="translate(241.9 413.8) scale(1.15 1)">CPU34</text>
<text transform="translate(241.9 424.7) scale(1.15 1)">CPU35</text>
<text transform="translate(241.9 435.5) scale(1.15 1)">CPU36</text>
<text transform="translate(241.9 446.3) scale(1.15 1)">CPU37</text>
<text transform="translate(241.9 457.1) scale(1.15 1)">CPU38</text>
<text transform="translate(241.9 468) scale(1.15 1)">CPU39</text>
<text transform="translate(241.9 478.8) scale(1.15 1)">CPU40</text>
<text transform="translate(241.9 489.6) scale(1.15 1)">CPU41</text>
<text transform="translate(241.9 500.5) scale(1.15 1)">CPU42</text>
<text transform="translate(241.9 511.3) scale(1.15 1)">CPU43</text>
<text transform="translate(241.9 522.1) scale(1.15 1)">CPU44</text>
<text transform="translate(241.9 533) scale(1.15 1)">CPU45</text>
<text transform="translate(241.9 543.8) scale(1.15 1)">CPU46</text>
<text transform="translate(241.9 554.6) scale(1.15 1)">CPU47</text>
<text transform="translate(241.9 565.4) scale(1.15 1)">CPU48</text>
<text transform="translate(241.9 576.3) scale(1.15 1)">CPU49</text>
<text transform="translate(241.9 587.1) scale(1.15 1)">CPU50</text>
<text transform="translate(241.9 597.9) scale(1.15 1)">CPU51</text>
<text transform="translate(241.9 608.8) scale(1.15 1)">CPU52</text>
<text transform="translate(241.9 619.6) scale(1.15 1)">CPU53</text>
<text transform="translate(241.9 630.4) scale(1.15 1)">CPU54</text>
<text transform="translate(241.9 641.2) scale(1.15 1)">CPU55</text>
<text transform="translate(241.9 652.1) scale(1.15 1)">CPU56</text>
<text transform="translate(241.9 662.9) scale(1.15 1)">CPU57</text>
<text transform="translate(241.9 673.7) scale(1.15 1)">CPU58</text>
<text transform="translate(241.9 684.6) scale(1.15 1)">CPU59</text>
<text transform="translate(241.9 695.4) scale(1.15 1)">CPU60</text>
<text transform="translate(241.9 706.2) scale(1.15 1)">CPU61</text>
<text transform="translate(241.9 717.1) scale(1.15 1)">CPU62</text>
<text transform="translate(241.9 727.9) scale(1.15 1)">UserThread599651</text>
</g>
<g font-size="8.5" fill="#444" text-anchor="middle">
<text transform="translate(340.4 749.1) scale(1.15 1)">500ms</text>
<text transform="translate(619.6 749.1) scale(1.15 1)">000ms</text>
<text transform="translate(898.8 749.1) scale(1.15 1)">500ms</text>
<text transform="translate(1178 749.1) scale(1.15 1)">000ms</text>
<text transform="translate(1457.2 749.1) scale(1.15 1)">500ms</text>
<text transform="translate(387.5 794.1) scale(1.15 1)">500ms</text>
<text transform="translate(641.4 794.1) scale(1.15 1)">000ms</text>
<text transform="translate(895.3 794.1) scale(1.15 1)">500ms</text>
<text transform="translate(1149.2 794.1) scale(1.15 1)">000ms</text>
<text transform="translate(1403.1 794.1) scale(1.15 1)">500ms</text>
</g>
<rect x="252" y="756.5" width="1223.5" height="17.6" fill="#efefef"/>
<path d="M387.5 756.4V774.4M641.4 756.4V774.4M895.3 756.4V774.4M1149.2 756.4V774.4M1403.1 756.4V774.4" stroke="#e2e2e2" stroke-width="0.9"/>
<rect x="307.3" y="757.4" width="1112.5" height="16.8" fill="#000080" fill-opacity=".2" stroke="#000" stroke-opacity=".4" stroke-width="0.9" stroke-dasharray="1.8 1.8"/>
<g stroke="#000" stroke-width="0.95">
<path d="M251.8 774.2H1475.5" stroke="#747474" stroke-width="1.9"/>
<path d="M387.5 772.5v7.5M641.4 772.5v7.5M895.3 772.5v7.5M1149.2 772.5v7.5M1403.1 772.5v7.5"/>
</g>
<path d="M1118.3 36.8V730" stroke="#1e1e1e" stroke-width="1.2"/>
<rect x="1338.7" y="45.7" width="127.7" height="305.8" fill="#fff" fill-opacity=".95" stroke="#e5e5e5" stroke-opacity=".7" stroke-width="0.9"/>
<g font-size="11.68" fill="#444">
<rect x="1349" y="56.5" width="15.1" height="15.1" fill="#d9d9d9"/>
<text x="1373.7" y="68">Submitting task</text>
<rect x="1349" y="77.3" width="15.1" height="15.1" fill="#b3de69"/>
<text x="1373.7" y="88.7">Scheduling</text>
<rect x="1349" y="98" width="15.1" height="15.1" fill="#8dd3c7"/>
<text x="1373.7" y="109.4">Building task</text>
<rect x="1349" y="118.7" width="15.1" height="15.1" fill="#fb8072"/>
<text x="1373.7" y="130.1">Overhead</text>
<rect x="1349" y="139.4" width="15.1" height="15.1" fill="#bebada"/>
<text x="1373.7" y="150.8">FetchingInput</text>
<rect x="1349" y="160.1" width="15.1" height="15.1" fill="#ffffb3"/>
<text x="1373.7" y="171.6">dpotrf</text>
<rect x="1349" y="180.8" width="15.1" height="15.1" fill="#fdb462"/>
<text x="1373.7" y="192.3">PushingOutput</text>
<rect x="1349" y="201.5" width="15.1" height="15.1" fill="#fb8072"/>
<text x="1373.7" y="213">dtrsm</text>
<rect x="1349" y="222.2" width="15.1" height="15.1" fill="#ffffb3"/>
<text x="1373.7" y="233.7">Callback</text>
<rect x="1349" y="242.9" width="15.1" height="15.1" fill="#80b1d3"/>
<text x="1373.7" y="254.4">Progressing</text>
<rect x="1349" y="263.7" width="15.1" height="15.1" fill="#fccde5"/>
<text x="1373.7" y="275.1">Sleeping</text>
<rect x="1349" y="284.4" width="15.1" height="15.1" fill="#bebada"/>
<text x="1373.7" y="295.8">dsyrk</text>
<rect x="1349" y="305.1" width="15.1" height="15.1" fill="#8dd3c7"/>
<text x="1373.7" y="316.5">dgemm</text>
<rect x="1349" y="325.8" width="15.1" height="15.1" fill="#bc80bd"/>
<text x="1373.7" y="337.2">Waiting all tasks</text>
</g>
<rect x="961.4" y="230.6" width="148.3" height="76.6" fill="#fff" fill-opacity=".95" stroke="#e5e5e5" stroke-width="0.9"/>
<path d="M1110.3 263.4L1117.9 268.9L1110.3 274.4Z" fill="#909599"/>
<g font-size="10.75">
<text x="1011.4" y="246.6" text-anchor="end" fill="#26aae1">Function:</text><text x="1012.8" y="246.6" fill="#333">dgemm</text>
<text x="1011.4" y="263.4" text-anchor="end" fill="#26aae1">Start:</text><text x="1012.8" y="263.4" fill="#333">3.889e+3</text>
<text x="1011.4" y="280.2" text-anchor="end" fill="#26aae1">Stop:</text><text x="1012.8" y="280.2" fill="#333">3.906e+3</text>
<text x="1011.4" y="297" text-anchor="end" fill="#26aae1">Duration:</text><text x="1012.8" y="297" fill="#333">17ms 206us 221ns</text>
</g>
<rect x="1473.8" y="59" width="1.4" height="26.9" fill="#26aae1"/>
<rect x="1473.8" y="195.5" width="1.4" height="26.9" fill="#26aae1"/>
<rect x="1473.8" y="278.2" width="1.4" height="26.9" fill="#26aae1"/>
<rect x="1473.8" y="305.1" width="1.4" height="26.9" fill="#26aae1"/>
<path d="M1483 113.4H1492" stroke="#d0d0d0" stroke-width="0.9"/>
<path d="M1483 141.3H1492" stroke="#d0d0d0" stroke-width="0.9"/>
<path d="M1483 223H1492" stroke="#d0d0d0" stroke-width="0.9"/>
<path d="M1483 277.8H1492" stroke="#d0d0d0" stroke-width="0.9"/>
<g transform="translate(1479.6 64.2) scale(0.6667)" fill="none" stroke="#8d959b" stroke-width="1.8" stroke-linecap="round" stroke-linejoin="round" opacity="1.0"><path d="M15 15m-5 0a5 5 0 1 0 10 0a5 5 0 1 0 -10 0"/><path d="M22 22l-3 -3"/><path d="M6.5 18a3.5 3.5 0 0 1 -3.5 -3.5"/><path d="M3 11v-1"/><path d="M3 6.5a3.5 3.5 0 0 1 3.5 -3.5"/><path d="M10 3h1"/><path d="M14.5 3a3.5 3.5 0 0 1 3.5 3.5"/></g>
<g transform="translate(1479.6 91.2) scale(0.6667)" fill="none" stroke="#8d959b" stroke-width="1.8" stroke-linecap="round" stroke-linejoin="round" opacity="1.0"><path d="M15 15m-5 0a5 5 0 1 0 10 0a5 5 0 1 0 -10 0"/><path d="M22 22l-3 -3"/><path d="M6.5 18a3.5 3.5 0 0 1 -3.5 -3.5"/><path d="M3 11v-1"/><path d="M3 6.5a3.5 3.5 0 0 1 3.5 -3.5"/><path d="M10 3h1"/><path d="M14.5 3a3.5 3.5 0 0 1 3.5 3.5"/><path d="M13 13l4 4"/><path d="M17 13l-4 4"/></g>
<g fill="none" stroke="#8d959b" stroke-linecap="round">
<rect x="1480.4" y="122.2" width="6.2" height="10.2" rx="3.1" stroke-width="1.15" fill="#eceeef"/>
<path d="M1483.5 124.9v3.2" stroke-width="1.1" stroke-opacity=".8"/>
<path d="M1487.2 127.3H1494.6M1490.7 123.7V130.9" stroke-width="1.5" stroke-opacity=".55" stroke-dasharray="1.4 1"/>
</g>
<g transform="translate(1479.3 146.8) scale(0.6667)" fill="none" stroke="#8d959b" stroke-width="1.7" stroke-linecap="round" stroke-linejoin="round" opacity="1.0"><path d="M3 12l3 0"/><path d="M12 3l0 3"/><path d="M7.8 7.8l-2.2 -2.2"/><path d="M16.2 7.8l2.2 -2.2"/><path d="M7.8 16.2l-2.2 2.2"/><path d="M12 12l9 3l-4 2l-2 4l-3 -9"/></g>
<g transform="translate(1479.3 173.7) scale(0.6667)" fill="none" stroke="#8d959b" stroke-width="1.7" stroke-linecap="round" stroke-linejoin="round" opacity="1.0"><path d="M3 12l3 0"/><path d="M12 3l0 3"/><path d="M7.8 7.8l-2.2 -2.2"/><path d="M16.2 7.8l2.2 -2.2"/><path d="M7.8 16.2l-2.2 2.2"/><path d="M12 12l9 3l-4 2l-2 4l-3 -9"/></g>
<g transform="translate(1479.3 200.6) scale(0.6667)" fill="none" stroke="#8d959b" stroke-width="1.7" stroke-linecap="round" stroke-linejoin="round" opacity="1.0"><path d="M3 12l3 0"/><path d="M12 3l0 3"/><path d="M7.8 7.8l-2.2 -2.2"/><path d="M16.2 7.8l2.2 -2.2"/><path d="M7.8 16.2l-2.2 2.2"/><path d="M12 12l9 3l-4 2l-2 4l-3 -9"/></g>
<g transform="translate(1479.6 228.3) scale(0.6667)" fill="none" stroke="#8d959b" stroke-width="1.8" stroke-linecap="round" stroke-linejoin="round" opacity="1.0"><path d="M9 14l-4 -4l4 -4"/><path d="M5 10h11a4 4 0 1 1 0 8h-1"/></g>
<g transform="translate(1479.2 255.2) scale(0.6667)" fill="none" stroke="#8d959b" stroke-width="1.8" stroke-linecap="round" stroke-linejoin="round" opacity="0.4"><path d="M15 14l4 -4l-4 -4"/><path d="M19 10h-11a4 4 0 1 0 0 8h1"/></g>
<g transform="translate(1479.6 283.7) scale(0.6667)" fill="none" stroke="#8d959b" stroke-width="1.8" stroke-linecap="round" stroke-linejoin="round" opacity="1.0"><path d="M12 12m-9 0a9 9 0 1 0 18 0a9 9 0 1 0 -18 0"/><path d="M12 3l0 5"/><path d="M12 21l0 -5"/><path d="M3 12l5 0"/><path d="M21 12l-5 0"/></g>
<g transform="translate(1479.6 310.9) scale(0.6667)" fill="none" stroke="#8d959b" stroke-width="1.8" stroke-linecap="round" stroke-linejoin="round" opacity="1.0"><path d="M8 9h8"/><path d="M8 13h6"/><path d="M9 18h-3a3 3 0 0 1 -3 -3v-8a3 3 0 0 1 3 -3h12a3 3 0 0 1 3 3v8a3 3 0 0 1 -3 3h-3l-3 3l-3 -3z"/></g>
<g transform="translate(1486.95 44.95)">
<rect x="-3.1" y="-8.45" width="6.2" height="4.3" rx="1.1" fill="#00a650" transform="rotate(0) rotate(-42 0 -6.3)"/>
<rect x="-3.1" y="-8.45" width="6.2" height="4.3" rx="1.1" fill="#00a9a7" transform="rotate(45) rotate(-42 0 -6.3)"/>
<rect x="-3.1" y="-8.45" width="6.2" height="4.3" rx="1.1" fill="#1ea7e1" transform="rotate(90) rotate(-42 0 -6.3)"/>
<rect x="-3.1" y="-8.45" width="6.2" height="4.3" rx="1.1" fill="#8b2f96" transform="rotate(135) rotate(-42 0 -6.3)"/>
<rect x="-3.1" y="-8.45" width="6.2" height="4.3" rx="1.1" fill="#e8116a" transform="rotate(180) rotate(-42 0 -6.3)"/>
<rect x="-3.1" y="-8.45" width="6.2" height="4.3" rx="1.1" fill="#f05a1e" transform="rotate(225) rotate(-42 0 -6.3)"/>
<rect x="-3.1" y="-8.45" width="6.2" height="4.3" rx="1.1" fill="#f8a11b" transform="rotate(270) rotate(-42 0 -6.3)"/>
<rect x="-3.1" y="-8.45" width="6.2" height="4.3" rx="1.1" fill="#a8d320" transform="rotate(315) rotate(-42 0 -6.3)"/>
</g>
<g font-size="10.75" fill="#000">
<text x="1505.6" y="46.7">174020</text>
<text x="1529.6" y="83">1.</text>
<text x="1541.8" y="83"><tspan font-weight="bold">Thread</tspan>: CPU21</text>
<text x="1541.8" y="98.2"><tspan font-weight="bold">Function</tspan>: dgemm</text>
<text x="1541.8" y="113.5"><tspan font-weight="bold">Start</tspan>: 3s 888ms 592us 468ns</text>
<text x="1541.8" y="128.7"><tspan font-weight="bold">Finish</tspan>: 3s 905ms 798us 689ns</text>
<text x="1541.8" y="143.9"><tspan font-weight="bold">Duration</tspan>: 17ms 206us 221ns</text>
</g>
<g font-size="10.75">
<text x="4.7" y="14.1" fill="#000">Load Trace:</text>
<rect x="70.4" y="3.3" width="80.4" height="23.4" rx="3.5" fill="#fff" stroke="#ccc" stroke-width="0.9"/>
<text x="82.6" y="19" fill="#333">Select trace</text>
<rect x="5.3" y="768.3" width="55.5" height="23.1" rx="3.5" fill="#fff" stroke="#ccc" stroke-width="0.9"/>
<text x="16.7" y="783.9" fill="#333">update</text>
</g>
<text x="160" y="20.4" font-size="16.2" fill="#000">/home/trahay/Soft/opt/blup/paje.trace_blup.csv</text>
<clipPath id="sc"><rect x="5.2" y="36.3" width="140.5" height="721.8" rx="3.5"/></clipPath>
<g clip-path="url(#sc)">
<rect x="5.2" y="36.3" width="140.5" height="721.8" fill="#fff"/>
<rect x="16.1" y="36.1" width="103.8" height="722" fill="#cecece"/>
<rect x="129.8" y="36.1" width="16" height="722" fill="#fcfcfc"/>
<g font-size="11.9" fill="#111">
<text x="16.4" y="47.8">CPU0</text>
<text x="16.4" y="62.2">CPU1</text>
<text x="16.4" y="76.6">CPU2</text>
<text x="16.4" y="91">CPU3</text>
<text x="16.4" y="105.3">CPU4</text>
<text x="16.4" y="119.7">CPU5</text>
<text x="16.4" y="134.1">CPU6</text>
<text x="16.4" y="148.5">CPU7</text>
<text x="16.4" y="162.9">CPU8</text>
<text x="16.4" y="177.3">CPU9</text>
<text x="16.4" y="191.6">CPU10</text>
<text x="16.4" y="206">CPU11</text>
<text x="16.4" y="220.4">CPU12</text>
<text x="16.4" y="234.8">CPU13</text>
<text x="16.4" y="249.2">CPU14</text>
<text x="16.4" y="263.6">CPU15</text>
<text x="16.4" y="278">CPU16</text>
<text x="16.4" y="292.3">CPU17</text>
<text x="16.4" y="306.7">CPU18</text>
<text x="16.4" y="321.1">CPU19</text>
<text x="16.4" y="335.5">CPU20</text>
<text x="16.4" y="349.9">CPU21</text>
<text x="16.4" y="364.3">CPU22</text>
<text x="16.4" y="378.7">CPU23</text>
<text x="16.4" y="393">CPU24</text>
<text x="16.4" y="407.4">CPU25</text>
<text x="16.4" y="421.8">CPU26</text>
<text x="16.4" y="436.2">CPU27</text>
<text x="16.4" y="450.6">CPU28</text>
<text x="16.4" y="465">CPU29</text>
<text x="16.4" y="479.4">CPU30</text>
<text x="16.4" y="493.7">CPU31</text>
<text x="16.4" y="508.1">CPU32</text>
<text x="16.4" y="522.5">CPU33</text>
<text x="16.4" y="536.9">CPU34</text>
<text x="16.4" y="551.3">CPU35</text>
<text x="16.4" y="565.7">CPU36</text>
<text x="16.4" y="580">CPU37</text>
<text x="16.4" y="594.4">CPU38</text>
<text x="16.4" y="608.8">CPU39</text>
<text x="16.4" y="623.2">CPU40</text>
<text x="16.4" y="637.6">CPU41</text>
<text x="16.4" y="652">CPU42</text>
<text x="16.4" y="666.4">CPU43</text>
<text x="16.4" y="680.7">CPU44</text>
<text x="16.4" y="695.1">CPU45</text>
<text x="16.4" y="709.5">CPU46</text>
<text x="16.4" y="723.9">CPU47</text>
<text x="16.4" y="738.3">CPU48</text>
<text x="16.4" y="752.7">CPU49</text>
</g>
<path d="M132.9 47.8H142.1L137.5 42.9Z M133 745.9H141.9L137.45 750.8Z" fill="#8b8b8b"/>
<rect x="133.1" y="54.9" width="8.7" height="535.8" rx="4.35" fill="#8b8b8b"/>
</g>
<rect x="5.2" y="36.3" width="140.5" height="721.8" rx="3.5" fill="none" stroke="#ccc" stroke-width="0.9"/>
</svg>
</body></html>
